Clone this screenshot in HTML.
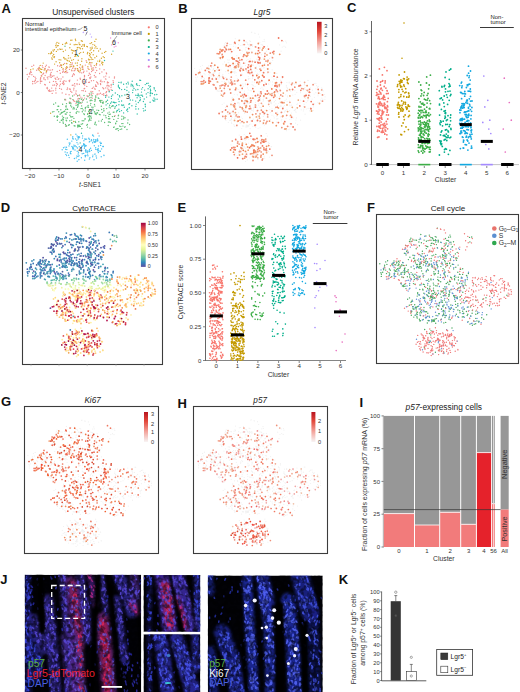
<!DOCTYPE html>
<html><head><meta charset="utf-8"><style>
html,body{margin:0;padding:0;background:#fff}
body{width:520px;height:692px;overflow:hidden;font-family:"Liberation Sans",sans-serif}
svg{display:block}
</style></head><body>
<svg width="520" height="692" viewBox="0 0 520 692" font-family="Liberation Sans, sans-serif">
<rect width="520" height="692" fill="#fff"/>
<text x="1.5" y="12.6" font-size="13" font-weight="bold" fill="#111">A</text>
<text x="178.3" y="13" font-size="13" font-weight="bold" fill="#111">B</text>
<text x="347" y="12.2" font-size="13" font-weight="bold" fill="#111">C</text>
<text x="0.8" y="212" font-size="13" font-weight="bold" fill="#111">D</text>
<text x="177.6" y="212" font-size="13" font-weight="bold" fill="#111">E</text>
<text x="366.9" y="211.6" font-size="13" font-weight="bold" fill="#111">F</text>
<text x="0.9" y="406.2" font-size="13" font-weight="bold" fill="#111">G</text>
<text x="177.6" y="407.6" font-size="13" font-weight="bold" fill="#111">H</text>
<text x="359.6" y="407.4" font-size="13" font-weight="bold" fill="#111">I</text>
<text x="0.2" y="583.6" font-size="13" font-weight="bold" fill="#111">J</text>
<text x="338.7" y="584.2" font-size="13" font-weight="bold" fill="#111">K</text>
<text x="93.3" y="14.6" font-size="8.35" text-anchor="middle" fill="#222">Unsupervised clusters</text>
<g stroke-width="1.4" stroke-linecap="round" opacity="1.0"><path d="M83.4 52.2h0M56.2 47.2h0M81.9 58.7h0M82.4 69.3h0M66.7 66.6h0M101.4 58.3h0M82.5 48.8h0M90.1 43.5h0M70.1 64.8h0M97.8 61.1h0M66.9 60.1h0M94.3 65.6h0M68.3 58.1h0M67.8 60.8h0M78 47.5h0M62.6 44.4h0M65.5 50.1h0M104.4 57.6h0M93.7 50.7h0M71.5 50h0M91.8 69h0M66.7 63.5h0M73.9 51h0M97.1 48.4h0M39.2 70.2h0M56.4 51.4h0M91.1 59.6h0M75.9 55.9h0M96.6 63.4h0M56.1 61.8h0M40.3 71.7h0M58.8 43.3h0M86.8 46.4h0M69.4 61.3h0M98.6 51h0M82.3 67.4h0M91.6 42.7h0M61.6 67.4h0M54.1 57.5h0M46.3 70.7h0M89.3 59.8h0M70.8 40.3h0M84.4 45.2h0M66.3 42.4h0M65.8 58.9h0M79.8 47.8h0M104.6 52.4h0M94.7 45.3h0M78.8 71.5h0M56.2 43.9h0M40.2 65.4h0M44.9 68.5h0M46.5 71.7h0M75.5 54.9h0M79.4 44.4h0M51.8 53.3h0M75.8 44.5h0M89 69.4h0M89.1 63.9h0M43.2 63.1h0M74.9 56.4h0M57.3 45.7h0M51.8 57.9h0M87.4 46.8h0M77.8 70.5h0M38.1 68.7h0M54.6 64.1h0M82.3 66.3h0M77.2 65.5h0M75.4 63.1h0M90.2 54.2h0M94.9 48.1h0M71.2 66.4h0M70.6 62.6h0M41.1 69.4h0M92.1 47.3h0M90.3 47.9h0M61.6 65.5h0M53.4 51.1h0M59.9 48.9h0M30.7 69.8h0M80.5 68.9h0M92.1 48.4h0M65.6 71.4h0M87.4 53.7h0M92.9 44.6h0M58.3 45.6h0M72.4 53h0M72.8 50.5h0M94.9 57.7h0M66.8 43.3h0M75.7 40.6h0M75.3 68.7h0M63.3 51.5h0M80.7 52.6h0M77.3 47.7h0M53.7 54.5h0M39.4 67.9h0M50.4 53.7h0M80.4 48.7h0M62 49.3h0M66.8 63.8h0M81.7 46.4h0M78.4 56.2h0M52.7 55.9h0M70.8 134.9h0M71.7 70.1h0M41.8 69.4h0M80.3 64.7h0M84.2 44.4h0M59.7 62.7h0M78.2 60.2h0M111.6 54.3h0M77 49.8h0M81.3 40.8h0M77.3 63h0M66.4 68.6h0M70.2 44.3h0M54 57h0M82.3 41.3h0M91.5 52.6h0M102.1 53.2h0M73.7 66.7h0M63.6 57.8h0M96.5 64.8h0M82.7 66.1h0M54.5 56.7h0M33.1 68.9h0M84.3 46.2h0M55.7 45.6h0M71.7 60.3h0M88.5 59.1h0M90.4 57h0M103.2 56.7h0M79 42.9h0M57.9 49.7h0M73.7 121.5h0M77.3 68.8h0M60.4 49.4h0M52.2 59.3h0M63.9 57.5h0M51.3 52.6h0M99.8 60.2h0M65.3 43.8h0M68.5 55.6h0M95.9 46.8h0M81.7 61.3h0M105.8 51.4h0M87.7 52.5h0M75.9 54.5h0M75.4 39.3h0M70.3 57.9h0M101.8 63.2h0M91.9 62.8h0M102 62h0M48.7 53.6h0M93.2 54.7h0M77.1 44.6h0M74.2 44.8h0M99.6 61.5h0M44.2 70h0M87.9 66.8h0M41.4 72.5h0M50.6 113.3h0M80.3 70.7h0M51.4 51.9h0M89.4 55.6h0M90.1 50.6h0M63.4 64.5h0M41.7 75.9h0M73.6 66h0M69.8 47.8h0M91.5 57.9h0M60.8 59.9h0M82.7 44.9h0M64.6 58.9h0M57 42.4h0M89.6 62.4h0M66.1 67.6h0M89.6 53.5h0M63.4 68.9h0M40.1 68.6h0M80 44.8h0M72 40.1h0M92.8 59.4h0M89 59.9h0M89.7 55.6h0M103 62.6h0M54.4 49.8h0M100.3 49h0M94.8 41.4h0M59.1 59.7h0M96.6 56.3h0M61 64.7h0M86.8 62.2h0M73.5 59.6h0M77.6 68.8h0M53 50.1h0M102.6 64.7h0M70 67h0M96 39.2h0M91.1 49.6h0M79.4 53.5h0" stroke="#d8a830"/>
<path d="M106.9 85.9h0M78.8 98.5h0M62.2 92.9h0M79.1 101.4h0M104.1 69.7h0M45 69.3h0M56.5 83.5h0M54.5 85h0M27.2 74.5h0M91.1 66.2h0M55.9 81.6h0M77.4 80.1h0M109.2 90.3h0M63.5 82.7h0M89.5 97.9h0M74.1 70.8h0M98.1 84h0M111 87.6h0M93.5 67.9h0M88.5 75.4h0M65.7 99.9h0M46.3 65.2h0M108.5 82.6h0M77.1 84.6h0M62.6 69.1h0M91.3 94.7h0M74.6 83.8h0M36.7 82.1h0M48.9 67h0M90.8 64.9h0M39.3 67.2h0M30 72.9h0M109.2 77.1h0M49 76.8h0M59.6 88.4h0M47.3 77.3h0M31.9 74.7h0M47.9 69.4h0M100.4 81.2h0M42.9 67.5h0M52.2 93.4h0M69.5 69.4h0M47.8 78.9h0M79.7 67.4h0M63.1 81.8h0M89.3 73.2h0M63.3 70.9h0M109 86.6h0M75.3 68.5h0M64.2 83.9h0M65.5 69.3h0M67.5 67.5h0M72.7 68.3h0M99.7 68.9h0M70.7 91.2h0M38.5 68.1h0M109.3 91.3h0M66.7 71h0M44.7 84.5h0M47.5 88.7h0M86.8 86.4h0M60.3 81.2h0M55.7 90.1h0M103.7 93.7h0M57.4 84.2h0M94.8 88.8h0M35.3 80.5h0M49.2 67.3h0M29.8 74.3h0M60.4 84.2h0M99.2 90.8h0M64.7 63.5h0M91 91.5h0M86.4 82.1h0M51.2 77.4h0M96.7 70.5h0M99.6 73.5h0M99.9 65h0M51.2 72.4h0M76.2 94.3h0M83.8 84.3h0M92.3 98.1h0M111.2 84.5h0M45.4 84.9h0M84 81.8h0M103.7 88.8h0M85.3 65.1h0M55.8 81.8h0M52.5 69.8h0M34.3 81.5h0M31.2 72.4h0M50.6 74h0M30.7 71.5h0M69.5 81.5h0M45.5 66.6h0M77.7 95.6h0M90.3 78.3h0M92.7 70.2h0M103.9 76.9h0M51.7 88.1h0M84.5 75.4h0M35.4 79.9h0M77.7 101.2h0M108.2 89.8h0M56 93h0M115 115.7h0M35.1 77.2h0M74.3 74.8h0M41.8 81.2h0M73.2 85.1h0M72 66.1h0M72.3 76.4h0M29.5 73.3h0M50.7 75.2h0M99 94h0M73.6 73.7h0M70.3 89.3h0M111.2 85.7h0M74.2 95h0M79.6 95h0M49.5 90h0M90 78.5h0M79.6 95.6h0M96.6 81.9h0M75 70.1h0M71.8 92.2h0M100.5 93.2h0M87.3 96.6h0M61.5 89.3h0M95.7 86.3h0M113.1 80.7h0M84.1 88.7h0M107.3 85.3h0M108.8 85.4h0M82.7 100.6h0M55.1 78.2h0M96.3 65h0M90.9 76.9h0M28.9 76.8h0M47.1 70.6h0M47.2 87.5h0M55.8 79.3h0M76.1 91h0M41.3 75.9h0M31.9 66.4h0M80.4 79.3h0M40.7 77.8h0M73.7 89.9h0M102.8 87.7h0M85.5 91.3h0M87.1 95.6h0M53.5 81.4h0M84.6 98.1h0M79.4 84.2h0M70.7 102.7h0M67.1 89.5h0M46.2 72.7h0M106.3 72.9h0M67.5 88h0M100.6 84.5h0M113.4 82.4h0M83.6 99.6h0M105.8 76.1h0M79.9 72.5h0M104.3 81.8h0M95.4 72.6h0M83.3 90.7h0M89.8 77.8h0M101.9 71.9h0M88.6 82.4h0M71.9 70.7h0M38.5 69.5h0M86.2 60.7h0M83.9 71.3h0M77 83.6h0M56.5 85.7h0M96.5 86.2h0M74.8 101.4h0M32.7 83.8h0M84.6 88.5h0M95.8 67.5h0M106.8 95.7h0M89.1 95.6h0M103.8 95.3h0M84.7 85.1h0M94.4 75.4h0M27.6 79h0M49.6 82.2h0M105.7 87.9h0M98 133.3h0M66 81.3h0M73.6 100.8h0M106.6 73.8h0M69.2 102.3h0M114.5 76.9h0M106.6 91.6h0M89.3 93.4h0M40.5 78.9h0M59.6 70.4h0M81.7 72.9h0M80.1 78.3h0M40.4 83.1h0M45.1 75.5h0M106.2 92.5h0M50.8 76.9h0M111.2 89.8h0M64.1 80.8h0M69.1 94.8h0M50.3 75h0M50.7 70.1h0M45.2 79.7h0M36.7 70.3h0M91.4 80.8h0M35.9 78.6h0M81.9 90.6h0M67.6 72.6h0M95.9 76.9h0M107.5 81.9h0M43.6 73.3h0M106 92.7h0M107.4 82.9h0M86.9 71.1h0M88.1 68.5h0M45.1 68.8h0M58.8 78.8h0M100.5 83.4h0M93.6 80.6h0M77.5 96h0M72.6 75.1h0M62.9 77h0M106.5 91.8h0M92 67.9h0M58.2 79.2h0M42.8 74.2h0M91.6 71.5h0M97.5 82.7h0M57.2 71.5h0M47 88.3h0M92.5 88.2h0M26 68.2h0M92.2 88.4h0M114.4 78.1h0M53.1 90.8h0M72.3 85.3h0M102 81.8h0M106.6 94.9h0M92.7 91.8h0M52.9 85.3h0M73.9 88.2h0M40.3 80.1h0M65.9 94.3h0M71.9 64.4h0M102.2 94.4h0M101 80.1h0M100.9 100.8h0M84.3 78.1h0M37.9 81.4h0M93.7 87.1h0M69.9 80.1h0M75.8 93.1h0M50.9 75.3h0M49.8 91.4h0M77.9 99h0M95.4 99h0M64.6 72.3h0M63.4 84.6h0M86.5 79.7h0M107.8 88.1h0M51.1 91h0M95.6 84.9h0M62.6 72.3h0M60.3 73.3h0M60.7 65.2h0M40.5 81.4h0M48.8 90.9h0M89.5 82.2h0M82.2 98.1h0M55.8 88.2h0M48.5 90.7h0M66.1 72.8h0M74.9 86h0M52.4 76.2h0M42.3 65.8h0M44 77.7h0M78.3 70.3h0M73.6 100.3h0M76 103.3h0M33.7 65.2h0M40.7 78h0M61.1 78.9h0M59.6 85.9h0M80.8 97.1h0M93.6 69.9h0M59.8 66.2h0M53.9 75.8h0M43.8 78.9h0M97.1 94.7h0M90.4 62.7h0M32.6 81.5h0M49.1 70.1h0M65 99.3h0M93 93.6h0M83.5 72.5h0M70.8 98.8h0M57.6 65.8h0M69.1 80.8h0M63 71.8h0M82.7 67.2h0M41.4 75.4h0M84.5 76.5h0M90.2 74.5h0M33.6 76.4h0M62.4 83.4h0M105.5 78.9h0M97.3 93.9h0M95.1 77h0M83.2 69.3h0M69.4 89h0M35.1 83.2h0M95.1 89.3h0M106 79.1h0M81.1 103.3h0M57.2 77.3h0M72.3 63h0M65.9 125.9h0" stroke="#f09090"/>
<path d="M82.6 135.9h0M89.7 151.5h0M89.5 149.5h0M99.7 151.1h0M72.8 136.8h0M89.3 141.9h0M85.9 150.2h0M77.4 148h0M93 135.6h0M70.4 153.4h0M71.1 151.4h0M93.3 141h0M74 146.6h0M84.4 148.3h0M72.7 147.5h0M79.6 137.1h0M87.6 152.3h0M79 155.7h0M73.1 139h0M95.6 142h0M83.6 144.8h0M85.9 155.5h0M96.5 158h0M78.7 136.8h0M84.8 139h0M98.1 149.1h0M97.3 149.7h0M88.8 138.2h0M97 140.1h0M73.5 148.3h0M78 144.1h0M82.6 146h0M81.2 147.5h0M73.3 138.9h0M78 156.6h0M81.4 157.8h0M94.9 154.2h0M89.3 139.3h0M91.3 140.8h0M79.3 146.7h0M95.8 149.4h0M97.5 138.9h0M97.7 141.1h0M98.3 150.3h0M67.2 152.8h0M75.1 145.8h0M69 145.9h0M71.9 146.5h0M72.7 138.2h0M100.4 151.2h0M79.1 136.6h0M70.4 152h0M85.1 145.3h0M76.3 157.9h0M65.7 149.3h0M103.4 146.5h0M89.7 141.4h0M86.2 152h0M100.6 143.6h0M69.2 157.6h0M65.9 154.4h0M95.7 139.8h0M71.8 141.1h0M83.9 140.7h0M103.9 155.1h0M73.2 149.6h0M84.6 146.8h0M85.6 146.1h0M102.8 146.5h0M77.2 161.2h0M85.6 139.3h0M78.7 136.7h0M65.1 152h0M90.6 148.2h0M83.7 153.4h0M69.2 142.9h0M66.5 147.2h0M65 147.1h0M101.6 148.9h0M72.7 148.6h0M95.7 140.9h0M85.1 155.4h0M75 150h0M94.5 142.3h0M87.6 154.1h0M89.3 159.1h0M89.2 150.7h0M75.5 138.9h0M91.5 139.8h0M67.3 139.3h0M81.8 146.2h0M85.3 156.7h0M82.5 138.1h0M76.2 146.8h0M68.6 155.3h0M87.9 155.8h0M70.1 143.1h0M98.1 148.5h0M87.3 150.9h0M94 159.8h0M76.8 140.3h0M66.9 149.6h0M78.1 139h0M95.7 147.7h0M79 159.6h0M73.9 145.1h0M89 151.3h0M84.5 144.4h0M78 137.2h0M95 153.9h0M86.6 139.1h0M92.7 156.8h0M94.8 141.5h0M92.9 155.1h0M89.9 157.7h0M77 142.6h0M91.4 150.4h0M74.4 158.5h0M70.9 153.8h0M85.6 151.9h0M94.3 145.7h0M97.9 151.1h0M96.1 156h0M86.2 145.8h0M98.4 152.5h0M84 145.2h0M76.9 156h0M93.8 139.4h0M83.8 144.9h0M92.8 135.4h0M92.7 142.7h0M97.9 140.2h0M84.7 160.2h0M66.6 155.6h0M98.5 146h0M62.2 149.7h0M77.2 151.2h0M78.9 137.8h0M92.7 135h0M82.2 153.7h0M77.1 135.9h0M99.1 135.9h0M83.7 143.7h0M69.6 144.3h0M63.5 147.8h0M93.6 136.1h0M101.2 156.8h0M100.1 142.2h0M100.6 145.4h0M85.8 149.6h0M104 155.5h0M101.4 143.2h0M85.5 150.5h0M96 141.6h0M78.9 159.7h0M75.9 134.3h0M78.2 154h0M78.5 152.2h0" stroke="#48c0f0"/>
<path d="M103.2 101.9h0M76.1 105.2h0M77.6 125.8h0M63.1 117.9h0M66.2 106h0M109.7 118.7h0M121 126.6h0M90.9 120.2h0M71.7 107h0M115.6 123.3h0M77.7 104.4h0M74.3 108.7h0M70.7 116.7h0M95.7 95.9h0M82.2 108.4h0M89.1 115.7h0M128 119.9h0M73.8 107.5h0M91.7 113.5h0M78.2 125.8h0M83.9 113.8h0M95.4 122.1h0M96.9 110.1h0M118.6 115.1h0M70 98.2h0M62.7 119.1h0M104.6 122.5h0M80.4 126.4h0M56.9 116.4h0M100.2 101.5h0M123 123.6h0M88.6 120.9h0M65.7 109.5h0M91.4 118h0M63 121.9h0M101.9 100.4h0M83.8 120.8h0M117 128.8h0M52.5 111.9h0M91 99.9h0M94.9 99.4h0M70.1 112.5h0M108.4 118.7h0M65.7 106.1h0M127 129.5h0M106.4 101.5h0M101.6 109.5h0M88.7 111.4h0M73 108.9h0M98.8 121.1h0M69.5 103.3h0M90.2 110h0M63.6 117.5h0M125 117.7h0M91.7 107.1h0M89.7 118.2h0M60.1 114.3h0M98.3 97.9h0M75.2 121.5h0M66.3 114.1h0M88.1 96.6h0M90 116.7h0M108.7 116.4h0M72.9 99.6h0M91 116.1h0M72.6 96h0M67.6 109.4h0M61.9 120.2h0M101.4 121h0M106.7 108.6h0M72.7 116.8h0M69.8 120.8h0M78.5 100.9h0M115.7 123.7h0M92.1 95.8h0M86.8 125.2h0M105.9 101.9h0M66.6 125.9h0M115.9 129.3h0M98.8 98.4h0M88.1 105.5h0M75.6 122.4h0M77.8 127h0M92.8 109.1h0M109.6 105.2h0M108.2 125.5h0M113.8 119.4h0M102.4 119.4h0M78.8 121.8h0M109.7 118.4h0M99.4 114.4h0M71.9 123.2h0M100.4 100.5h0M90.8 103.4h0M87.5 127.1h0M107.8 113.1h0M79.8 98.7h0M77.5 107.3h0M87.6 114.3h0M127.7 123h0M114.1 126.9h0M95.2 122.9h0M71.8 122.7h0M103.7 110.9h0M81.5 99.3h0M79.2 126.5h0M65 46.2h0M103.9 115.1h0M109.6 118.8h0M87.4 124.4h0M99.7 100.4h0M77.9 105.8h0M57.1 109.8h0M70.7 105.7h0M102.4 102.6h0M97.6 113.1h0M95.8 97.2h0M62.2 112.6h0M60.8 109.8h0M55.6 102.9h0M93 107.2h0M58 106.3h0M86.5 99h0M69.9 115.3h0M122.9 126.1h0M87.2 102.1h0M119.6 126.1h0M76.3 113.2h0M82.2 120.7h0M98.6 110.5h0M120.2 129.4h0M57.2 117.4h0M74.2 125.7h0M69.9 102.3h0M77.9 95.5h0M85.4 118.9h0M91.2 93h0M87.1 106.9h0M76.2 112.8h0M67 112.5h0M100.7 102.2h0M118.1 118.4h0M62.6 104.3h0M77.1 111.5h0M66.1 120.2h0M59.9 122.2h0M64.7 111.3h0M116.8 121.5h0M66.6 120.7h0M90.5 105.1h0M71.6 122.6h0M78.9 103h0M89.9 128.1h0M110.3 122.4h0M110.3 107.9h0M129.6 124.5h0M89.2 111.9h0M81 108.6h0M78.9 111.9h0M106.1 117.8h0M79.4 103h0M123.6 117h0M84.8 119h0M65.3 114h0M94.8 124.3h0M114.8 108.3h0M78.4 104.1h0M92 100.6h0M96.3 124.9h0M118.4 130.6h0M71.6 120.1h0M121.8 119.3h0M61.3 120.3h0M71.4 116.9h0M118.3 115.7h0M116.5 111.9h0M76.4 109.3h0M53.7 104.2h0M82.3 111.8h0M100.1 114.7h0M61.2 113.2h0M109.2 114.4h0M103.8 108.7h0M66.1 107.1h0M81.8 128.5h0M80.6 102.7h0M87.7 113.7h0M95.2 100h0M57.9 116.4h0M118 128.6h0M109.3 121.9h0M110.4 114.1h0M95.1 113.8h0M79.4 125.2h0M76.7 101.3h0M89.3 110.4h0M54.3 116.2h0M87.1 107.1h0M123.6 118.7h0M121.9 116.2h0M62.4 116.1h0M109.2 112.1h0M89.6 94.9h0M94.9 101.2h0M73.9 118.4h0M105.7 115.8h0M121.8 123.6h0M81.2 124.2h0M85.4 107.5h0M82.3 102.1h0M103 103.4h0M94.9 106.1h0M104 110.7h0M65.5 124.5h0M108.4 122h0M94.5 104.5h0M78.2 105.9h0M94.4 111.8h0M67.1 108.9h0M112.5 105.7h0M89.6 115.5h0M75 126h0M57.3 115.9h0M124.7 127.2h0M101.3 106.2h0M102.2 112.4h0M96.2 114.5h0M65.9 118.1h0M66.5 103.6h0M63.1 111.9h0M53.9 111.6h0M91 97.5h0M112.4 116.6h0M114.1 112.1h0M67.4 118h0M69.3 124.7h0M63.3 123.2h0M116.7 121.1h0M83.3 99.9h0M89.5 119.5h0M111.8 106.5h0M57.4 120.3h0M93.1 110h0M125.1 126.8h0M81.6 105.9h0M121.7 129h0M85.3 108.8h0M85.2 110.9h0M89.2 120.3h0M63.4 119.8h0M58.7 106.2h0M57.7 109.6h0M70.9 103.8h0M64.1 111.5h0M78 125h0M58.7 111.8h0M113.3 112.3h0M103.1 102.5h0M119.8 126.1h0M90.1 100.7h0M113.7 127.4h0M84.3 114.5h0M114.4 116.4h0M82.6 123.8h0M88.5 107.2h0M68.5 125.2h0M88.2 116.7h0M97.4 112.6h0M83.1 110h0M96.2 113.2h0M91.7 112.9h0M76.8 102.2h0M66 126.2h0M61.5 112.4h0M84 95.5h0M94.8 112.1h0M64.9 99.8h0" stroke="#60c078"/>
<path d="M155 99.2h0M132.6 92.6h0M121.6 89.6h0M118.4 99.1h0M145.2 104.2h0M142.6 96.2h0M127.6 109h0M154 98h0M131.2 84.2h0M135.8 95.3h0M143.7 110.9h0M142.6 87.6h0M117.6 110.4h0M115.3 93h0M126.8 110.3h0M139 95.4h0M145.3 104.8h0M117.6 94.6h0M152.8 100.1h0M145.3 110.2h0M121.6 101h0M121.5 110.6h0M77.6 55.5h0M150.3 92h0M123.3 105h0M113 51.1h0M134 88.5h0M119.4 95.8h0M114 102.2h0M129.6 103.7h0M137.2 114h0M157.1 99.2h0M112.7 94.9h0M152.4 93.5h0M124.9 95h0M135.8 106.5h0M122.1 105.6h0M113.3 102.3h0M141.5 92.1h0M137.1 97.7h0M115.2 106.7h0M127.8 111.6h0M150.3 93.8h0M112.2 90.4h0M124.7 89.4h0M109.2 107.1h0M121.9 95.8h0M118.9 109.2h0M144.6 90.1h0M143.2 108.6h0M146.3 93.9h0M118.4 85.3h0M136.5 84.3h0M148.1 88.7h0M119.6 88.6h0M128.9 104.2h0M138.1 94h0M148.8 85.6h0M131.9 105.7h0M154.7 94.8h0M114.7 102.7h0M135.9 109h0M106.1 104.9h0M119.3 87.8h0M131 85.9h0M128.4 83.9h0M148.1 83.3h0M81.5 133.2h0M123.6 112.9h0M139 96.1h0M145.4 106.8h0M104.5 60.5h0M137.9 89.5h0M142.1 95.1h0M153.5 101h0M135.7 89.9h0M140.2 97.7h0M109.2 91.8h0M118.9 82.4h0M110.6 103.2h0M150.6 90.5h0M156.8 94.5h0M111.6 101.9h0M136.7 83.6h0M105.6 97.2h0M139.2 85.6h0M146.6 97.1h0M124.3 107.2h0M108.9 97.1h0M145.2 84.6h0M119.7 96.9h0M128.9 92.1h0M137.3 95.6h0M150.9 93h0M136.2 104.1h0M129.3 107.7h0M127.2 109.5h0M139.7 100.8h0M121.2 82.1h0M116.8 111h0M126.9 87.1h0M116.5 105.5h0M150.1 102.2h0M126.9 90.5h0M146.6 83.5h0M143.4 101.5h0M113.3 105.9h0M123.7 105.1h0M121.7 104.9h0M119.1 101.5h0M138.4 95.1h0M139.8 80.3h0M114.5 102.5h0M78.1 102.4h0M118.4 86.8h0M141.7 89.1h0M132.7 100.1h0M132.4 85.3h0M127.1 94.2h0M150.5 86.2h0M128 82.3h0M150.3 93.5h0M107.5 100.2h0M135.7 101.1h0M133.1 86.8h0M138.5 108.9h0M132.7 85.2h0M155.4 90.8h0M80.2 142.9h0M144.2 99h0M111.4 98.5h0M107.8 103.6h0M130.3 100h0M137.2 85.3h0M150.4 89.3h0M154.3 88.9h0M105.5 95.6h0M132.2 81.3h0M113.2 84.3h0M140.4 99.8h0M138.3 102.5h0M118.9 104.8h0M141 95.3h0M123.6 84.3h0M154.7 100.9h0M119.6 111.5h0M154.1 87.8h0M116 102.6h0M111.5 96.2h0M148 92.6h0M140.6 80.4h0M121.1 82.8h0M126.4 83.8h0M150.2 95.7h0M132.9 90.2h0M149.6 87.1h0" stroke="#30c0a8"/>
<path d="M86.5 33h0M83.2 32.6h0M90.2 34.1h0M91.5 37h0M83.5 32.2h0" stroke="#c0a8ff"/>
<path d="M113.8 40.6h0M118.3 42.7h0M111.6 44.9h0M115.5 41.6h0M114.2 47h0M110.6 38h0M115.9 46.2h0" stroke="#f090d8"/></g>
<rect x="22.5" y="18.5" width="142" height="150" fill="none" stroke="#3c3c3c" stroke-width="1.1"/>
<line x1="30" y1="168.75" x2="30" y2="170.5" stroke="#333" stroke-width="0.6"/>
<text x="30" y="177.5" font-size="6.2" text-anchor="middle" fill="#333">−20</text>
<line x1="59" y1="168.75" x2="59" y2="170.5" stroke="#333" stroke-width="0.6"/>
<text x="59" y="177.5" font-size="6.2" text-anchor="middle" fill="#333">−10</text>
<line x1="88" y1="168.75" x2="88" y2="170.5" stroke="#333" stroke-width="0.6"/>
<text x="88" y="177.5" font-size="6.2" text-anchor="middle" fill="#333">0</text>
<line x1="116" y1="168.75" x2="116" y2="170.5" stroke="#333" stroke-width="0.6"/>
<text x="116" y="177.5" font-size="6.2" text-anchor="middle" fill="#333">10</text>
<line x1="145" y1="168.75" x2="145" y2="170.5" stroke="#333" stroke-width="0.6"/>
<text x="145" y="177.5" font-size="6.2" text-anchor="middle" fill="#333">20</text>
<line x1="20.8" y1="50" x2="22.5" y2="50" stroke="#333" stroke-width="0.6"/>
<text x="19.8" y="52.2" font-size="6.2" text-anchor="end" fill="#333">20</text>
<line x1="20.8" y1="92.5" x2="22.5" y2="92.5" stroke="#333" stroke-width="0.6"/>
<text x="19.8" y="94.7" font-size="6.2" text-anchor="end" fill="#333">0</text>
<line x1="20.8" y1="135" x2="22.5" y2="135" stroke="#333" stroke-width="0.6"/>
<text x="19.8" y="137.2" font-size="6.2" text-anchor="end" fill="#333">−20</text>
<text x="90" y="186.5" font-size="6.8" text-anchor="middle" fill="#333"><tspan font-style="italic">t</tspan>-SNE1</text>
<text transform="translate(5.8,93.5) rotate(-90)" font-size="6.8" text-anchor="middle" fill="#333"><tspan font-style="italic">t</tspan>-SNE2</text>
<text x="25" y="25.6" font-size="5.85" fill="#222">Normal</text>
<text x="25" y="30.6" font-size="5.85" fill="#222">intestinal epithelium</text>
<path d="M77.5 30 l3 -1 l2 -1.5" fill="none" stroke="#444" stroke-width="0.5"/>
<text x="83.5" y="30.5" font-size="7" fill="#222">5</text>
<path d="M87.5 31.5 L85.5 35.5" fill="none" stroke="#444" stroke-width="0.5"/>
<text x="111.5" y="34.5" font-size="5.6" fill="#222">Immune cell</text>
<path d="M117 36 L114 40" fill="none" stroke="#444" stroke-width="0.5"/>
<text x="112" y="45" font-size="7" fill="#222">6</text>
<text x="76" y="55" font-size="7" text-anchor="middle" fill="#222">1</text>
<text x="84" y="83.5" font-size="7" text-anchor="middle" fill="#222">0</text>
<text x="90.5" y="114" font-size="7" text-anchor="middle" fill="#222">2</text>
<text x="128" y="98.5" font-size="7" text-anchor="middle" fill="#222">3</text>
<text x="80.5" y="151.5" font-size="7" text-anchor="middle" fill="#222">4</text>
<circle cx="148.8" cy="27.3" r="1.1" fill="#F8766D"/>
<text x="155.5" y="29.3" font-size="5.6" fill="#333">0</text>
<circle cx="148.8" cy="33.9" r="1.1" fill="#C49A00"/>
<text x="155.5" y="35.9" font-size="5.6" fill="#333">1</text>
<circle cx="148.8" cy="40.4" r="1.1" fill="#3DAE48"/>
<text x="155.5" y="42.4" font-size="5.6" fill="#333">2</text>
<circle cx="148.8" cy="47" r="1.1" fill="#00AE8A"/>
<text x="155.5" y="49" font-size="5.6" fill="#333">3</text>
<circle cx="148.8" cy="53.5" r="1.1" fill="#12A8E0"/>
<text x="155.5" y="55.5" font-size="5.6" fill="#333">4</text>
<circle cx="148.8" cy="60" r="1.1" fill="#A58AFF"/>
<text x="155.5" y="62" font-size="5.6" fill="#333">5</text>
<circle cx="148.8" cy="66.6" r="1.1" fill="#E870C0"/>
<text x="155.5" y="68.6" font-size="5.6" fill="#333">6</text>
<text x="262" y="14.8" font-size="8.4" text-anchor="middle" font-style="italic" fill="#222">Lgr5</text>
<g stroke-width="1.2" stroke-linecap="round" opacity="1.0"><path d="M251.7 52.2h0M299.9 102.8h0M271.3 102h0M244.4 105.4h0M247.1 98.6h0M245.9 126h0M231.5 118.1h0M250.2 58.8h0M272.2 69.8h0M322.8 99.3h0M271.6 103.6h0M213.5 69.4h0M300.5 92.7h0M243.4 148.4h0M259.3 66.3h0M277.8 118.8h0M224.4 81.7h0M286.4 99.2h0M269.5 58.4h0M277.3 90.5h0M231 144.9h0M289 126.8h0M259.1 120.4h0M257.7 98h0M267.9 151.3h0M250.8 48.9h0M254.8 33.1h0M242.4 70.9h0M310.5 96.4h0M295.5 109.2h0M257.6 100.7h0M279.1 87.7h0M261.7 68h0M251.5 70.3h0M321.8 98.1h0M246.1 104.6h0M234.1 100h0M299.1 84.3h0M303.7 95.4h0M240.4 68.4h0M310.4 87.8h0M258.3 159.2h0M235.3 60.2h0M245.4 84.7h0M240.8 122.9h0M249.8 78.5h0M285.7 110.6h0M228.8 82.4h0M294.7 110.4h0M245.7 148.2h0M306.8 95.5h0M264.3 149.1h0M257.4 115.8h0M236.7 58.2h0M296 120.1h0M238.8 153.6h0M231.1 69.1h0M313.2 104.9h0M259.5 94.8h0M261.5 141.2h0M246.4 47.5h0M242.9 83.9h0M217.4 67h0M285.7 94.8h0M259.9 113.7h0M231 44.4h0M246.5 126h0M233.9 50.2h0M252.2 114h0M259 65h0M261.9 50.8h0M320.6 100.2h0M207.9 67.3h0M217.5 76.9h0M242.4 146.8h0M252.6 148.5h0M313.1 110.4h0M228 88.5h0M289.6 101.1h0M289.5 110.7h0M215.9 77.4h0M200.6 74.8h0M235.1 63.5h0M216.5 69.5h0M263.6 122.3h0M242.3 51h0M265.3 48.4h0M268.6 81.3h0M265.1 110.2h0M211.5 67.6h0M220.6 93.6h0M227.6 44.1h0M207.8 70.3h0M237.9 69.5h0M237.4 78.5h0M318.1 92.1h0M238.3 98.3h0M246.1 155.5h0M257.6 150.9h0M291.3 105.1h0M247.3 155.9h0M281.1 51.2h0M257.5 73.3h0M231.1 119.2h0M231.7 71h0M243.7 68.6h0M244.3 55.9h0M264.7 63.5h0M287.4 95.9h0M248.7 126.6h0M233.9 69.4h0M224.5 61.9h0M254.1 155.7h0M264.7 158.2h0M297.5 103.9h0M259.2 60.7h0M268.3 101.6h0M228.9 60.1h0M239.1 91.4h0M256.8 121h0M305.1 114.2h0M324.9 99.3h0M234.1 109.7h0M266.3 149.3h0M235.1 71.1h0M255.1 46.4h0M255 86.5h0M309.5 110.8h0M228.8 81.3h0M320.2 93.6h0M266.7 51h0M250.6 67.5h0M259.8 42.7h0M224.2 90.2h0M265.1 140.3h0M286.4 42.8h0M271.8 93.8h0M292.8 95.1h0M201.3 78.3h0M231.4 122.1h0M230 67.5h0M296.4 117.9h0M263 88.9h0M198.5 74.4h0M303.7 106.6h0M221 112.1h0M290.1 105.8h0M228.8 84.3h0M259.3 122.8h0M263.1 99.6h0M238.5 112.7h0M259.2 91.6h0M241.7 139.1h0M276.5 118.9h0M254.6 82.2h0M260.3 61.4h0M219.7 77.5h0M257.6 59.9h0M305 97.8h0M264.9 70.6h0M208.9 74.6h0M274.5 101.6h0M267.8 73.6h0M308.1 108.4h0M269.8 109.6h0M252.6 45.3h0M283.3 106.9h0M219.7 72.5h0M252 84.4h0M253.4 85.8h0M260.5 98.2h0M252.2 81.9h0M256.9 111.5h0M241.3 109.1h0M237.8 103.5h0M248.1 47.9h0M253.5 65.2h0M267.7 61.7h0M262.9 45.4h0M227.6 114h0M249.7 158h0M263.1 154.4h0M242 93.4h0M258.4 110.1h0M247.1 71.6h0M295.8 111.8h0M224.2 81.9h0M232 117.6h0M257.6 139.5h0M293 117.9h0M221 69.8h0M259.9 107.2h0M224.7 43.9h0M259.5 141h0M305.4 98.4h0M318.1 93.9h0M257.9 118.4h0M228.5 114.5h0M205 74.8h0M219.1 74.1h0M243.5 121.7h0M234.7 114.2h0M199.4 71.6h0M256.4 96.8h0M257 61.4h0M248 59.6h0M258.2 116.9h0M325.1 96.8h0M276.8 116.5h0M237.9 81.6h0M241.2 99.8h0M208.8 65.5h0M213.4 68.6h0M257.1 148.2h0M214 66.7h0M215 71.8h0M247.7 44.4h0M220.3 53.3h0M258.5 78.4h0M285.6 47.2h0M272 77h0M235.6 153h0M257.2 69.5h0M236 109.5h0M230.3 120.4h0M257.4 63.9h0M286.9 109.3h0M243.4 146.1h0M312.5 90.2h0M225.8 45.7h0M235.2 116.4h0M204 80h0M246 101.4h0M229.6 44.3h0M240.3 146.7h0M226.8 105.2h0M241.1 138.4h0M314.1 94h0M241.4 158.7h0M286.4 85.4h0M246.1 70.5h0M206.7 68.8h0M233.3 65.6h0M274.8 108.8h0M280.6 102.2h0M223 64.1h0M268.6 151.4h0M241.1 117h0M203.7 77.3h0M242.7 74.9h0M241.5 85.2h0M247.4 136.8h0M238.8 152.3h0M304.4 84.4h0M315.9 88.8h0M245.5 65.6h0M287.6 88.7h0M296.8 104.3h0M306 94.1h0M316.6 85.7h0M216.5 81.8h0M271.6 146.7h0M240.3 66.2h0M240.6 76.5h0M198.2 73.4h0M258.5 54.3h0M256.4 68h0M274 102.1h0M219.2 75.3h0M235 126.1h0M285 100.4h0M241.9 73.8h0M283.9 129.5h0M238.7 89.5h0M221.5 55.3h0M247.9 95.1h0M268.7 143.8h0M282.7 102.9h0M218 90.2h0M267 98.5h0M303.8 109.2h0M258.2 78.6h0M247.9 95.7h0M274.2 105.1h0M239.6 66.5h0M256.4 105.7h0M264.8 82.1h0M241.1 68.1h0M240.2 141.3h0M263.3 116.4h0M252.1 140.9h0M246.1 127.2h0M241.5 149.8h0M261.1 109.2h0M277.6 105.4h0M209.7 69.5h0M252.9 147h0M232.4 71.7h0M281.8 119.5h0M255.5 96.7h0M287.3 87.9h0M260.3 47.3h0M263.9 86.4h0M281.1 80.8h0M270.5 119.5h0M253.9 146.4h0M296.3 84h0M252.4 88.8h0M290.7 91.2h0M315.9 83.4h0M277.8 118.6h0M247.6 87.9h0M240.2 123.3h0M268.5 100.6h0M259 103.6h0M291.6 113h0M264.7 41.2h0M306.9 96.3h0M271 146.8h0M313.3 106.9h0M228.3 49h0M255.7 127.3h0M199.4 69.8h0M245.6 161.4h0M197.5 76.9h0M248.1 98.9h0M248.8 69h0M249.7 44.9h0M255.8 114.4h0M295.6 123.1h0M215.7 70.7h0M219 57.6h0M248.2 89.9h0M251.4 32.6h0M224.2 79.4h0M260.3 48.4h0M244.4 91.1h0M209.9 76h0M200.5 66.5h0M234 71.5h0M248.6 79.4h0M261.1 44.6h0M295.1 128.2h0M242.1 90h0M270.9 87.8h0M298.2 86.5h0M222 81.5h0M260.9 144.4h0M246.6 41.9h0M282.2 127h0M240.8 53h0M256.8 52.8h0M240.2 122.9h0M271.9 111.1h0M249.7 99.4h0M239 102.8h0M241.1 50.5h0M213.7 72.8h0M247.5 126.7h0M215.4 78.8h0M276.7 79.2h0M263.1 57.8h0M233.4 46.3h0M272 115.2h0M214.7 72.8h0M272.7 60.5h0M277.6 118.9h0M243.6 68.8h0M255.7 124.6h0M305.8 89.6h0M267.8 100.5h0M309.9 95.2h0M268.8 84.6h0M239.1 105.8h0M270.5 102.7h0M265.8 113.3h0M251.9 99.8h0M245.7 47.7h0M263.9 97.3h0M321.2 101.1h0M230.6 112.8h0M229.2 109.9h0M241.1 148.8h0M208 68h0M303.6 90h0M224.1 103h0M253.4 155.6h0M272.5 81.9h0M261.2 107.4h0M251.4 108.8h0M277.3 91.9h0M251.6 90.8h0M226.4 106.5h0M262.7 142.5h0M254.7 99.1h0M248.3 76.5h0M286.9 82.5h0M238.3 115.5h0M290.9 126.3h0M238.4 61.8h0M255.5 102.3h0M270 72h0M211.6 76h0M219.4 89.1h0M274.4 74.1h0M278.7 103.3h0M244.6 113.3h0M250.5 120.8h0M318.4 90.6h0M207 69.6h0M255.8 154.4h0M235.2 63.9h0M254.4 60.8h0M252.2 71.4h0M288.2 129.6h0M225.7 117.6h0M245.3 83.7h0M242.5 125.9h0M238.3 102.4h0M250 46.4h0M253.6 119.1h0M257.5 159.3h0M264.7 86.3h0M324.6 94.6h0M243.1 101.6h0M259.4 93.2h0M279.7 102h0M264 67.6h0M260 127.8h0M244.6 112.9h0M257.4 95.7h0M235.9 67.9h0M268.9 102.3h0M304.6 83.7h0M257.4 150.9h0M252.9 85.2h0M286.1 118.6h0M196.2 79.1h0M218.1 82.3h0M243.8 139.1h0M259.7 140h0M272.5 84.9h0M221.2 56h0M243.8 126h0M314.4 97.3h0M239.2 135.1h0M228.3 122.4h0M273.9 88h0M266.2 133.5h0M234.4 81.5h0M210.4 69.5h0M252.4 44.4h0M274.7 73.9h0M276.9 97.2h0M237.5 102.4h0M235 120.8h0M228.1 62.7h0M258.7 105.2h0M239.9 122.8h0M250.1 146.4h0M247.2 103.1h0M232.2 97.6h0M246.5 60.3h0M279.7 44.9h0M258.1 128.3h0M287.7 97h0M243.8 148.1h0M245.3 49.9h0M249.6 40.8h0M257.6 93.6h0M272 122.1h0M250.7 138.3h0M236.5 140.7h0M292.9 126.7h0M209.1 79h0M195.8 77.5h0M248.8 125.6h0M297.6 124.7h0M257.4 112h0M296.8 92.3h0M258.4 34.2h0M235.3 38.7h0M274.2 117.9h0M245.6 63.1h0M234.8 68.7h0M247.7 103.2h0M300.6 120.2h0M242.9 97.9h0M304.1 104.2h0M238.6 44.4h0M260.6 120.7h0M222.5 57.1h0M253 119.2h0M248.4 78.4h0M252.2 145.8h0M250.6 41.4h0M242 66.7h0M233.7 114.2h0M235.8 47.1h0M244.5 147h0M259.2 94.6h0M263 124.5h0M237 155.6h0M219.3 77h0M238.5 143.3h0M264.7 64.9h0M220.3 49.9h0M259.7 37h0M232.1 98.8h0M279.3 89.9h0M257 146.5h0M246.7 104.2h0M201.7 69h0M232.5 80.9h0M252.5 46.3h0M260.2 100.7h0M231.7 101.2h0M213 65.7h0M224.1 45.6h0M237.5 95h0M264.4 125.1h0M286.4 130.7h0M218.8 75.1h0M289.8 119.5h0M213.8 79.8h0M229.7 120.5h0M259.6 81h0M239.8 117h0M286.3 115.9h0M245.1 140.5h0M204.5 78.7h0M284.6 112.1h0M244.8 109.5h0M250.2 90.7h0M295.1 109.7h0M236 72.7h0M307.6 100.9h0M222.2 104.3h0M250.5 112h0M228.8 62.6h0M268.2 114.8h0M275.6 82h0M212.2 73.4h0M274.2 92.9h0M246.4 139.2h0M272 108.8h0M240 60.3h0M255.2 71.1h0M256.3 68.6h0M213.7 68.8h0M283.5 41.6h0M289.2 82.2h0M256.8 59.2h0M239.4 149.6h0M250.1 128.7h0M227.3 78.9h0M248.9 102.8h0M281.3 120.8h0M268.7 83.5h0M271.3 56.8h0M247.3 42.9h0M263.4 100.2h0M245.8 96.1h0M284.8 111.2h0M262.3 44.8h0M245.6 68.9h0M247.3 159.9h0M252.8 110.5h0M274.6 91.9h0M296 112.2h0M266.6 68.8h0M260.2 68h0M226.3 116.5h0M303.3 110.9h0M284.5 105.6h0M277.4 122.1h0M278.5 114.2h0M317.9 102.3h0M211.3 74.3h0M220.7 59.4h0M257.2 151.5h0M294.9 90.6h0M259.9 71.6h0M211.7 67.1h0M265.7 82.8h0M225.7 71.6h0M269.2 102.7h0M301.2 109.8h0M314.5 83.6h0M263.3 114h0M245.4 101.5h0M215.6 88.4h0M247.7 125.4h0M260.7 88.3h0M245 101.5h0M294.2 110.6h0M281.4 106h0M291.7 105.2h0M252.8 144.6h0M233.7 43.9h0M194.7 68.3h0M289.7 105.1h0M236.8 55.7h0M260.4 88.5h0M255.4 107.3h0M249.2 72.5h0M204.1 73.6h0M236.7 140.6h0M282.4 78.2h0M291.5 118.8h0M289.9 116.3h0M270.1 81.9h0M259.4 58.2h0M258.9 79.7h0M255.9 52.6h0M277.3 112.2h0M219 78.9h0M280.6 80.2h0M263.1 101.3h0M242.3 118.6h0M273.8 116h0M287.1 101.6h0M307.7 80.4h0M249.8 44h0M258.1 158h0M289.8 123.7h0M249.4 124.4h0M245.3 142.8h0M253.7 107.7h0M234.4 89.9h0M234.3 94.5h0M240.3 64.5h0M243.7 39.3h0M246.4 102.5h0M249.6 74.2h0M271.1 103.6h0M259.7 151.3h0M227.8 80.1h0M286.4 86.9h0M233.9 124.7h0M300.7 100.2h0M252.5 78.2h0M276.5 122.2h0M206.4 81.5h0M261.9 87.2h0M230.8 114.2h0M270.2 62.1h0M262.7 104.7h0M244.1 93.2h0M239.3 154.1h0M225.5 107.4h0M261.3 70.2h0M251.8 32.2h0M219.4 75.4h0M295.1 94.3h0M261.4 54.7h0M318.3 86.3h0M280.6 105.9h0M263.4 95.9h0M218.4 91.5h0M244.7 146.8h0M259.5 120.8h0M257.8 115.7h0M245.4 44.6h0M250.2 74.4h0M242.6 44.9h0M243.4 126.1h0M266.1 151.3h0M272.7 92.8h0M264.2 156.2h0M212.8 70.1h0M246.2 99.1h0M263.6 99.1h0M233 72.4h0M240.8 45.5h0M256.1 66.9h0M292.7 127.4h0M318.1 93.6h0M282.2 47.1h0M275.9 88.3h0M219.6 91.1h0M246.4 71.6h0M269.5 106.4h0M275.6 100.4h0M196.2 81.2h0M270.3 112.6h0M264.4 114.7h0M234.3 118.2h0M257.7 55.7h0M236.1 75.6h0M267.7 46.1h0M231.8 64.6h0M301 86.9h0M231.5 112.1h0M228.7 73.4h0M306.3 109h0M300.6 85.4h0M252.1 145.2h0M210.2 76h0M229.1 65.3h0M323.2 90.9h0M233.6 82.1h0M237.2 94.3h0M242 66.1h0M241 122.4h0M261 135.6h0M217.3 91h0M280.4 116.8h0M285.8 41.2h0M218.1 70.1h0M282.2 112.2h0M266 140.4h0M229.2 59.9h0M248.4 143.1h0M312.1 99.1h0M259.3 76.7h0M235.8 118.1h0M237.7 124.9h0M248.7 139.6h0M241.7 128.5h0M231.7 123.4h0M284.7 121.2h0M217.1 90.8h0M234.9 155.8h0M314.6 103.9h0M234.5 72.9h0M251.6 100.1h0M243.3 86.2h0M275.9 103.8h0M257.7 119.7h0M266.2 51.5h0M279.9 106.6h0M252.8 126.4h0M220.9 76.3h0M225.9 120.5h0M225.5 42.5h0M234.5 67.7h0M247.2 138h0M289.7 129.1h0M305.1 85.4h0M212.6 77.8h0M246.6 70.4h0M253.5 109h0M260.9 135.2h0M231.8 69h0M241.9 100.4h0M202.4 65.3h0M304.9 87.3h0M209.3 78.1h0M219.2 73.2h0M229.5 79h0M253.4 111.1h0M208.8 66.9h0M322.1 89h0M231.8 119.9h0M248.3 44.8h0M273.6 95.7h0M226.2 109.7h0M240.4 40.2h0M249.1 97.2h0M300.1 81.4h0M261.8 70h0M239.3 103.9h0M245.4 136.1h0M261 59.5h0M267.3 136.1h0M281.3 84.4h0M252 144h0M308.2 99.9h0M232.5 111.6h0M222.4 75.9h0M237.9 144.5h0M257.2 60h0M246.3 125.1h0M284 46.2h0M306.2 102.6h0M229.5 89.2h0M227.1 111.9h0M257.9 55.7h0M271.2 62.7h0M265.3 94.8h0M245.3 41.8h0M263 41.4h0M261.8 136.3h0M261.6 54.8h0M217.6 70.2h0M321.8 87.9h0M271.3 102.7h0M243.5 98.4h0M287.9 126.3h0M223.9 110.5h0M247.9 93h0M227.5 59.8h0M269.4 157.1h0M268.3 142.4h0M279.6 96.4h0M265.1 46.5h0M251 67.3h0M250.8 124h0M255.1 33.5h0M256.8 107.4h0M210 75.5h0M252.8 76.6h0M229.4 64.8h0M272.1 155.7h0M258.5 74.6h0M263.8 68.1h0M251.6 145h0M315.8 92.7h0M308.4 80.5h0M289.2 82.9h0M230.8 83.5h0M273.6 79h0M265.6 112.7h0M243.5 94.9h0M251.4 110.2h0M222.8 74.4h0M278.3 93.1h0M276.8 73.4h0M259.9 113h0M270.7 64.7h0M269.5 143.4h0M245.1 102.4h0M238.4 67.1h0M234.3 126.3h0M294.4 83.9h0M230.8 53.1h0M318 95.8h0M263.3 77.1h0M251.4 69.4h0M264.2 39.3h0M237.7 89.1h0M259.4 49.6h0M229.9 112.5h0M263.3 89.5h0M252.3 95.7h0M274.1 79.2h0M247.2 159.9h0M317.4 87.2h0M249.4 103.4h0M244.2 134.5h0M243.7 69.6h0M246.8 152.4h0M225.7 77.4h0M240.7 63.1h0M234.3 126.1h0" stroke="#f0f0f0"/></g>
<g stroke-width="1.8" stroke-linecap="round" opacity="1.0"><path d="M237.9 63.8h0M275.8 107.3h0M282.6 96.2h0M287 90.7h0M242.3 144.4h0M255.4 105h0M243 69.3h0M292.4 83.1h0M236.4 114.8h0M260 113.8h0M230.4 83.2h0M237.6 116.9h0M309.8 92.3h0M222.9 77.1h0M225.4 118.5h0M222.8 96.1h0M262.7 158.8h0M268 72.2h0M234.9 83.9h0M223.7 94.1h0M244.9 138.4h0M243.5 97h0M268.7 104.3h0M220 85.8h0M236.1 115.8h0M213.2 74.6h0M257.5 154.6h0M267.7 116.9h0M265.9 149.6h0M240.7 151.5h0M252.7 156.5h0M239.6 151.4h0M227.8 112h0M249.1 61.6h0M239.2 144.2h0M243.6 110.8h0M246.9 52.5h0M310.7 108.3h0M230.9 80h0M233.3 105h0M237.8 141.7h0M261.5 140.8h0M255.8 142.6h0M257.7 157.7h0M236.4 65.9h0M234.5 67.4h0M307.6 90.6h0M245.2 100.7h0M266.3 122.6h0M259.6 82h0M304.6 82.3h0M248.1 67.3h0M261.4 103.3h0M261.2 152h0M304.5 96.5h0M259.4 99.8h0M239.8 60.2h0M252.4 61.5h0M321.7 89.9h0M234.6 80.9h0M225.7 48.5h0M265 53.5h0M232.3 141h0M255.5 68h0M289.9 102.3h0M260.2 121.2h0M253.8 153.5h0M265.9 123.6h0M272 93.6h0M251.5 65.1h0M251.9 52.5h0M307.2 90.3h0M208.9 78.2h0M264 120.3h0M255.7 157.2h0M258 146.9h0M304.7 107h0M255.4 124.9h0M260.6 148h0M303.5 88.8h0" stroke="#f0a890"/>
<path d="M275 86h0M241.5 139.2h0M249.5 147.7h0M244.5 94.5h0M246 95.8h0M250.5 66.4h0M237.6 157.8h0M258.6 47.9h0M230 65.6h0M247.7 84.3h0M274 76.2h0M248.7 48.7h0M264 77h0M264.1 46.8h0M250 61.4h0M259.7 58h0M258.6 62.8h0M268.5 49.1h0" stroke="#f06048"/>
<path d="M250.9 136.1h0M250.7 69.4h0M235.1 66.7h0M222.9 85.1h0M195.9 74.6h0M313.1 104.3h0M266.2 84.1h0M281.9 40.6h0M239.1 116.8h0M254.1 150.4h0M276.5 82.7h0M261.2 135.8h0M236.2 60.8h0M205.3 82.2h0M241 147.8h0M224.9 51.5h0M216.3 79h0M248 67.4h0M259.3 59.7h0M277.1 86.7h0M232.6 84h0M263.8 142.2h0M208.9 71.8h0M225.4 116.5h0M282.1 102.3h0M291 123.8h0M253.1 139.2h0M216.1 88.8h0M237.7 61.4h0M225.8 84.3h0M252.1 121h0M267.3 91h0M309.3 92.2h0M234.7 42.5h0M234.2 59h0M272.7 52.4h0M199.8 72.5h0M264 149.7h0M243.8 54.9h0M292.6 89.5h0M277.3 107.2h0M252.8 75.4h0M311 108.8h0M276.3 89.9h0M224.5 93.1h0M210.4 81.3h0M253.3 145.5h0M234.1 149.5h0M238.2 121h0M255 125.4h0M299.8 105.9h0M239 62.6h0M299 86h0M275.4 85.5h0M251 100.7h0M249.8 133.3h0M223.6 78.3h0M253.8 139.5h0M209.3 77.9h0M255.4 95.7h0M235.5 89.7h0M244.1 40.6h0M231.7 51.6h0M225.6 110h0M281.4 82.5h0M269.8 149.1h0M248.2 72.6h0M263.6 72.7h0M256.8 82.5h0M240.3 70.8h0M246.8 56.3h0M224.9 85.8h0M246.2 95.6h0M252.8 88.6h0M255.4 107.1h0M271.9 95.4h0M273.7 97.3h0M235.7 139.5h0M240 70.2h0M284.8 121.7h0M282.6 77h0M274.7 91.8h0M278.4 122.6h0M249.3 108.7h0M305.2 95.7h0M291.6 117.2h0M232 57.8h0M282.8 108.5h0M219.2 70.2h0M205.3 70.4h0M258.6 57.1h0M261.8 80.7h0M226.4 49.7h0M242.1 121.6h0M240.9 75.2h0M311.2 101.6h0M273.9 51.4h0M230.9 116.2h0M246.3 137.4h0M257.8 95.1h0M306.2 95.3h0M260.9 91.9h0M242.2 88.3h0M208.9 80.2h0M282.6 102.7h0M309.5 89.3h0M300.4 85.4h0M242.8 158.7h0M260.1 62.9h0M262.5 145.9h0M254.8 79.8h0M219.1 113.5h0M263.8 85h0M248.6 70.8h0M252.3 145.4h0M219.9 52h0M258.4 50.7h0M303.6 101.2h0M245.2 156.3h0M262 139.6h0M234.9 103.7h0M209.1 81.5h0M260.9 142.9h0M257.8 62.4h0M210.9 65.8h0M293.1 127h0M244.4 103.4h0M318.2 89.4h0M257.5 120.5h0M278.6 38h0M228.2 66.3h0M308.8 95.4h0M231.9 148h0M222.9 49.9h0M251.8 72.5h0M254 149.8h0M264.8 56.3h0M255.1 62.2h0M202.2 76.5h0M241.9 59.7h0M265.4 94h0M264.4 113.4h0M253.7 150.7h0M264.2 141.8h0M263 112.2h0" stroke="#f07860"/>
<path d="M224.6 47.2h0M230.7 93h0M257.7 149.7h0M245.7 80.2h0M231.9 82.9h0M240.1 107.1h0M241.1 137h0M257.5 142.1h0M266 61.1h0M250.5 108.5h0M239.5 151.6h0M272.5 57.7h0M277.3 77.2h0M239.8 50.1h0M260 69.1h0M286.7 115.3h0M255.9 152.6h0M231.5 81.9h0M301.9 88.6h0M241 68.4h0M227.3 43.3h0M207.1 68.2h0M277.4 91.4h0M265.5 149.9h0M280.8 95h0M213.2 84.6h0M203.9 80.6h0M259.2 100h0M234 106.2h0M295 129.7h0M268 65h0M246.3 156.9h0M214 85h0M267 121.3h0M202.9 81.6h0M266.4 98.1h0M265.7 139.1h0M280.3 90.5h0M244.1 44.6h0M265.8 141.3h0M266.5 150.5h0M211.7 63.2h0M243.3 56.4h0M255.6 46.9h0M243.7 63.2h0M260.3 96h0M254.4 152.2h0M279.3 85.8h0M322.5 94.9h0M242.6 95.1h0M234.3 154.6h0M272 155.3h0M240.2 92.3h0M268.6 93.3h0M247.1 121.9h0M276.9 85.5h0M267.6 114.6h0M275.9 113.2h0M215.7 87.6h0M226.8 45.6h0M235.2 43.3h0M237.6 143.1h0M234.9 147.4h0M233.4 147.3h0M249 52.6h0M222.2 54.5h0M263.8 141.1h0M258.1 77.9h0M287.6 126.3h0M248.6 64.8h0M233.1 111.5h0M313.1 84.7h0M247.2 112.1h0M249.9 73h0M259.7 52.6h0M270.3 53.2h0M213.7 75.6h0M266.3 148.7h0M262.2 160h0M229.7 113.4h0M255.9 113.8h0M231.3 77.1h0M294.8 87.2h0M226.7 79.3h0M228.9 49.5h0M219.8 52.7h0M268 60.3h0M257.5 110.6h0M222.8 116.4h0M221.6 90.9h0M254.9 139.3h0M221.4 85.5h0M261.1 155.3h0M259.6 150.7h0M244.3 54.6h0M250.6 102.2h0M272.1 110.9h0M269.1 100.9h0M238.3 80.2h0M217.2 53.6h0M262.6 111.9h0M235.5 109.1h0M231.8 84.7h0M209.9 72.6h0M222.4 111.8h0M259.2 97.6h0M224.3 88.3h0M253 160.5h0M251 44.9h0M261.4 110.2h0M249.8 106.1h0M250.5 153.9h0M227.1 106.3h0M228.1 86h0M291.6 84.5h0M322.5 101.1h0M212.3 79h0M201.2 81.6h0M281.4 112.4h0M258.3 100.9h0M261.2 93.7h0M281.8 127.6h0M239.1 99h0M237.5 80.9h0M282.5 116.5h0M236.8 125.4h0M246 68.9h0M221.5 50.2h0M300.8 90.3h0M246.5 154.2h0M233.3 99.9h0" stroke="#f09078"/>
<path d="M257.9 151.7h0M234.6 106.1h0M225 83.6h0M283.7 123.5h0M242.6 108.8h0M258.3 43.5h0M238.5 64.9h0M214.8 65.2h0M263.9 96h0M242.1 107.6h0M247.9 137.3h0M272.8 122.7h0M235.9 67.6h0M251.9 145h0M267.8 69h0M247 137h0M270.1 100.5h0M241.9 148.5h0M285 129h0M246.3 144.3h0M281.3 102.4h0M214.8 70.8h0M239.2 40.4h0M241 96.2h0M269.5 121.1h0M220.3 58h0M244.6 158.1h0M246.8 101h0M283.8 123.9h0M257.9 141.6h0M267.2 94.2h0M263.1 48.2h0M263.9 140h0M243.4 70.2h0M276.3 125.7h0M229.9 89.4h0M264.4 65.1h0M259.1 77h0M245.8 107.4h0M255.6 53.7h0M263.4 123.1h0M252.9 98.2h0M233.5 152.2h0M252 153.6h0M274.5 73h0M235.9 88.1h0M246.2 106h0M308.1 97.8h0M266.7 110.6h0M201.3 83.9h0M274.9 95.9h0M307.1 85.7h0M245.4 111.6h0M279.7 54.3h0M253.6 156.9h0M318.7 93.1h0M274.3 92.6h0M256.2 156.1h0M255.6 151.2h0M277.3 114.6h0M275.5 83h0M263.9 147.9h0M232.3 57.6h0M274.7 95h0M263.2 154.1h0M260.9 157h0M263.1 106.2h0M238.7 58h0M269.9 63.3h0M295.9 82.4h0M254.4 146h0M257.7 82.3h0M250.5 98.2h0M279.5 98.6h0M266.6 146.3h0M245.5 151.4h0M233.4 99.5h0M252.6 114.6h0M231.4 71.9h0M268.7 145.6h0M203.7 83.3h0M247.7 53.5h0" stroke="#f09060"/>
<path d="M247.4 101.6h0M256.8 75.5h0M262.5 65.7h0M257 138.4h0M217.8 67.4h0M222.5 57.5h0M250.9 146.3h0M233.1 63.5h0M271.8 88.9h0M260.9 70.3h0M237.3 146.1h0M221.9 51.1h0M253.8 91.4h0M247 136.9h0M258.8 148.4h0M243.3 150.3h0M218.9 53.8h0M230.5 49.3h0M262.6 75.5h0M241.9 100.9h0M209 83.2h0M250.9 66.2h0M223 56.7h0M235.3 149.8h0M242.2 145.4h0M240.6 85.4h0M263 141.7h0M269.1 80.2h0M253.8 152.2h0M231.1 72.4h0M238.2 47.9h0M230.6 149.9h0M233 59h0M257.8 53.6h0" stroke="#f07848"/>
<path d="M289.6 89.7h0M311.5 111h0M247.7 55.3h0M283.3 93.1h0M198.6 73h0M245.9 55.6h0M220.2 49.4h0M202.7 83.9h0M259.6 118.1h0M237.6 121.3h0M248.2 150.2h0M279.3 84.6h0M247.6 147h0M290.6 115.4h0M259.2 116.2h0M220.2 88.2h0M289.9 95.9h0M283 115.9h0M319.5 103.5h0M243.9 122.6h0M238.4 66.8h0M226.2 64.7h0M219.1 75.6h0M235.4 112.7h0M231 104.4h0M234.5 120.4h0M292.3 107.3h0M267 54.9h0M278.4 108h0M242.4 143.2h0M228.1 70.5h0M249.9 117.5h0M221.5 95.2h0M240 120.2h0M297.3 107.8h0M239.5 155h0M234.5 107.3h0M217.5 81.9h0M286.1 128.8h0M273.7 53.8h0M225.6 83.3h0M270.3 94.5h0M246.5 106.1h0M267.7 61.6h0M225.7 116.1h0M266.6 152.7h0M262.3 50h0M264.4 59.2h0M298.3 100.1h0M208.7 68.7h0M287 104.9h0M287.6 111.6h0M284 102.7h0M226.1 65.8h0M258.7 84h0M256.4 116.9h0M242.5 154.2h0" stroke="#f0a878"/></g>
<rect x="191.5" y="18.5" width="141" height="151" fill="none" stroke="#3c3c3c" stroke-width="1.1"/>
<defs><linearGradient id="gR" x1="0" y1="1" x2="0" y2="0"><stop offset="0" stop-color="#f7f4f4"/><stop offset="0.35" stop-color="#f3a39b"/><stop offset="0.7" stop-color="#e2473a"/><stop offset="1" stop-color="#b8141f"/></linearGradient><linearGradient id="gS" x1="0" y1="1" x2="0" y2="0"><stop offset="0.0" stop-color="#5e4fa2"/><stop offset="0.1" stop-color="#3288bd"/><stop offset="0.2" stop-color="#66c2a5"/><stop offset="0.3" stop-color="#abdda4"/><stop offset="0.4" stop-color="#e6f598"/><stop offset="0.5" stop-color="#ffffbf"/><stop offset="0.6" stop-color="#fee08b"/><stop offset="0.7" stop-color="#fdae61"/><stop offset="0.8" stop-color="#f46d43"/><stop offset="0.9" stop-color="#d53e4f"/><stop offset="1.0" stop-color="#9e0142"/></linearGradient></defs>
<rect x="317" y="21.8" width="4.6" height="31.6" fill="url(#gR)"/>
<text x="324.3" y="27.7" font-size="5.6" fill="#333">3</text>
<text x="324.3" y="36.5" font-size="5.6" fill="#333">2</text>
<text x="324.3" y="45.6" font-size="5.6" fill="#333">1</text>
<text x="324.3" y="54.7" font-size="5.6" fill="#333">0</text>
<line x1="371.5" y1="21" x2="371.5" y2="165" stroke="#555" stroke-width="0.9"/>
<line x1="371.6" y1="164.6" x2="519" y2="164.6" stroke="#aaa" stroke-width="0.7"/>
<line x1="369.6" y1="164.4" x2="371.6" y2="164.4" stroke="#333" stroke-width="0.6"/>
<text x="367.8" y="166.5" font-size="6.2" text-anchor="end" fill="#333">0</text>
<line x1="369.6" y1="120.2" x2="371.6" y2="120.2" stroke="#333" stroke-width="0.6"/>
<text x="367.8" y="122.3" font-size="6.2" text-anchor="end" fill="#333">1</text>
<line x1="369.6" y1="76" x2="371.6" y2="76" stroke="#333" stroke-width="0.6"/>
<text x="367.8" y="78.1" font-size="6.2" text-anchor="end" fill="#333">2</text>
<line x1="369.6" y1="31.8" x2="371.6" y2="31.8" stroke="#333" stroke-width="0.6"/>
<text x="367.8" y="33.9" font-size="6.2" text-anchor="end" fill="#333">3</text>
<line x1="382.5" y1="166" x2="382.5" y2="168" stroke="#333" stroke-width="0.6"/>
<text x="382.5" y="175.2" font-size="6.2" text-anchor="middle" fill="#333">0</text>
<line x1="403.5" y1="166" x2="403.5" y2="168" stroke="#333" stroke-width="0.6"/>
<text x="403.5" y="175.2" font-size="6.2" text-anchor="middle" fill="#333">1</text>
<line x1="424.3" y1="166" x2="424.3" y2="168" stroke="#333" stroke-width="0.6"/>
<text x="424.3" y="175.2" font-size="6.2" text-anchor="middle" fill="#333">2</text>
<line x1="445.2" y1="166" x2="445.2" y2="168" stroke="#333" stroke-width="0.6"/>
<text x="445.2" y="175.2" font-size="6.2" text-anchor="middle" fill="#333">3</text>
<line x1="465.8" y1="166" x2="465.8" y2="168" stroke="#333" stroke-width="0.6"/>
<text x="465.8" y="175.2" font-size="6.2" text-anchor="middle" fill="#333">4</text>
<line x1="486.8" y1="166" x2="486.8" y2="168" stroke="#333" stroke-width="0.6"/>
<text x="486.8" y="175.2" font-size="6.2" text-anchor="middle" fill="#333">5</text>
<line x1="507.3" y1="166" x2="507.3" y2="168" stroke="#333" stroke-width="0.6"/>
<text x="507.3" y="175.2" font-size="6.2" text-anchor="middle" fill="#333">6</text>
<text x="445.5" y="182.3" font-size="6.8" text-anchor="middle" fill="#333">Cluster</text>
<text transform="translate(357.6,96.9) rotate(-90)" font-size="6.8" text-anchor="middle" fill="#333">Relative <tspan font-style="italic">Lgr5</tspan> mRNA abundance</text>
<text x="490.6" y="18.9" font-size="5.9" fill="#222">Non-</text>
<text x="490.6" y="23.8" font-size="5.9" fill="#222">tumor</text>
<line x1="480" y1="27.5" x2="513.8" y2="27.5" stroke="#222" stroke-width="0.9"/>
<g stroke-width="1.8" stroke-linecap="round"><path d="M385.1 108.6h0M384.4 103.1h0M381.7 103.9h0M379.4 68.9h0M378.8 126.2h0M388.2 93.4h0M377.6 137.4h0M378.4 104.3h0M378.9 136.9h0M381.8 115.1h0M383.7 132.2h0M377.6 113.7h0M381 94.1h0M387.4 105.6h0M386.5 93.7h0M388.2 98.3h0M383.8 111.8h0M387.2 90.9h0M381.2 88.1h0M377.7 118.9h0M378.6 103.7h0M379.3 131h0M378.1 107.2h0M380.2 92.6h0M385.2 81h0M379 109.5h0M379.2 127.3h0M377.1 118.6h0M379 114.2h0M383.3 97.9h0M386.3 121.5h0M384.3 123.7h0M384.8 134.2h0M378.8 96.9h0M376.9 89.3h0M379.7 104.2h0M383.8 95.4h0M383.6 96.5h0M376.5 111h0M386 107.3h0M382 113.1h0M377.9 112.2h0M382.9 106h0M382.8 112.5h0M382.1 113.2h0M386.6 108.3h0M380.2 125.9h0M380.6 102.8h0M382.4 81.2h0M376.9 94.9h0M382.4 128.5h0M386.8 139h0M379.1 102.8h0M386.5 114.9h0M387 70.7h0M377.4 113.7h0M385.3 125.4h0M383 97.4h0M377 81h0M387.3 110.4h0M380.1 105.3h0M379.6 109.7h0M381 124.8h0M383.5 125.7h0M378.1 98.6h0M383.5 99.4h0M384.2 86.5h0M379.3 123.2h0M382.2 132.4h0M385.9 127.5h0M382.3 110.4h0M385.1 82.9h0M380.7 92.9h0M384.3 103.8h0M386.9 124.1h0M382.4 114h0M378.9 118.8h0M381.1 122.1h0M382.3 131h0M385.7 131h0M382.7 80.6h0M385.1 129.9h0M384.4 67.3h0M377.9 105.9h0M387.7 119h0M384 127.8h0M378.8 97h0M381.5 117.4h0M384.8 107h0M377.6 86.5h0M382 119.2h0M376.5 103.8h0M382 105.4h0M382.9 113.7h0M380.7 88.9h0M380.7 92.8h0M378.9 94.3h0M380.4 128.2h0M381.8 98.6h0M381 115.7h0M387.8 106.8h0M378.5 106.9h0M379.7 99.3h0M377.7 130.1h0M376.9 126.4h0M377.7 111.3h0M387.4 101.7h0M382.9 124.4h0M379.7 118h0M381.3 88.5h0M381.2 132.1h0M384.9 104.4h0M382.4 74.9h0M384.2 105h0M385.1 99.6h0M378.6 111.7h0M387.6 109.8h0M386.9 134.8h0M384.8 134h0M378.4 96.9h0M380.4 85h0M384.6 97.2h0M388.4 115h0M387.2 109.6h0M376.4 95.3h0M380.7 81.8h0M387.1 112.2h0M382.2 111.2h0M384.7 107.8h0M379.9 110.3h0M385.7 108.2h0M385.9 88.1h0M380.5 82.3h0M382.4 90.3h0M384.5 126.1h0M379.4 91.2h0M380 101.8h0M384.5 123.4h0M387 90.6h0M379.6 98.6h0M382.7 130.4h0M381.4 118.5h0M379 120h0M376.7 92.7h0M383.5 112.1h0M378.9 118.4h0M377.4 131.3h0M377.6 94.3h0M379.7 120.6h0M387.6 128.8h0" stroke="#F8766D"/><path d="M409.5 115.4h0M408.6 92.9h0M401.6 107.6h0M409 111.2h0M400.7 80.8h0M406 92.2h0M407.6 79.7h0M404.3 78.9h0M407.1 79.4h0M397.4 105h0M408.8 93.7h0M403.8 85h0M400.9 80h0M403.3 109.7h0M398.1 103.9h0M400 105.4h0M407.5 82.6h0M397.4 86.4h0M401.7 86.7h0M399 97.6h0M408.2 105h0M409.2 96h0M404.3 119.7h0M399.1 74.9h0M406.4 107.9h0M400.9 134.5h0M397.7 84.7h0M405.7 88.7h0M402.1 105.5h0M408.4 129.6h0M408.7 78.8h0M402.7 108.8h0M408.2 106.2h0M406.8 97.2h0M400.4 109h0M401.1 110h0M401 94.7h0M399.6 83.6h0M407 108.6h0M403.8 96.5h0M405.9 106.8h0M401.7 125.8h0M401.7 100.9h0M403 91.4h0M406.8 97h0M398.4 102.3h0M407.1 77.1h0M404.5 72h0M408.5 116.7h0M408.2 83.6h0M398.9 89.6h0M406.8 109.3h0M403.7 116.7h0M400.7 96.6h0M409.5 106.3h0M407.5 82.7h0M404.3 86.3h0M398.8 112.6h0M404.5 131.6h0M406 126.9h0M403.7 102.1h0M399 117h0M399.2 81.3h0M405.1 115h0M407.3 107.9h0M398.1 108.3h0M399.2 108.2h0M400.4 85.5h0M398.6 114.2h0M402.1 80.6h0M408.8 97.2h0M399.6 106.3h0M400.2 81.9h0M404.9 92.8h0M402.7 111h0M399.1 105h0M397.6 107.5h0M400.3 82.8h0M403.6 78.7h0M403.3 103.8h0M400.9 111h0M401.9 82.2h0M400.7 87.1h0M403.1 123h0M407.4 80.5h0M398.8 92.1h0M402.1 89.3h0M405.4 104.2h0M405.4 102.5h0M401.7 134.8h0" stroke="#C49A00"/><path d="M419.8 114.7h0M418.2 113.2h0M420.1 147.7h0M420.7 131.4h0M424.5 109.2h0M420.3 146.8h0M425.1 112.5h0M423.8 105h0M427.8 123.6h0M426.3 140.7h0M428.5 123.9h0M424.1 135.1h0M420.3 101.9h0M426.9 138.3h0M421.3 132.7h0M425.3 140.7h0M418.9 152.3h0M421 96h0M426.3 124.6h0M422.1 131.1h0M429.5 126.9h0M428 93.5h0M427.1 95.3h0M422.9 103.2h0M418.9 82h0M421.2 139.6h0M423.6 95.5h0M422.7 122.7h0M420.3 134.9h0M419.4 135.2h0M426 142.5h0M425 127.6h0M426.5 122.7h0M420.9 107h0M424.7 132.4h0M418.4 128.9h0M430 140.3h0M419.8 126.5h0M418.2 128h0M428.8 126.9h0M430 149.3h0M427.1 103.1h0M420.7 145.4h0M428.4 133.8h0M429.3 152h0M428.7 131.4h0M425.9 123.7h0M419.7 111.1h0M424.5 151.7h0M418.7 110.3h0M424.8 115.9h0M421.7 90.6h0M428.4 125.5h0M428.9 147.3h0M420.1 118h0M421.1 137.7h0M424.5 104.7h0M425.8 145.9h0M424.9 143.6h0M429.7 108.5h0M430.3 149.6h0M423.3 134.5h0M420.6 135.9h0M420.6 125.4h0M428.2 136.3h0M429.4 149.1h0M418.9 98.6h0M425.1 129.6h0M419 124.1h0M423.3 150.3h0M429.1 134.7h0M427.1 142.8h0M419.4 129.7h0M422.4 147h0M424 130.9h0M420.9 122.4h0M427.8 126.6h0M420.5 133.4h0M426.6 148h0M418.3 144.8h0M422.8 153h0M419.7 128.8h0M419.5 139.7h0M429.3 108.7h0M422.5 110.6h0M421.1 90h0M423.2 128.6h0M427.4 129.5h0M418.7 121.5h0M421.2 116.9h0M423.5 124.2h0M421.6 128.6h0M429.1 143h0M430.5 103.6h0M426.3 116h0M426.2 115.1h0M420.7 85h0M426.8 107.2h0M428.7 112.9h0M422.6 148.8h0M424.9 124.7h0M429.2 120h0M422.1 143.4h0M422.4 141.3h0M423.2 133.9h0M419.1 107h0M429.4 139h0M421.9 116.7h0M427.1 141.9h0M427.9 134.9h0M423.6 115.5h0M427.6 127.6h0M428.5 126.9h0M421.5 132.6h0M430.1 147.1h0M418.8 141.1h0M418.3 118h0M422.8 148.5h0M422.8 146h0M426.3 125.8h0M418.5 137.8h0M429.4 127h0M428.4 130.7h0M421.4 151.2h0M418.4 130.9h0M427.1 146.7h0M427.4 120.9h0M429.9 121.3h0M430.4 114.7h0M424.7 138.7h0M427.6 115h0M423.9 134.8h0M430.4 75.2h0M421.6 127.7h0M426.6 83.1h0M427.7 143.6h0M418.6 139.4h0M421.5 103.7h0M426.2 133.2h0M427.7 114.6h0M426.3 112.4h0M428.5 129.8h0M418.3 117.5h0M418.2 150.8h0M426 111h0M425 126.4h0M419.1 115.4h0M429.9 108.9h0M423.6 148.1h0M421.3 133.2h0M424.2 92.4h0M428.9 129.3h0M426.2 117.7h0M420.4 127.7h0M424.4 99.2h0M425 149.2h0M420.9 124.2h0M430.2 151.8h0M428.6 88.8h0M424.8 126.9h0M419.5 115.7h0M424.4 126.8h0M420.6 124.5h0M425.2 125.5h0M419 115.3h0M418.4 147.4h0M425.6 123.2h0M429.2 85h0M421.7 93.8h0M421.7 110.5h0M420 127.1h0M420.7 140h0M422 136.9h0M427.8 139h0M422.8 143.4h0M420 147.3h0M429.9 128.7h0M425.1 149h0M427.2 100.1h0M424.8 131.7h0M428 98.4h0M425.6 99.9h0M422 145.7h0M429.4 121.5h0M422.2 104h0M421 112.8h0M426.7 76.9h0M423.2 112.4h0M419 106.4h0M422.6 117.6h0M427.9 147.2h0M420.9 129.7h0M429.6 100.7h0M426.5 129.7h0M426.4 82.9h0M423.2 137.3h0M424.4 122h0M429 115.9h0M420.6 110.5h0M420.2 120.9h0" stroke="#3DAE48"/><path d="M444.2 96h0M444.8 118.3h0M449.3 79.3h0M439.3 90.7h0M445.4 117.3h0M445.6 113.5h0M440.6 143.6h0M447.6 104.4h0M443.2 121.2h0M449.2 100.3h0M440.3 141.2h0M448 91.3h0M450.8 69h0M450.3 95.7h0M444.4 152.1h0M448.4 154.3h0M448 135.7h0M445.3 148.6h0M446.4 120.5h0M447.4 119.7h0M441.2 144.7h0M448 115.7h0M441.9 130.8h0M445.1 77.5h0M445.5 91.8h0M445.3 112.8h0M443.8 102.9h0M448.4 131.9h0M450.7 115h0M449.9 124.6h0M442.5 125.8h0M449.9 150.4h0M441.1 132.1h0M442.6 99.9h0M441.1 141.2h0M450.6 120.8h0M440.3 124.6h0M441.9 86.3h0M445.8 124.5h0M445.3 110.7h0M439.5 104.9h0M450 91.1h0M445.1 139.4h0M449.2 126.5h0M450.8 137.1h0M444.3 106.6h0M444.6 135.4h0M450.4 117.7h0M440.5 134.9h0M440.1 98.7h0M440.7 142.3h0M451 129.4h0M449 83.6h0M439.9 123.1h0M440.9 141.2h0M448.1 137.3h0M447.3 97.3h0M450.1 86.2h0M439.5 104.2h0M445.5 88.9h0M441.4 98h0M446.8 140.5h0M442 87h0M446.3 134.1h0M441.4 109.4h0M444.8 135.9h0M445.2 139.4h0M440.6 120.8h0M445.4 130h0M448 131h0M445.1 116.1h0M446.6 94.8h0M447.5 124.3h0M446.6 129.6h0M443.3 135.6h0M445.6 136.6h0M449.4 70.2h0M449.9 137.8h0M446.8 137.6h0M446.4 149.2h0M441.7 143.8h0M450.9 128.4h0M444.2 86.5h0M444.5 149.6h0M441.2 122h0M450.9 94.5h0M443.9 135.5h0M440.6 143.2h0M449.7 84.9h0M439.4 155h0M442.3 146.4h0M444.1 111.2h0M446 71.9h0M444.1 140.1h0M449 86.8h0M439.7 140.8h0M445 113.1h0M439.6 115.1h0M444.6 85.4h0M445.6 112.7h0" stroke="#00AE8A"/><path d="M469.3 75.8h0M467.2 75.5h0M461.2 83.1h0M459.9 133.6h0M463.7 148.1h0M464 93.7h0M460.2 119.4h0M462.2 128.2h0M470 134.4h0M463.2 148h0M461.6 98.7h0M466.5 136.2h0M462.7 103.9h0M469 77.6h0M466.1 116.5h0M460.1 120.6h0M467.4 121.2h0M468.1 115.4h0M469.7 84.2h0M464.3 112.4h0M470.5 96.4h0M465.9 114.5h0M468.3 126.9h0M468.8 120.7h0M466.3 124.6h0M466.9 111.6h0M464.4 125h0M469.3 98.8h0M463.3 103.7h0M471.6 130h0M466.7 117.6h0M462.4 136.9h0M464.6 103.8h0M468.3 123.4h0M465.9 102.4h0M468.6 73.2h0M468.5 84.4h0M465.2 131.5h0M469.2 124.6h0M465.1 122.5h0M463.5 130.7h0M461.4 118.7h0M466.6 126.5h0M462.2 126.9h0M460.6 92.5h0M464.6 130.8h0M470 106.1h0M469 143.1h0M464.7 96.2h0M468.8 110.9h0M468.1 117.2h0M467 125.4h0M462.2 108.1h0M466.6 132.8h0M471.5 146.1h0M462.5 118.4h0M466.5 144.8h0M468.8 114.1h0M464.9 125.5h0M459.8 110h0M466 114.8h0M470.4 109.6h0M461 110.1h0M467.4 100.8h0M466.1 137.2h0M464.8 91.5h0M459.7 85.6h0M468.5 66.2h0M470.5 71h0M470.6 122.8h0M466.6 100.9h0M468.1 111h0M469.6 104.4h0M467.1 99.9h0M465.5 126.5h0M468.9 115.4h0M472 101h0M468.5 108.3h0M465.5 126h0M465.4 125.9h0M471.9 107.5h0M462.1 85.9h0M460.8 119h0M467.3 129.7h0M467 117.7h0M470.6 91.5h0M463.9 107.4h0M463.1 105.8h0M470.9 118.9h0M464.2 104.2h0M466.6 114.7h0M466.9 129.6h0M460.9 131.8h0M466.6 117.3h0M461.2 106.7h0M464.3 124.6h0M467.1 140h0M467.2 84.9h0M470.9 127.7h0M462.5 119.8h0M462.3 118.6h0M461.4 92.6h0M465.5 133.3h0M471.6 111.3h0M461.3 120.2h0M465.4 112h0M463.4 142h0M464.5 119.2h0M469.2 136.6h0M470 125.8h0M463.5 140.1h0M462.3 93.6h0M461.7 106h0M461.4 132.1h0M465 133.5h0M462.7 108h0M467.7 85.7h0M461.8 87.7h0M469.2 91.2h0M467.3 133.4h0M470.5 101.1h0M464.2 107.6h0M471.2 127.1h0M464.1 105.6h0M462 120.6h0M470.9 137.1h0M471 130.4h0M463 123.8h0M467.6 120.3h0M471.9 134.2h0M468.3 137.5h0M466.7 121.3h0M460 112.7h0M467.1 125.2h0M465.2 144.6h0M467.6 103.2h0M466.4 87.5h0M467.2 103.3h0M468.4 107.3h0M470.2 124h0M460.6 133.5h0M465.1 114.6h0M468.4 129.8h0M463 137.3h0M470.2 80.1h0M463.7 140.5h0M467.9 150.1h0M461.7 82.1h0M471.8 148h0M459.8 123.9h0M467.8 141h0M460.4 148.6h0M462 103.7h0M462.9 119.3h0M461.7 132.7h0M468.1 91.1h0M464.7 111.8h0M471.3 148.2h0M461.1 130.8h0M465.4 93.9h0M471.1 115.4h0M460.7 128.2h0M460.7 108h0M463.5 127.1h0M461.7 123.3h0M459.7 123.4h0M470.5 136.1h0M471.3 138.9h0M471.3 132.1h0M470.3 89h0" stroke="#12A8E0"/><path d="" stroke="#A58AFF"/><path d="" stroke="#E870C0"/></g>
<circle cx="404" cy="23" r="0.8" fill="#C49A00"/>
<circle cx="483.8" cy="76" r="0.85" fill="#A58AFF"/>
<circle cx="487.8" cy="100.3" r="0.85" fill="#A58AFF"/>
<circle cx="484.8" cy="106.9" r="0.85" fill="#A58AFF"/>
<circle cx="489.8" cy="120.2" r="0.85" fill="#A58AFF"/>
<circle cx="482.8" cy="122.4" r="0.85" fill="#A58AFF"/>
<circle cx="488.8" cy="129" r="0.85" fill="#A58AFF"/>
<circle cx="490.8" cy="133.5" r="0.85" fill="#A58AFF"/>
<circle cx="485.8" cy="144.5" r="0.85" fill="#A58AFF"/>
<circle cx="488.8" cy="148.9" r="0.85" fill="#A58AFF"/>
<circle cx="504.3" cy="78.2" r="0.85" fill="#E870C0"/>
<circle cx="509.3" cy="102.5" r="0.85" fill="#E870C0"/>
<circle cx="511.3" cy="120.2" r="0.85" fill="#E870C0"/>
<circle cx="503.3" cy="129" r="0.85" fill="#E870C0"/>
<circle cx="505.3" cy="152" r="0.85" fill="#E870C0"/>
<circle cx="402" cy="58.3" r="0.8" fill="#C49A00"/>
<rect x="376.3" y="163" width="12.5" height="3" fill="#000"/>
<rect x="397.3" y="163" width="12.5" height="3" fill="#000"/>
<rect x="439" y="163" width="12.5" height="3" fill="#000"/>
<rect x="501.1" y="163" width="12.5" height="3" fill="#000"/>
<rect x="418.3" y="163.8" width="12" height="1.6" fill="#3DAE48"/>
<rect x="459.8" y="163.8" width="12" height="1.6" fill="#12A8E0"/>
<rect x="480.8" y="163.8" width="12" height="1.6" fill="#A58AFF"/>
<rect x="418.3" y="139.9" width="12" height="3" fill="#000"/>
<rect x="459.8" y="123.1" width="12" height="3" fill="#000"/>
<rect x="480.8" y="139.9" width="12" height="3" fill="#000"/>
<text x="94" y="210.9" font-size="8.0" text-anchor="middle" fill="#222">CytoTRACE</text>
<g stroke-width="1.8" stroke-linecap="round" opacity="1.0"><path d="M82.6 246.7h0M103 264.3h0M44.9 263.9h0M97 278.7h0M82.5 264.8h0M71.5 262.9h0M80.8 273.1h0M48.9 271.5h0M66.2 258.1h0M47.8 264h0M99.3 275.8h0M88.4 267.9h0M62.9 265.5h0M61.6 277.8h0M65 263.9h0M60.1 254.6h0M30 269h0M91.2 255.9h0M51 272h0M79.1 242.3h0M55.5 276.5h0M50.4 268.6h0M57 240.2h0M77.1 265.1h0M47.8 276.4h0M29.7 268h0M52.8 249.8h0M41.1 264h0M91.2 241.7h0M80.6 239.3h0M107.4 273.8h0M112.1 277.1h0M100.8 266.5h0M49.4 276.9h0M105.4 268.5h0M77.5 254.8h0M80.5 235.2h0M67 241.5h0M67.1 267.2h0M60 257.1h0M87.2 263.1h0M87.7 253.7h0M93.2 239.2h0M56.9 266.2h0M56.9 277.9h0M86.8 247h0M92.1 264.8h0M50.7 270h0M81.1 269h0M73.6 239.3h0M63 279.3h0M88.6 250.2h0M60.3 259.8h0M73 260.6h0M65.6 262.2h0M53.7 270.5h0M76.3 236.2h0M58.8 254.3h0M94.1 271.6h0M95.1 233.7h0M104.8 273.8h0" stroke="#3ca0b4"/>
<path d="M69 258.3h0M81.7 263.9h0M27.4 269.2h0M96.8 255.6h0M78.7 249.8h0M93.3 260.2h0M67.3 255.3h0M103.3 252.2h0M30.1 267.5h0M56.1 245.9h0M79 262h0M90.2 254.1h0M72.1 262.9h0M38.5 262.7h0M68.8 255.9h0M98.8 266.8h0M53.8 252h0M70.3 234.8h0M98.8 259.6h0M65.8 236.9h0M65.4 253.4h0M103.4 246.9h0M34.4 276.2h0M74.9 249.4h0M51.6 252.5h0M86.6 241.3h0M81.5 260.9h0M44.5 269.1h0M70.1 257.1h0M61.2 260.1h0M54.9 272.9h0M40.7 272.5h0M50.4 270.2h0M75.1 235h0M88.9 272.5h0M62.1 274.6h0M50.2 248.2h0M61.6 243.7h0M71.1 264.7h0M59.3 265h0M90.5 247.1h0M45 270.2h0M54.2 251.2h0M70.9 254.7h0M57.9 273.9h0M104.4 248.2h0M83.4 256h0M40.3 274.8h0M65.7 275.5h0M95.9 248h0M99.9 274.8h0M69.4 274.8h0M85.7 274.4h0M41.3 267.1h0M89.3 245.1h0M93.2 244.4h0M62.2 267h0M88.7 248.1h0M82.9 246.9h0M32.7 276.2h0M82.7 267.1h0M68.6 275.5h0" stroke="#5064b4"/>
<path d="M105.7 280.6h0M83 279h0M51.5 282.9h0M47.1 282.2h0M82.4 226.9h0M67 282.7h0" stroke="#78c8a0"/>
<path d="M130.4 297.5h0M150.8 294.9h0M127.3 299h0M107.6 291.9h0M133.7 305.7h0M77.4 297.2h0M111.9 279h0" stroke="#f0783c"/>
<path d="M81.9 330.9h0M100.5 344h0M76.2 351.2h0M91.8 337.8h0" stroke="#b4143c"/>
<path d="M102.1 296.7h0M78.4 296.3h0M102.3 298.3h0M74.4 343.3h0M120.1 284.3h0M62.2 339.7h0M143.4 299h0M141.8 305.8h0M89.2 354.1h0M113.9 287.7h0M95.1 344h0M83.1 308.7h0M73.4 341.7h0M88.5 345.9h0M132.4 283.2h0M140.1 287h0M112.7 297h0M97.1 344.2h0M102.5 288.5h0M62.6 316.9h0M90.1 317.6h0M93.9 294.2h0M79.2 345.1h0M58.8 308.7h0M89.3 304.8h0M78.6 341.9h0M123.2 284.1h0M107.9 301.9h0M66.3 311.2h0M78.9 289.8h0M94.1 311.2h0M83.1 335.8h0M86.4 291.4h0M84.8 341.3h0M81.9 295.4h0M76.6 356.4h0M126.1 317.9h0M91.7 339.3h0M71.3 317.6h0M83.8 292.9h0M78.5 321.5h0M141 303h0M94.8 291.9h0M61.8 307.5h0M85.6 293.8h0M56.9 312.3h0M90.3 287.8h0M90.9 322.6h0M74.8 320.8h0M122.8 302.1h0M102.8 316.9h0M81.7 333.2h0M67.6 335.6h0M135.6 290.3h0M73.9 292.5h0M148.9 287.7h0M73.5 338h0M76.3 295.4h0M63.3 293.4h0M87.9 341.4h0M62.9 295.9h0M95.3 319.9h0M125.3 281.8h0M99.9 297.4h0M151.9 284.5h0M93.9 296h0M136.6 289.9h0M90.6 346.2h0M139.9 283.9h0M75.8 341.7h0M88.7 310.4h0M95.1 351.2h0M111.1 311.6h0M66.9 312.9h0M115.3 316h0M110.2 293.3h0M88.6 314.4h0M128.7 294.8h0M75.4 298.1h0M98.1 330.9h0M139.2 290.1h0M122.1 279.1h0M55.2 305.2h0M102.8 350.6h0M82.6 339.8h0M75.3 329.4h0M77.8 347.4h0" stroke="#fff0a0"/>
<path d="M75.4 300.1h0M78.1 293.3h0M153 294h0M88.6 292.7h0M126 303.9h0M88.5 295.4h0M65.2 294.7h0M125.2 305.2h0M143.4 305.1h0M94.4 317.1h0M69.4 293h0M85.1 350.7h0M95.5 353.2h0M139.9 305.5h0M150.4 288.2h0M95.9 335.1h0M123.4 289.8h0M134.1 301.3h0M72.7 334h0M135.4 292.5h0M100.6 304.3h0M87.8 306.3h0M72.4 303.8h0M94 349.3h0M63.1 312.4h0M90.4 335.8h0M74.6 316.4h0M65.9 309h0M107.5 311.3h0M142.8 284.8h0M72.2 333.3h0M117 280h0M111.3 296.9h0M72.1 311.7h0M69.9 347.2h0M113.3 297.6h0M77.1 322h0M117.9 282.5h0M101.3 314.3h0M137.2 290.9h0M101.7 341.7h0M143.6 301.6h0M79.1 293.5h0M86.7 309.2h0M102.6 305.8h0M82.9 348.5h0M86.6 319.4h0M136.2 284.3h0M140.3 289.9h0M82.8 294.5h0M60.4 304.7h0M84.3 350.6h0M69.4 310.2h0M134.9 278.3h0M90.6 334.9h0M144.7 291.9h0M59.5 317.2h0M68.7 297.1h0M66.1 315.6h0M78.2 297.8h0M84.5 351.8h0M128 319.5h0M134.5 298.9h0M84 313.9h0M91 295.4h0M86.5 346.1h0M120.4 314.3h0M70.9 311.8h0M76.1 335.4h0M102.7 303.5h0M119.7 276.8h0M94.2 294.8h0M131.6 304.5h0M76.4 296.2h0M124.7 305.3h0M91.8 351.9h0M80.4 319.2h0M93.6 299.4h0M148.6 280.9h0M100.3 301.1h0M83.2 340.3h0M101.1 307.3h0M131.5 281.5h0M136.7 303.7h0M91.8 330.5h0M79.4 338h0M142.4 293.8h0M62.9 318.2h0M57.1 315.3h0M91.8 330h0M152.3 283.7h0M104.3 290.3h0M57.4 304.5h0M80.1 291.9h0M82.9 338.8h0M77.3 319.9h0M74.5 293h0M146.1 287.4h0M119.7 277.5h0M96.4 307.5h0M90.7 307.8h0M65.5 321.1h0M78.2 354.8h0M80.4 298.1h0" stroke="#ffc878"/>
<path d="M55.9 241.6h0M89.2 238h0M54.2 271.7h0M46.1 265.4h0M89.4 242.4h0M57.5 259.2h0M105.2 267.5h0M79.2 267.1h0M93.4 270h0M110.4 248.8h0M50.5 264.8h0M98.8 254.7h0M75.3 249.1h0M69.8 252.5h0M50.4 308.2h0M51.2 246.4h0M40.1 263.2h0M86 256.7h0M33.7 271.1h0M52.8 244.6h0" stroke="#6450a0"/>
<path d="M88.8 346.6h0M77 320.8h0M71.1 301.8h0M81.5 303.3h0M126.5 314.8h0M70.5 346.6h0M78.9 332.1h0M117.2 310h0M82.9 339.9h0M78 331.8h0M72.9 343.4h0M125.5 324.5h0M123.5 312.7h0M97.2 292.7h0M61.5 315.2h0M91.2 290.6h0M88.8 336.5h0M85.4 347.1h0M94.8 334.8h0M78.1 316.7h0M98.4 309.3h0M106.6 308h0M64.2 306.2h0M78.2 306.8h0M87.1 351h0M60.9 308.1h0M94.7 342.8h0M94.2 308.7h0M88.4 305.3h0M54 311.2h0M81.5 296.9h0M66.6 303.8h0M85.4 340.9h0M53.7 306.5h0M90.1 292.3h0M83.9 355.4h0M97.4 341.1h0M76.5 346.3h0M80.8 300.8h0M112 307.2h0M112.4 322.4h0M99.5 340.5h0M67.9 320.2h0M64.5 294.6h0" stroke="#c82850"/>
<path d="M62.7 312.9h0M90 315.2h0M77.1 299.3h0M129.6 278.9h0M85 345.3h0M76.7 343.1h0M69.9 348.5h0M92.4 336.1h0M116.3 289.4h0M120.1 295.8h0M95.9 304.9h0M121.9 299.8h0M78.3 350.8h0M99.1 296.3h0M155 294h0M113.9 301.6h0M88.4 334.4h0M90.7 301.9h0M148.4 288.6h0M155.3 291.4h0M74.5 341h0M105.5 303.5h0M134.8 279h0M84.3 340.4h0M146.9 280.3h0M104.7 296.8h0M97.8 293.2h0M87.3 300.4h0M72.6 344.8h0M112.5 314.3h0M71.3 318.1h0M70.1 297.5h0M108.3 313.7h0M108 286.5h0M57.6 301.2h0M148.6 285.2h0M86.7 349.3h0M84.6 313.9h0M75.6 307.7h0M99.7 297h0M116.7 313.3h0M66.8 334.4h0M97 328.3h0M89.6 299.9h0M89 323.1h0M118.3 291.6h0M78.7 297.9h0M69.6 338.2h0M60.9 315.3h0M125.6 304.4h0M137.9 295.6h0M99 309.6h0M81 323.5h0M79.8 297.5h0M57.6 311.3h0M122.3 299.9h0M122.1 313.6h0M120.5 311.1h0M104.5 310.8h0M89 352.9h0M76.3 337.7h0M84.6 302.4h0M65 319.5h0M111.2 300.6h0M96.9 346.2h0M94.5 293.8h0M65.4 313h0M83 340h0M78.2 332.9h0M120.2 324h0M135.5 280.1h0M84.5 303.7h0M73 295.1h0M84.4 305.8h0M58.4 306.7h0M118.4 321.1h0M81.8 318.8h0M124.9 278.5h0M61.1 307.3h0M95 336.6h0" stroke="#ffb464"/>
<path d="M61.8 287.7h0M85.7 227.4h0M55.4 284.9h0M75.5 289.1h0M55 288.7h0M77 290.4h0M55.7 287.8h0M98 288.8h0M49.3 284.8h0M99.4 288h0M73.1 284.6h0M86.3 290.4h0M82.5 285.5h0M90.6 231.4h0M52.8 289.9h0M81.1 285.3h0M105.3 286.6h0M105.4 289.7h0M101.1 289.2h0M50.9 285.8h0M86 227.8h0M96.2 288.7h0" stroke="#f0f0a0"/>
<path d="M81.2 253.3h0M112.5 235h0M66.5 254.7h0M77.4 241.9h0M36.7 276.8h0M65.1 244.6h0M92.8 245.2h0M32.1 269.4h0M39.3 264.9h0M68.5 273.1h0M62.7 276.5h0M74.7 263.1h0M55.8 256.4h0M40.3 266.4h0M98.6 263.5h0M66.2 265.6h0M86 240.9h0M81.6 262h0M61.2 262h0M35.4 275.2h0M49.1 261.9h0M64.3 258.1h0M88.5 254.4h0M95.7 265.1h0M51 267.1h0M98.5 256.2h0M93.7 239.8h0M78.1 266.1h0M40.2 260h0M45.4 261.2h0M46.4 266.3h0M78.7 238.9h0M51.6 247.8h0M88.1 264h0M88.2 258.4h0M83.7 270h0M60.8 238.8h0M38.1 263.3h0M41.8 275.9h0M76.5 260.1h0M89.4 248.8h0M87.3 262.6h0M74.4 264.7h0M59.5 243.4h0M30.9 264.4h0M90 271.5h0M29.1 271.5h0M79.7 263.6h0M47 265.2h0M50.3 252.1h0M55.5 274h0M41.3 270.6h0M92 239.1h0M71.8 247.5h0M87.7 247.2h0M66.3 237.8h0M76.7 242.1h0M39.4 262.5h0M79.3 271.1h0M43 270.6h0M87.7 277.1h0M71.4 265.3h0M81 240.9h0M94.8 262.1h0M27.8 273.6h0M70.3 329.9h0M113.2 271.5h0M65.6 261.9h0M27.4 272h0M76.6 257.6h0M81.5 235.8h0M73.1 261.3h0M51.6 244.3h0M33.2 263.5h0M83.5 240.7h0M55.4 240.1h0M50.1 269.6h0M90.4 276.6h0M79.1 261.8h0M58.5 273.4h0M89.5 251.5h0M92.7 275.3h0M78.3 237.3h0M73.1 316.4h0M72 269.7h0M76.6 263.4h0M48.8 276.4h0M97.4 263.3h0M91.1 262.5h0M43 261.6h0M94.9 241.3h0M113.1 272.8h0M50.3 273.5h0M71.4 259h0M100.9 256.6h0M98.5 256.1h0M44.1 264.7h0M87 261.4h0M63 259.1h0M95.2 253.7h0M40.5 276.1h0M60.4 254.4h0M97 246h0M40.7 272.7h0M50.5 267.7h0M60.7 273.6h0M40.3 261.5h0M109.3 232.4h0M79.3 239.2h0M71.5 234.6h0M92.6 264.5h0M88.1 254.5h0M93.8 235.8h0M92.5 249.2h0M48.9 264.7h0M40.3 272.8h0M95.9 240.9h0M62.6 266.4h0M41.4 270.1h0M83.8 271.1h0M69.5 261.7h0M56.9 271.9h0" stroke="#3c78b4"/>
<path d="M106.5 302h0M71.8 317.7h0M117.6 285.3h0M73.3 339.3h0M76.9 250.1h0M123 277.7h0M51.9 288.2h0M77.1 350.5h0M111.4 289.7h0M139.7 286.9h0M88 343.1h0M141.4 303.5h0M58 299.9h0M72.4 353.7h0M149.7 298.2h0M152.7 289.6h0M78.9 290.4h0M80.8 328.2h0M138.4 292.5h0M88.3 290.4h0M104.4 292h0M74.9 343h0M123.4 321.5h0M79.7 320.4h0M131 314.9h0M91.4 315.5h0M83.2 340.7h0M90.1 289.2h0M127.7 302.5h0M134.9 291.1h0M70.5 344.5h0M111.9 315.6h0M76.8 290.8h0M83.7 305.3h0M67.8 335.5h0M130.8 280h0M61.9 308.9h0M56.8 302.1h0M126.4 277h0M90.4 315.6h0M120.4 296.9h0M134 295.9h0M72.1 317.2h0M81.4 292.9h0M79.7 334.5h0M72.8 323.3h0M83.7 321.2h0M148.4 284h0M117.5 299.6h0M137.6 285h0M114.6 297.4h0M135.1 301.7h0M131.3 284.9h0M133.9 283.4h0" stroke="#fff0b4"/>
<path d="M65.7 300.8h0M73.7 303.6h0M94.7 290.7h0M73.2 302.3h0M94.6 337.1h0M100.8 295.2h0M77.4 339.2h0M75.7 353.1h0M64.7 347.1h0M70.2 300.5h0M108 309.3h0M77.3 332.2h0M93.9 300.9h0M84.7 345.6h0" stroke="#b42850"/>
<path d="M66.2 261.2h0M47.6 273.6h0M91 257.4h0M81.9 239.3h0M72.9 254.2h0M77 263.4h0" stroke="#5078b4"/>
<path d="M56.2 278.2h0M100.3 252.9h0M63.1 277.5h0M81.7 243.3h0M73.5 265.4h0M92.6 262.5h0M107.2 277.3h0M67.8 252.7h0M48.7 261.6h0M62.2 238.8h0M89.9 259.5h0M39.4 261.8h0M47.2 272h0M73.3 245.5h0M96.1 242.8h0M58.8 238.5h0M69 264h0M75.3 250.4h0M95.6 258h0M34.2 278.5h0M97.5 245.5h0M66.1 278.5h0M40.3 269.2h0M98.6 268.1h0M83.6 239.7h0M84.5 259.7h0M52.2 264.4h0M55.9 238.3h0M30.9 266.2h0M87.9 255.9h0M79 254.1h0M44.8 263.1h0M89.4 273h0M102.7 271.6h0M35.4 274.6h0M64.4 260.1h0M54.3 258.7h0M35.2 271.9h0M71.4 260.7h0M70.7 261.1h0M72.2 262.7h0M63.6 266.2h0M111.8 275.4h0M95.5 235.6h0M91.1 242.9h0M32 261h0M65.1 266h0M77.6 236.3h0M72.2 245h0M94 252.2h0M74.7 263.4h0M69.5 256.3h0M105.1 268.7h0M38.5 264.2h0M66.3 258.4h0M83.2 265.9h0M67 262.5h0M52.5 250.5h0M41.8 264.1h0M83.4 238.9h0M59.3 257.2h0M76.3 244.3h0M40.5 273.6h0M66.4 233.1h0M65.9 263.3h0M69.7 238.8h0M53.8 251.6h0M79.4 273h0M40.4 277.8h0M50.6 271.6h0M95.5 259.4h0M63.6 275.5h0M90.5 275.5h0M36 273.3h0M106.3 276.6h0M43.6 267.9h0M71.1 254.8h0M86.1 265.7h0M102.1 251.3h0M42.7 268.8h0M52 253.9h0M90.7 266.1h0M64.8 238.3h0M26.3 262.8h0M80.1 267.1h0M35.6 268.2h0M90.3 252.6h0M89.8 274.3h0M111.2 274.8h0M80.8 238.4h0M74.7 233.7h0M37.9 276.1h0M76.4 239h0M64.2 267h0M71.9 239.9h0M77.5 266.2h0M98.5 240.5h0M41.6 270.6h0M88.6 276.9h0M49.4 264.6h0M90.1 271.3h0M65.7 267.4h0M56.7 236.9h0M77.6 265h0M63 263.5h0M33.8 259.8h0M88.8 250.1h0M101.9 257.2h0M60.6 259.3h0M104.3 273.6h0M54 269h0M107.5 267.9h0M101.5 259.3h0M61.9 247.6h0M82.4 263.9h0M90.2 244.1h0M74.8 264.1h0M71.8 257.6h0" stroke="#3c8cb4"/>
<path d="M54.2 279.7h0M60 275.9h0M116.9 237.2h0M109.9 279.2h0M69 276.2h0M76.3 278.3h0M65.5 276h0M110.4 239.4h0M59.3 280.6h0M62 278.1h0" stroke="#64b4a0"/>
<path d="M131 287.4h0M134.1 290.1h0M116.3 305.3h0M137.2 290.2h0M111.7 245.6h0M118 290.6h0M126.3 306.5h0M117.5 304.1h0M122.2 307.8h0M117.5 277.1h0M154.8 289.3h0M110.3 296.7h0M74.9 333.9h0M104.9 312.7h0M81.5 306.7h0M115.1 300.3h0M148.2 297h0M125.4 285.3h0M144.8 278.2h0M117.7 296.3h0M131.1 294.9h0M144.9 298.6h0M106.6 298.5h0M130.6 276h0M138.6 294.6h0" stroke="#f08c50"/>
<path d="M90.2 260.8h0M55.6 276.3h0M62.2 263.7h0M42.8 262.1h0M63.8 278.7h0M90.1 255.2h0M44.6 279.2h0M32.8 272.9h0M57.1 278.9h0M85.6 276.8h0M45.3 279.6h0M83.2 276.5h0M36.5 269.4h0M73.7 269.4h0M71.7 271.1h0M73 268.3h0M107.6 280.1h0M79.6 274h0M45.1 267.4h0M46.7 273.4h0M46.1 267.4h0M85.4 255.3h0M32.8 278.5h0M44.3 260.3h0M45.1 274.4h0M106.2 277.6h0M45 263.4h0M100.9 276.5h0M80.6 268.8h0M59 274.7h0M83.5 272.7h0M92.3 249.2h0M94.6 279.6h0M27.7 275.8h0M67.2 270.2h0M64.8 276.7h0M52.2 270.9h0M44 272.4h0M91.8 254h0M82 261.8h0M89.6 278.6h0M94.7 262.6h0M35.2 277.9h0" stroke="#50a0b4"/>
<path d="M108.4 313.6h0M117 293.9h0M119.6 321.6h0M120.1 305.5h0M72.3 294.4h0M144.4 288.7h0M99.4 346.3h0M146.2 278h0M99.3 295.3h0M78 331.8h0M89.7 343.3h0M101.3 297.4h0M131 280h0M110.3 291h0M83.2 290.3h0" stroke="#ffa050"/>
<path d="M88.6 344.7h0M88.4 337h0M86.8 347.5h0M90.4 312.9h0M68.7 316h0M90.1 294.7h0M68.9 298.2h0M121.1 310.1h0M96.5 334h0M90.1 311h0M65.4 349.5h0M74.9 317.4h0M86.6 322.1h0M125.6 323h0M68.7 338h0M94.7 336h0M118.2 321.1h0M66.5 307.4h0M62.2 299.1h0M65.6 315.1h0M109.1 302.7h0M80.9 312.3h0M71.1 315h0M65.6 302h0M86.8 308.6h0M116.7 323.6h0M90.5 345.6h0M77.5 300.8h0M93.5 306.7h0M57 310.8h0M97.4 347.7h0M81.5 348.9h0M102 297.4h0M89.2 295.6h0M113.1 311.3h0M87.3 311.6h0M73.5 349.1h0" stroke="#dc3c50"/>
<path d="M76.7 274.8h0M87.7 270.1h0M46.1 259.8h0M74.1 263.8h0M51.5 243.9h0M67 262.1h0M75.2 239h0M86.6 248.2h0M80.1 256.1h0M77.9 246.9h0M80 247.1h0M104.7 270.8h0M77.8 250.8h0M79.6 259.3h0M97.8 249.4h0M80.9 267.6h0M36.7 264.9h0M94.9 271.6h0M57.6 244.2h0M62.5 271.7h0M60.1 243.9h0M81 255.9h0M100.7 257.8h0M48.5 248.1h0M90.6 252.5h0M42.3 260.4h0M54.1 244.3h0M89.5 257.3h0M95.6 250.8h0M78.7 248h0" stroke="#5064a0"/>
<path d="M108 285.1h0M108.1 286h0M93.8 283.6h0M98.1 285.6h0M83.3 283.4h0M78.6 282.6h0M104.6 282.7h0M105 287.2h0M110 284.6h0M91.6 282.9h0M52.9 285.6h0M65.6 284.6h0M60.7 283.9h0M68.9 283.8h0M94.1 284.1h0" stroke="#c8f0a0"/>
<path d="M98.6 346.2h0M113.3 290.8h0M152 292.8h0M88.3 310.6h0M143.5 299.6h0M77.5 320.8h0M83.6 343.4h0M62.2 314h0M90.9 308.6h0M79.7 321.4h0M128 298.6h0M87.7 315.8h0M96.3 344.8h0M138.4 303.2h0M77.3 351.8h0M91.4 292.9h0M80.7 353h0M88.8 313.1h0M59.7 309.2h0M89.1 311.7h0M96.7 336.1h0M66.7 347.9h0M67.1 304.3h0M113.7 310.6h0M78.4 331.7h0M146.2 283.4h0M102.3 341.6h0M115.6 295h0M114.6 324.3h0M134.2 303.9h0M71.2 336.2h0M102.8 350.2h0M91.9 304h0M121.2 285.8h0M108.5 313.4h0M128.7 281.1h0M80.7 294.1h0M64.5 240.7h0M66.1 342.3h0M96.6 308h0M93.5 337.4h0M121.5 321.1h0M86.4 297h0M109.3 298h0M75.6 308.1h0M81.4 315.6h0M88.4 354.3h0M74.2 296.3h0M73 295.6h0M81 341.3h0M63.4 292.2h0M143.4 279.3h0M137.9 285.3h0M93.8 319.3h0M68.1 350.5h0M115.2 306.8h0M75.8 304.2h0M53.5 299h0M115.4 305.9h0M109.2 309h0M76.1 296.2h0M83.7 339.5h0M120.3 299.8h0M73.3 313.4h0M138.1 275h0M92 350.3h0M120.4 318.5h0M101.9 298.3h0M82.7 226.6h0M94.2 290.5h0M74.4 321h0M77.2 293.8h0M123.2 322.2h0M95.2 309.4h0M68.8 319.7h0M82.6 294.8h0M110.6 301.3h0M118.2 306.3h0M64.6 294.2h0M152 282.5h0M100.1 352h0M100.3 338.3h0" stroke="#ffdc8c"/>
<path d="M72.2 331.8h0M107.2 313.7h0M65.2 300.9h0M97.8 316.1h0M97.3 345.4h0M64.5 342.2h0M71 317.6h0M97.1 343.6h0M93 355h0M85.8 334.1h0M102.8 305.6h0M92.2 304.9h0M58.3 301h0M77.5 349.1h0" stroke="#c83c50"/>
<path d="M140.8 291h0M68.7 352.8h0M112.8 321.8h0M102.8 310h0M103.4 255h0M151.5 295.8h0M72.1 343.7h0M127.3 286.9h0M117 325.6h0M112 300.7h0M107.2 317h0M70.4 349h0M125.6 289h0M62.7 306.8h0M112.8 307h0M96.9 335.3h0M63 314.7h0M70.3 298.6h0" stroke="#f0a050"/>
<path d="M109.8 282.4h0" stroke="#c8dca0"/>
<path d="M114.3 318.3h0M92 330.7h0M103.5 317.5h0M56.6 311.3h0M65.2 304.4h0M84 334h0M115.6 323.8h0M52.3 306.8h0M94.8 344.6h0M72.1 290.8h0M100.3 315.9h0M65.2 344.4h0M69.3 315.8h0M77.8 295.7h0M114.4 318.7h0M86 320.2h0M107 320.5h0M89.9 298.3h0M76.8 302.1h0M84.8 334.3h0M94.2 317.9h0M77.2 300.7h0M97.5 305.3h0M69.4 297.1h0M86.3 301.8h0M76.4 306.4h0M115.4 316.5h0M77.8 298.9h0M73.8 353.7h0M93.3 340.8h0M92.9 334.5h0M83.5 309.4h0M85 344.7h0" stroke="#b41450"/>
<path d="M69.6 259.4h0M108 271.8h0M70.9 244.5h0M90.9 263.7h0M58.5 237.7h0M31.3 267.1h0M91.8 264.8h0M43.1 257.7h0M74.3 250.9h0M74.7 257.7h0M93.9 242.6h0M69.5 261.3h0M53.2 245.6h0M95.3 259.6h0M58 240h0M62.9 246h0M53.5 249h0M94.4 267.2h0M79.7 243.2h0M67.5 260.5h0M101 247.7h0M63.2 252.3h0M81.9 260.7h0M63.5 252.1h0M51.1 247.1h0M104.6 245.9h0M57 243h0M86.4 262.5h0M79.6 265.3h0M69.3 242.3h0M64.1 253.5h0M88.7 257h0M59.4 260.8h0M82.5 259.7h0M43.7 273.6h0M99.2 243.5h0M57.3 260.4h0" stroke="#5050a0"/>
<path d="M70.2 311.6h0M72.5 334.1h0M87.9 333.3h0M83 315.8h0M80.5 342.6h0M68.5 341h0M56.8 304.7h0M92.1 302.1h0M109.1 317.4h0M122.1 312h0M113.5 303.2h0M66.4 344.8h0M73.3 340.2h0M88.7 289.7h0M93.8 336.5h0M66.1 298.4h0M123.6 321.8h0M88.4 315.3h0M95.2 308.1h0M93.9 307h0" stroke="#a0003c"/>
<path d="M140.8 282.4h0M136.4 288.8h0M108.3 300.1h0M83.8 341.9h0M55.3 297.7h0M73.6 320.7h0M88.3 345.8h0M78.3 354.8h0M126.5 307h0M94.1 349h0M106.3 295.1h0M66.1 350.8h0M69 339.4h0M76.1 297.1h0" stroke="#ffdc78"/>
<path d="M76.5 279.3h0M107.8 281.3h0M85.9 281.1h0M83.9 279.8h0M114.2 236h0M99.4 278.1h0M116.4 235.6h0M114.6 240.7h0" stroke="#8cc8a0"/>
<path d="M60 277h0M74 278.5h0M60 278.9h0M116.2 241.6h0M110 280.4h0M95.6 276.6h0M56.2 280.4h0M96.5 277.4h0M71.7 280h0M52.7 280.1h0" stroke="#64c8a0"/>
<path d="M90.3 289.5h0M54.1 290.7h0M112 297.1h0M110.9 285.1h0M120.5 290.6h0M130.3 300.6h0M129.4 280.6h0M102.6 290.1h0M135 276.9h0M104.9 287.5h0M141.6 296.3h0M68.3 288.9h0M152.7 295.7h0M96.1 289.5h0M109 287.8h0" stroke="#ffffb4"/>
<path d="M90.8 308.4h0M148.3 286.8h0M81.9 341.2h0M87.3 291.4h0M77.1 296.1h0M99.5 338.7h0M104.9 299.8h0M126.8 278.6h0M134 284.6h0M75.6 341.9h0M116.9 310.6h0M77.4 334.1h0M88.1 346.5h0M86.3 302h0M117 281.5h0M84.8 347.1h0M148.3 288.3h0M76.4 331h0M63.6 306.4h0M63.1 342.9h0M92.7 331.1h0M99.1 337.2h0M87.7 302.1h0M138.8 275.1h0M82.3 304.9h0M148.2 290.4h0M147.6 281.8h0M65.5 320.9h0" stroke="#ffa064"/>
<path d="M59.2 283.1h0M107 284.5h0M94.7 281h0M66.6 284.3h0M50.7 283.7h0M89.3 228.5h0" stroke="#b4dca0"/>
<path d="M86.4 299.7h0M67.5 309.6h0M68.7 311.7h0M56.6 313.3h0M93.5 353.7h0M126.9 312.7h0M75.9 333.3h0M74.5 291.6h0M99.5 299h0M67.3 310.5h0M88.4 349.5h0M98.5 311.6h0M96.7 344.5h0M71.7 346.4h0M83.6 351.4h0M70.7 346.3h0M59.1 306.7h0M70.3 339.1h0M74.6 305.6h0M82.3 303.5h0M64.5 299.7h0M68.9 336.5h0M92.3 335.7h0M86.7 337.5h0M88.6 352.6h0M97.1 317.4h0M70.5 349.9h0M92.3 297.9h0M92 347h0M90.2 294.5h0M63.4 335.9h0M91 316h0M84.7 348.4h0M96.8 318.4h0M94.8 315h0M86.6 352.2h0M88.9 341.8h0M86.3 319.6h0M91.5 342.9h0" stroke="#dc5050"/>
<path d="M72.1 342.7h0M121.6 318.6h0M74.4 345.2h0M77.2 290.3h0M80.3 303.5h0M64.8 308.9h0M62 311h0M107.9 307h0M61.8 344.9h0" stroke="#a0143c"/>
<path d="M70.2 286h0M69.8 284.1h0M71.3 287h0M79.2 284.6h0M75.5 285.8h0M84.7 286.1h0M105.4 286.4h0M91.2 283.1h0M91.8 286.6h0M48.7 285.6h0M48.4 285.4h0M102.7 288.2h0M92 288.4h0" stroke="#dcf0a0"/>
<path d="M135.5 308.9h0M120.6 300.5h0M135.8 293.1h0M118.2 283.3h0M135.3 281.9h0M136.5 297.3h0" stroke="#f07850"/>
<path d="M47.4 283.5h0M102.6 283.5h0M72.6 279.8h0M61.1 284h0M101.7 282.4h0M99.6 279.2h0M95.5 280.9h0M103.3 279.5h0M46.9 283h0M73.3 282.9h0M92.8 281.8h0M106.6 282.9h0M55.5 282.9h0M74.3 280.8h0" stroke="#a0dca0"/>
<path d="M90.7 237.1h0M50.5 269.9h0M89.1 273.2h0M68 250.2h0M89.3 269.1h0" stroke="#288cb4"/>
<path d="M69.6 307.4h0M105.3 296.3h0M66.1 320.9h0M98.6 295.2h0M118.8 324.4h0M137.4 280.4h0M108.1 316.8h0M78.7 320.2h0M99.8 295.6h0M70.2 293.6h0" stroke="#fff08c"/>
<path d="M90.1 286.3h0M105.6 290.5h0M88.5 288.2h0M65.4 289.1h0M75.2 287.8h0M103.4 287.4h0M78.9 287.7h0" stroke="#f0ffb4"/>
<path d="M84.3 280.4h0M83.8 283.2h0" stroke="#8cdca0"/>
<path d="M73 288.1h0M68.6 289.6h0M113.2 297.4h0M74.6 289.6h0" stroke="#ffffc8"/>
<path d="M71.3 341.6h0M88.3 306.8h0M153.4 285.6h0" stroke="#ffb478"/>
<path d="M51.3 280.4h0M106.1 280.1h0M53.3 276.1h0M78.7 278.9h0M103.2 276.5h0M112.8 241.5h0M59.9 267.9h0" stroke="#50b4b4"/>
<path d="M73.6 289.8h0M49.7 286.2h0" stroke="#f0f0b4"/></g>
<rect x="22.5" y="212.5" width="140" height="152" fill="none" stroke="#3c3c3c" stroke-width="1.1"/>
<line x1="31" y1="364" x2="31" y2="366.2" stroke="#999" stroke-width="0.5"/>
<line x1="59" y1="364" x2="59" y2="366.2" stroke="#999" stroke-width="0.5"/>
<line x1="87.2" y1="364" x2="87.2" y2="366.2" stroke="#999" stroke-width="0.5"/>
<line x1="116" y1="364" x2="116" y2="366.2" stroke="#999" stroke-width="0.5"/>
<line x1="144" y1="364" x2="144" y2="366.2" stroke="#999" stroke-width="0.5"/>
<rect x="140.9" y="222.8" width="4.8" height="44.1" fill="url(#gS)"/>
<text x="147.8" y="225.1" font-size="5.2" fill="#333">1.00</text>
<text x="147.8" y="235.7" font-size="5.2" fill="#333">0.75</text>
<text x="147.8" y="247.4" font-size="5.2" fill="#333">0.50</text>
<text x="147.8" y="258.1" font-size="5.2" fill="#333">0.25</text>
<text x="147.8" y="267.6" font-size="5.2" fill="#333">0</text>
<line x1="205.5" y1="216.4" x2="205.5" y2="361" stroke="#555" stroke-width="0.9"/>
<line x1="203" y1="360.5" x2="205" y2="360.5" stroke="#333" stroke-width="0.6"/>
<text x="201.3" y="362.6" font-size="6.0" text-anchor="end" fill="#333">0</text>
<line x1="203" y1="326.8" x2="205" y2="326.8" stroke="#333" stroke-width="0.6"/>
<text x="201.3" y="328.9" font-size="6.0" text-anchor="end" fill="#333">0.25</text>
<line x1="203" y1="293" x2="205" y2="293" stroke="#333" stroke-width="0.6"/>
<text x="201.3" y="295.1" font-size="6.0" text-anchor="end" fill="#333">0.50</text>
<line x1="203" y1="259.2" x2="205" y2="259.2" stroke="#333" stroke-width="0.6"/>
<text x="201.3" y="261.4" font-size="6.0" text-anchor="end" fill="#333">0.75</text>
<line x1="203" y1="225.5" x2="205" y2="225.5" stroke="#333" stroke-width="0.6"/>
<text x="201.3" y="227.6" font-size="6.0" text-anchor="end" fill="#333">1.00</text>
<line x1="216.3" y1="361" x2="216.3" y2="363" stroke="#333" stroke-width="0.6"/>
<text x="216.3" y="368" font-size="6.2" text-anchor="middle" fill="#333">0</text>
<line x1="237.5" y1="361" x2="237.5" y2="363" stroke="#333" stroke-width="0.6"/>
<text x="237.5" y="368" font-size="6.2" text-anchor="middle" fill="#333">1</text>
<line x1="257.9" y1="361" x2="257.9" y2="363" stroke="#333" stroke-width="0.6"/>
<text x="257.9" y="368" font-size="6.2" text-anchor="middle" fill="#333">2</text>
<line x1="278.6" y1="361" x2="278.6" y2="363" stroke="#333" stroke-width="0.6"/>
<text x="278.6" y="368" font-size="6.2" text-anchor="middle" fill="#333">3</text>
<line x1="299.2" y1="361" x2="299.2" y2="363" stroke="#333" stroke-width="0.6"/>
<text x="299.2" y="368" font-size="6.2" text-anchor="middle" fill="#333">4</text>
<line x1="320" y1="361" x2="320" y2="363" stroke="#333" stroke-width="0.6"/>
<text x="320" y="368" font-size="6.2" text-anchor="middle" fill="#333">5</text>
<line x1="340.5" y1="361" x2="340.5" y2="363" stroke="#333" stroke-width="0.6"/>
<text x="340.5" y="368" font-size="6.2" text-anchor="middle" fill="#333">6</text>
<line x1="205" y1="360.5" x2="346" y2="360.5" stroke="#666" stroke-width="0.8"/>
<text x="278.4" y="376.5" font-size="6.8" text-anchor="middle" fill="#333">Cluster</text>
<text transform="translate(183.2,292) rotate(-90)" font-size="6.7" text-anchor="middle" fill="#333">CytoTRACE score</text>
<text x="323.5" y="214.3" font-size="5.9" fill="#222">Non-</text>
<text x="323.5" y="219.3" font-size="5.9" fill="#222">tumor</text>
<line x1="312.8" y1="223.5" x2="347.4" y2="223.5" stroke="#222" stroke-width="0.9"/>
<g stroke-width="1.6" stroke-linecap="round"><path d="M213.7 298.7h0M213.3 336.5h0M220.9 325.8h0M222.8 343.8h0M210.8 323.7h0M220 330.1h0M218.8 291.1h0M217.5 281h0M223 312.9h0M218.8 306.4h0M222.7 331.9h0M213.2 298.3h0M212.5 342.9h0M216.5 283.3h0M215.9 320.7h0M218.5 313.3h0M210.9 333.5h0M211.7 285.1h0M221.8 332.3h0M211.7 330.5h0M215.5 297.6h0M218.9 310.8h0M212.8 320.9h0M216.1 310.2h0M222.1 357.1h0M222.1 282.3h0M213.2 324.9h0M211.7 310.9h0M217.6 335.3h0M222.4 316.6h0M218.5 348.8h0M210.7 356h0M214.2 348.7h0M218.5 321.9h0M213.7 346.1h0M215.4 288.7h0M217.1 347.6h0M211.7 360.1h0M214.9 314.5h0M214.6 321h0M222 340.2h0M222.2 333.9h0M213.4 333.1h0M217.6 287.5h0M218.6 331.5h0M221.5 285.6h0M214.4 340.8h0M217.6 360.4h0M212.6 354h0M213.6 356.8h0M211.9 328.4h0M218.7 334.5h0M222.5 338.7h0M216.5 327.2h0M214.2 293h0M215 305.6h0M211.3 347h0M209.7 303.1h0M215.2 304.4h0M219.6 324.9h0M221.9 292.9h0M219.2 295.1h0M211 279.2h0M219.8 325h0M209.6 353.8h0M213 269.1h0M221.4 309.1h0M210 321.6h0M210.2 322h0M215.3 329.6h0M209.8 296.3h0M215.2 336h0M210 335.6h0M216.7 299.2h0M216.8 345.8h0M216.2 348.4h0M215.7 331.6h0M221.8 283.6h0M217.2 266.3h0M210 333.2h0M220.5 299.9h0M219.4 317.6h0M213.6 307.2h0M219.7 345.1h0M210.6 298.3h0M220.3 279.7h0M217.9 277.2h0M218.9 294.1h0M212.4 312.5h0M218.9 279.6h0M210.1 318.5h0M213.4 345.3h0M220.1 343.2h0M215.8 337.5h0M210.8 307.4h0M212.5 301.2h0M217.8 299.6h0M217.6 325.3h0M217.1 320.7h0M220.7 333.7h0M216.3 289h0M214.8 346.3h0M217.3 305.2h0M222.9 319.8h0M216.7 297.9h0M215.6 297.7h0M217.5 347.5h0M215.1 313.2h0M213.4 297.6h0M214.6 277.7h0M222.4 328.8h0M212.4 327.4h0M221.3 336.3h0M222.8 278.1h0M212.5 331h0M220 337.2h0M218.8 304.9h0M216.3 307.2h0M215 341.7h0M222.1 336.5h0M214.9 287.4h0M219.9 291h0M210.8 303.3h0M215.2 325.5h0M212.5 358.1h0M210.6 318.4h0M209.8 326.3h0M218 346.6h0M209.8 280.8h0M214.8 294.4h0M221.9 344.3h0M212.8 300h0M212.2 300.8h0M209.9 355.1h0M218.8 322.1h0M211.9 340.3h0M220.4 306.8h0M221.9 287.5h0M210.4 300.1h0M215 303.4h0M214.7 321.1h0M221.5 280.4h0M217.8 300.6h0M215.5 268.9h0M220.5 355.5h0M210 299.8h0M218.1 282.9h0M210.9 294.6h0M217.4 297.1h0M214.5 300.1h0M212.8 348.6h0M214 338.4h0M219.1 322.1h0M214.2 297.1h0M215.6 332.8h0M210 337.5h0M209.9 316.8h0M219.2 313.3h0M217.2 300.6h0M218.7 300.8h0M211.2 293.1h0M213 288.6h0M217.4 289.3h0M214.5 359.5h0M216.5 287.7h0M222.7 285.2h0M216.3 311.4h0M222.1 328.9h0M216.1 287.6h0M218.6 328.7h0M212.3 341.7h0M219.4 309.6h0M216.3 344h0M209.7 307h0M220.2 292h0M214.4 298.4h0M222.4 308.1h0M222.6 337.8h0M210.6 315.5h0M216.6 323.1h0M212 293.8h0M212.6 265.4h0M222.8 345.6h0M219.6 337.3h0M221.8 283.7h0M212.3 335.2h0M216 296.7h0M210.2 286.7h0M216 354.4h0M210.9 320.7h0M213.6 310.4h0M221.8 324.5h0M218.2 323.5h0M219.8 307.4h0M215 280.1h0M214 307.7h0M218.3 336.7h0M214.1 316h0M218 318.4h0M212 297.2h0M216.4 285.7h0M219.8 345.5h0M221.2 352.6h0M220.7 303h0M212.7 351.4h0M219.9 334.9h0M222.1 303.2h0M213.9 304.3h0M211.8 327.3h0M213.9 305h0M217.6 320.8h0M212.6 299.7h0M220.8 282.3h0M219.4 334.9h0M213.7 334.1h0M209.6 296.7h0M215.1 284.9h0M215.7 348.8h0M212.3 292h0M220.8 339.1h0M214.7 324.7h0M220.3 298.6h0M213.2 323.7h0M219.3 347.1h0M222.4 271.8h0M214.8 267.3h0M212.9 269.1h0M210.3 272h0M216.8 331.8h0M215.9 336.7h0M222.8 354.3h0M221.4 291.5h0M217.1 312.4h0M216.9 333.1h0M220.6 313.9h0M220 348.7h0M219.6 302h0M220 277.5h0M213.9 342.5h0M212.2 330.2h0M217.7 280h0M218.2 282.8h0M220.4 293h0M223 355.5h0M223 313.1h0M213.9 265h0M214 336.8h0M210.8 354.2h0M211.7 351.1h0M217.3 289.2h0M212.1 306.1h0M220.6 303.3h0M223 286.1h0M212 332.8h0M220.1 322.5h0M221.6 281.1h0M218 335.9h0M213.9 359.8h0M217.4 288.9h0M218.4 315.9h0M222.1 291.7h0M217.3 300.7h0M213.7 348.1h0M222.3 315.9h0M214.2 349.8h0M222.1 287.6h0M211.7 343.6h0M222 280.6h0M221.4 358.2h0M222.4 283.3h0M221.1 287.9h0M215.5 356.4h0M217.5 296h0M216.4 279.4h0M211.7 317.3h0M219.6 281.8h0M215.1 277.2h0M216.4 352.9h0M222.4 317.9h0M215.2 328.7h0M214.4 283.8h0M222.4 355h0M219 341.3h0M221.4 292.7h0M219.4 279.8h0M221 356.7h0M216.6 359.7h0M210 321.2h0M219.6 342.9h0M220.7 308.8h0M216.6 345.9h0M218.6 292.8h0M220.2 283.1h0M215 343.4h0M218 290.1h0M209.9 358.3h0M211.5 299h0M219.9 315.3h0M210.9 346.3h0M215.2 341.9h0M215.8 279.4h0M215.5 285.3h0M209.5 292.8h0M213 285.2h0M222.5 315.3h0M216.2 352.4h0M211.2 312.7h0M211.4 293.1h0M219.3 298.3h0M212.9 309h0M213.6 299.4h0M217.5 321.8h0M213.1 277.8h0M214.6 333.1h0M221.1 298.9h0M218.1 293.6h0M209.7 278.5h0M212.7 290.6h0M216 359.5h0M221.3 344.8h0M223 276.4h0M215.5 338.5h0M216.5 305.6h0M212 277.1h0M220 287.5h0M221.1 352.4h0M220.1 338.5h0M216.9 358.4h0M220.8 278.9h0M211.2 300.8h0" stroke="#F8766D"/><path d="M238.2 348.3h0M243.9 272.6h0M242.7 338.4h0M240 356.7h0M240.8 329.8h0M238.4 339.4h0M238 359.2h0M244.3 341.8h0M240 356.2h0M233.8 308.4h0M238.1 281.4h0M233.4 291.6h0M236.2 334.3h0M236.4 346.4h0M240.5 351.8h0M240.3 358.5h0M240.7 329.4h0M241 334h0M232.9 347.5h0M244 272.2h0M236.4 356.2h0M235.5 328.1h0M232.6 334.9h0M238.7 340.9h0M232.6 329.5h0M239.4 351.7h0M241.2 346.3h0M236.7 328.7h0M239 318.7h0M241 336.7h0M243.6 307.8h0M234.2 337.9h0M233 322.4h0M237.3 308.2h0M231.9 346.4h0M242.5 305.1h0M237.4 337.6h0M231.5 322.2h0M242.2 339.7h0M239.4 306.9h0M234.1 342.5h0M240.4 360.2h0M233.7 344.7h0M244.3 353.3h0M239 320.4h0M242.5 316.5h0M232.2 334.8h0M232 315.4h0M233.9 334.4h0M238.9 313.2h0M231.2 312.9h0M237 321.9h0M236.1 305.2h0M236.6 312.1h0M233.2 298.9h0M234.7 325.5h0M236.9 359.7h0M240 293.9h0M234.5 334.4h0M240.2 325.7h0M232.9 311.3h0M239.5 308.2h0M241.3 311.8h0M231.9 347h0M241.7 346h0M234.9 295.4h0M236.2 303.3h0M241 315.5h0M237.3 337.4h0M235.6 348.7h0M230.9 355.9h0M237.6 352.1h0M238.3 326.6h0M231.7 343.8h0M243.1 341.3h0M232.7 308.6h0M232.5 350.9h0M240.7 337.7h0M239 278.5h0M233.8 295.1h0M232.8 328.2h0M233.8 305.6h0M242.6 329.1h0M232.7 338.6h0M242.4 334.5h0M238.3 348.6h0M233.2 299.8h0M238.5 349.7h0M234.3 292.9h0M241.6 324.4h0M243.3 350.7h0M231.7 345.9h0M242 325.8h0M238.6 310.4h0M244.1 335.7h0M232.1 318.9h0M235.4 328.8h0M241.9 304.6h0M242.1 353.2h0M238.7 348.7h0M231 333.6h0M242.9 342.9h0M231.6 341.4h0M234.5 334.7h0M231.1 336.3h0M241.1 322.2h0M239.7 349.8h0M234.8 341.7h0M237.6 338.9h0M244 339.8h0M243.9 308.2h0M238.7 340.1h0M231.6 333.9h0M233.3 356.1h0M244.2 279.3h0M243.3 335.2h0M232 325.5h0M240 341.6h0M237.2 323.8h0M234.9 330.3h0M234.1 348.9h0M233.4 353.5h0M231.8 343h0M234.2 358h0M238.3 304.4h0M230.7 333.1h0M235.1 306.1h0M238.4 338.9h0M233 358.6h0M238 320.1h0M240 303.1h0M233.1 350.4h0M241.2 337.7h0M236.8 338.5h0M242.8 305.9h0M243.4 332.3h0M240 302.7h0M232.1 330.8h0M239 356.3h0M239.7 348.2h0M243.5 310.8h0M234 334.1h0M237.4 334.6h0M231.5 334.9h0M242.2 289.6h0M238.7 311.8h0M239.6 333.3h0M240.3 286.7h0M239.4 340.1h0M241.1 356.8h0M236.2 343.6h0M237.4 347.3h0M236 347.4h0M234.6 339.3h0M242 334.4h0M242.8 358.1h0M233.1 317.7h0M231.1 359.2h0M235.5 293h0M240 338.3h0M242.2 346.8h0M231.3 342.1h0M233.2 348.2h0M240.4 351.9h0M239 345.1h0M242.9 350.2h0M243 352.7h0M235.2 306.5h0M233.8 350h0M232.8 292.4h0M234.2 316.1h0M240.4 282.6h0M243.5 295.6h0M236.3 306.6h0M235.8 338.3h0M241.3 330.1h0M240.1 360.2h0M232.5 339.8h0M232.3 333.9h0M231.6 339.1h0M240.8 356h0M240.2 281.4h0M242.3 352.8h0M236.1 340h0M231.9 299.4h0M237.7 329.7h0M232.2 347.6h0M231.8 350h0M236.6 334h0M236.7 340.6h0M237.5 314.7h0M240.6 279.5h0M232.8 360.1h0M233.1 297.7h0M231.5 336.2h0M237.6 334.9h0M235.3 343.6h0M236.7 335.4h0M234.6 316.7h0M235 345.7h0M237.7 358.7h0M240.5 341h0M243 359.5h0M230.7 336h0M238.4 350h0M231.2 279.7h0M241.9 360h0M236 345.1h0M243.1 323.7h0M234.1 347.3h0M237.2 284.2h0M242.7 290.6h0M240.6 352.8h0M234.2 292.9h0M236.6 340.5h0M236.3 359.4h0M244.1 276.6h0M233.5 343.6h0M237 336.6h0M237 334.8h0M232.5 342.5h0M240.4 353.9h0M240.6 305.5h0M237 324.4h0M235.8 278.7h0M237.1 349.9h0M243 348.3h0M236.3 276h0M242.8 351.4h0M236.6 305.8h0M233.5 305.7h0M244.1 330.6h0M239.4 311.3h0M232.7 310.3h0M240.7 353.9h0M239 320.4h0M239.2 319h0M231.6 357.9h0M242.5 335.7h0M243.4 358.1h0M243.7 340.4h0M239.2 358.7h0M236.8 336.1h0M234.8 355.8h0M242.7 331h0M243.1 357.3h0M239.3 345.3h0M242.2 327.1h0M243.6 357.4h0M231.2 303.1h0M237.2 289.9h0M244.1 317.2h0M238.5 348.6h0M237.4 360h0M235.3 325.1h0M233.1 350.5h0M243.2 314.3h0M243.8 335.3h0M234.7 343.4h0M235.5 310.7h0M239.2 289.1h0M235.7 304.1h0M244.1 346.6h0M235 305.7h0M240.2 343h0M235.3 333.6h0M239.6 333.6h0M231.1 325.4h0M230.8 274h0M233.4 326.4h0M240.2 350h0M235.7 350.4h0M236.5 333.7h0M235.4 331.9h0M234.5 355.3h0M239.8 348.4h0M242.4 306.6h0M232.4 305.7h0M233.1 328.3h0M233.9 345.1h0M240.5 358.5h0M243.1 325.1h0M243.8 344.8h0M235.2 284.4h0M231.5 316.4h0M243.3 335.7h0M231.9 341.1h0M233.6 342h0M239.2 323.7h0M240.3 338.4h0M237.1 341.4h0M242.4 317h0M231.8 346.8h0M242.6 297.3h0M232.4 330.1h0M242.2 330.1h0M236.1 328.8h0M236.3 326.6h0M234.1 329.1h0M230.8 354h0M234.5 282.5h0M237.4 358.8h0M241 304.4h0M242.9 342.3h0M239.9 334.1h0M243.1 339.7h0M243.7 316.6h0M235 312.6h0M235.7 338.6h0M238.1 347.3h0M233 328.8h0M242.7 322.9h0M243.6 339h0M237 337h0M235.9 340.6h0M241.4 275.8h0M232.7 337h0M241.8 348.8h0M243.6 301.2h0M237.1 360.1h0M237.5 355.2h0M242.3 338.1h0M239 355.4h0M242.3 348.8h0M235.5 342.5h0M240.3 334.8h0M237.8 331.6h0M237.4 354.7h0M235.3 284.3h0M239 343.8h0M235.3 319h0M232.4 341.9h0M230.9 320.9h0M243.5 353.9h0M243 306.7h0M237.2 307h0M241.5 351.3h0M243.8 307h0M243.1 317.7h0M241.8 316.5h0" stroke="#C49A00"/><path d="M263.2 249.1h0M256.3 231.9h0M258.3 262.1h0M264 230.9h0M256.4 275.9h0M260.8 237.9h0M257.5 237.5h0M255.9 279.3h0M261.8 249.2h0M255.4 301.8h0M262.1 314.1h0M259.3 229.6h0M263.1 276.2h0M254.5 252.3h0M262.7 241.7h0M255.1 268.5h0M256.8 244.7h0M264.6 237.6h0M253.2 258.9h0M263.8 262.5h0M259.3 268.8h0M255.5 247.8h0M255.5 276.7h0M262.4 271.8h0M257 278.1h0M259.4 269.9h0M255.5 244.7h0M258.1 277.4h0M257.9 241h0M252.5 316.7h0M252.3 241h0M252.2 260.2h0M256.5 275.7h0M261.8 257h0M252.3 249.9h0M261.5 270.9h0M251.9 312.9h0M259.8 278.2h0M251.7 253.7h0M264.1 228.2h0M256.4 262.2h0M258 258.1h0M260.8 278.2h0M253.8 275.8h0M257.8 267.1h0M263.1 275.1h0M256.5 234.7h0M259.6 279.1h0M256.2 265.2h0M261.4 234.4h0M263.3 268.9h0M257.2 244.4h0M260.2 227.2h0M252.6 268.5h0M263.8 273.7h0M261.1 238.5h0M254 242.3h0M257.4 263.1h0M263.2 267.1h0M251.4 313.3h0M262.8 234.7h0M256.4 228.4h0M259.3 226.4h0M258.7 252.9h0M262.8 226.2h0M263.1 246.2h0M262.8 295.9h0M255.2 282.5h0M253.3 248.8h0M253.7 267.9h0M252.1 232.2h0M261.6 278.3h0M254.7 309.7h0M262 284.4h0M261.2 229.9h0M263.8 277.9h0M252.3 278.7h0M259 232.5h0M260.7 264.9h0M253.2 240h0M251.5 242.9h0M256.7 234.7h0M251.7 297.8h0M254.9 237.9h0M262 253.6h0M263 264.8h0M251.1 255.3h0M262.5 232.3h0M257.7 228.1h0M251.7 233.7h0M257.3 247.2h0M260.1 270.6h0M253.1 249.7h0M253.5 260.8h0M255.8 254.3h0M261.3 235.5h0M256 250.2h0M263.1 247h0M257.4 260.1h0M253.3 233h0M262.8 252.2h0M258.4 247.2h0M262 315.8h0M253.9 235.4h0M256.8 275.1h0M251.7 252.4h0M263.8 279.3h0M254.2 270.6h0M252.7 261.4h0M258.6 236.5h0M256.4 244h0M260.5 239h0M259.9 312.9h0M261.3 242h0M264.3 231.3h0M263.6 252.8h0M261.4 262.9h0M259.8 268.2h0M251.3 314.4h0M262.4 268.3h0M257.3 275.9h0M260.1 228.5h0M255.8 247.2h0M259.5 263.1h0M259.2 295.3h0M257.9 226.7h0M257.5 265.7h0M261.6 238.8h0M263.1 247.8h0M264.6 293.1h0M261.4 227.5h0M252.4 265.9h0M259.7 234.6h0M255.7 259h0M255.5 254.2h0M257.2 241.5h0M260.4 274.4h0M251.5 243h0M253.6 275.8h0M262 249h0M254.5 240.4h0M253.5 251.6h0M251.6 233.4h0M260.4 256.5h0M257.7 319.4h0M261.2 258.6h0M256.2 270h0M262.9 267.4h0M260.8 252.9h0M252.7 281.7h0M264.4 272.4h0M257.8 278.2h0M260.7 256.3h0M258.5 306.8h0M257 277.7h0M252.3 275.9h0M257.6 294h0M263.7 266.4h0M252.3 278.2h0M260.1 268.9h0M257.6 249.4h0M259 294.3h0M253.9 277.4h0M256.4 239.2h0M251.3 251.9h0M258.3 265.1h0M255.4 235.7h0M254 253.6h0M254 253.7h0M259.6 249.6h0M260.2 319.6h0M261.4 316.4h0M252.1 226h0M256.7 245.6h0M262.4 228.9h0M251.7 238.9h0M253.7 258.2h0M257.2 259.3h0M263.4 313h0M258 228.2h0M259.7 232.4h0M257.9 251.4h0M256.8 247.1h0M261.7 241.5h0M254.9 277.3h0M264.5 244.4h0M259.3 234.3h0M257.5 285.7h0M262.5 238.6h0M260.4 249.2h0M253 237.1h0M264.4 242.2h0M252 246.2h0M263 229.1h0M263.7 267.2h0M253.7 266.6h0M255.7 314.4h0M259.2 264.5h0M259.4 269.3h0M260.5 236.2h0M260.8 242.5h0M257.4 268.5h0M260.9 273.2h0M259.2 266.2h0M263.2 261.3h0M256.4 306.5h0M257.3 229.1h0M252.1 265.7h0M258.6 259.2h0M262.1 275.9h0M263.8 252.8h0M258.1 235.2h0M264.4 265.2h0M252.6 253.1h0M253 262.6h0M264.6 238.5h0M252.6 275.7h0M252.4 272.6h0M251.6 256.6h0M252.6 276.3h0M255 291.6h0M259.3 267.6h0M255.9 229.4h0M259 278.3h0M264.2 270.2h0M251.3 250.2h0M259.5 248.7h0M252.8 287.7h0M254.4 257.6h0M263.6 231.3h0M260.2 279.3h0M262.7 233h0M262.6 267h0M253.1 255.5h0M261.3 286h0M253.9 238.2h0M263 255.9h0M258 278.4h0M253.9 255.6h0M262.5 275.3h0M256.6 270.4h0M254.8 260.4h0M256.3 231h0M260.4 281.2h0M252 244.6h0M258.9 278.3h0M257 278.4h0M257 256.6h0M263.5 265h0M254.1 271h0M258.3 251.6h0M256.3 277.5h0M260.7 267.2h0M258.6 246.3h0M254.6 251.1h0M257 271.9h0M256.7 314.7h0M263 275.9h0M261.8 248.6h0M261.2 285.3h0M256.9 254.1h0M264.2 278.6h0M261.6 275.3h0M258.4 237.2h0M256.1 249.6h0M253.6 250.7h0M253.4 261.9h0M257.9 235.6h0M253.4 305.7h0M254.4 233.8h0M261.8 259.7h0M260.8 254.9h0M259.3 270.7h0M252.9 226.4h0M257.8 250.9h0M261 249.8h0M259.9 302.5h0M259 237h0M254.5 305.2h0M262.8 315.5h0M252.1 277.5h0M252.7 286.3h0M255.2 306.2h0M261.3 253.2h0M261.3 237.6h0M261.4 247.6h0M256.5 236.6h0M263.4 230.9h0M260.8 257.9h0M252.9 268.4h0M253.1 312.1h0M256.2 274h0M263.2 230.4h0M255.1 319.3h0M251.7 298.9h0M252 286.1h0M258 262.7h0M261.2 274h0M258 276.3h0M257.2 259.5h0M255.8 246.4h0M262 259.6h0M261.4 231.8h0M260.2 251.7h0M258 239.1h0M262.3 316.1h0M261 240.9h0M261.5 271.7h0M254.9 246.2h0M251.3 277.1h0M253.7 256.9h0M256.9 231.8h0M254 226h0M251.6 315.6h0M254.1 237h0M260.2 315.5h0M262.1 243.4h0M256.2 240.2h0M258.9 227.8h0M261.2 230.8h0" stroke="#3DAE48"/><path d="M273.9 281.8h0M278.9 255.4h0M284 263.7h0M278.4 302.3h0M278.6 269.5h0M284.7 296h0M273.2 245.5h0M282.5 288.7h0M284.1 313.1h0M278.7 264h0M279.5 276.8h0M280.3 287.4h0M282.3 267.8h0M277.3 334h0M285.1 275.8h0M276 278.8h0M284.4 236.4h0M277.6 289.4h0M282.7 287.4h0M279.9 263.4h0M272.9 329.2h0M277.6 323.8h0M282.6 238.1h0M272.5 293.5h0M275.8 301.6h0M284.3 266h0M273 258.8h0M273.2 282.9h0M272.3 331.2h0M282.5 241.5h0M278.5 250.1h0M283.2 284.1h0M273.7 262.4h0M273.9 246.3h0M278.6 283.9h0M277.2 284.7h0M278.2 292.8h0M276 239.6h0M277.5 248.8h0M283.3 253.4h0M278.1 289.6h0M272.6 336.2h0M285.4 324.1h0M275.6 255h0M275.1 282.2h0M284.4 276.1h0M281.7 258.5h0M284 255.9h0M277.1 279.2h0M283.2 300.5h0M282.9 297.7h0M282.5 238.6h0M282.9 291.1h0M280.8 262.9h0M283.6 258.1h0M274 245.1h0M283.7 297.5h0M273.7 301h0M275.6 270.4h0M272.3 291.6h0M276.5 279.5h0M273.2 281h0M274.5 234.3h0M283.5 257.9h0M277.1 310.3h0M284.4 263.9h0M281.7 251.8h0M279.8 238.7h0M278 236.5h0M279.8 302.6h0M283.1 333.4h0M283.8 272.5h0M283.2 241.5h0M283.9 285.9h0M280.9 250.9h0M271.9 277.2h0M283 288.8h0M272.4 303.6h0M279.1 249.6h0M272 237.5h0M282.2 260.1h0M280.8 256.2h0M279.1 264.6h0M283.4 251.2h0M281.7 297.7h0M272 259.5h0M275.1 281.6h0M284.5 297.1h0M275.8 321.8h0M277.6 292.9h0M282.2 300.7h0M281.2 236.4h0M273.9 298.7h0M284.8 240.5h0M282.1 251.8h0M282.2 291.7h0M283.2 270h0M278.3 269.3h0M276.6 250.8h0M282.8 291.9h0M272 286.9h0M282.6 252.3h0M273.8 299.5h0M279.1 248.8h0M280.4 241.4h0M282.6 246.2h0M282.4 249.3h0M280.2 292.5h0M281.3 264.2h0M283.1 258.8h0M279.4 254.9h0M276.8 282.1h0M274.4 336.3h0M280.8 302.6h0M282 280.9h0M278.1 282.5h0M278.9 297.3h0M278.2 275.4h0M282.2 266.6h0M282.5 249.1h0M279.1 287.2h0M273.2 301.2h0M285.4 267.6h0M285.4 248.7h0M285.1 246.4h0M278.6 300.5h0M272.2 295.8h0M273.1 291.3h0M280 268.4h0M285.1 296.1h0M273.5 305.4h0M272.9 264.5h0M282.1 282.8h0M272.9 240.4h0M283.6 238h0M280.7 242.6h0M284.5 276.6h0M273.1 244.5h0M273.7 253.8h0M271.9 240h0M282.8 335.6h0M274 296.6h0M275.2 242.4h0M284.3 291.3h0M282.8 328.9h0M273.5 254.6h0M281.1 250.3h0M281.1 276.3h0M281.7 277.2h0M275 286.4h0M277.1 262.4h0M273.7 308.2h0M279.7 295.2h0M283.9 262.2h0M280 312.4h0M279.8 296.1h0M279.6 264.7h0M285 276.8h0M274.9 255.8h0M272.8 300.7h0M275.6 238.6h0M274.7 303.6h0M277.4 256.8h0M273.8 273.6h0M276.8 295.5h0M278.9 298.8h0M283.5 259h0M274.4 277.5h0M275.1 239.9h0M272.5 285.3h0M272.6 272.5h0M278 333.7h0M283.8 275.9h0M277.6 284.9h0M279 250.8h0M280.6 280.3h0M275.5 257.3h0M274 277.4h0M272 242.7h0M274.8 271h0M284.5 284.5h0M278.9 255.1h0M280.8 285.5h0M272.1 258.6h0M275.1 244.1h0M282.1 249.1h0M280.1 266.3h0M274.3 282.3h0M273.8 268.1h0M282.3 251.9h0" stroke="#00AE8A"/><path d="M298.9 257.5h0M302.2 238.5h0M296.1 240.3h0M303.8 254.6h0M293.7 246.7h0M295.7 264.6h0M298.8 257.8h0M295.5 257.9h0M293.4 295.3h0M298 267.4h0M299.7 251.4h0M305.9 269.1h0M295.4 239.2h0M292.9 256.1h0M294 245.5h0M298.5 245.5h0M295.6 257.5h0M303.2 235h0M302.7 243.5h0M299.8 240.6h0M292.5 240.3h0M295.3 234.4h0M293.6 258h0M296.2 229.2h0M297.3 257.1h0M292.8 240.3h0M292.7 243.6h0M294.5 265.7h0M295.1 238.5h0M298.7 267.7h0M294.2 263.1h0M295.2 229.8h0M296.5 231.3h0M293.3 266.6h0M292.5 284.2h0M301.7 248.2h0M302.8 293.1h0M293.9 266.6h0M296 234.6h0M301.6 247.1h0M304.6 273.1h0M304.5 271.8h0M299.6 225.6h0M298.2 227.8h0M296.2 235.5h0M302.4 263.7h0M297.9 273.1h0M305 248.1h0M301.8 292.9h0M301.9 290.1h0M298.9 293h0M302.4 281.6h0M299.7 248.9h0M304.7 268h0M304.4 244.6h0M297 247.3h0M296.9 261.5h0M298.2 265.4h0M303.3 290.7h0M299.4 243.2h0M302.2 270.6h0M296.8 238.2h0M303.9 260.7h0M303 236.9h0M304.1 240.5h0M294.6 270h0M293.5 243.1h0M303.4 250.7h0M301.2 230.6h0M305.6 243.4h0M297.2 266.8h0M304.8 268.5h0M295.9 237.5h0M300.6 234.6h0M299.1 250.9h0M294.8 293.8h0M303.1 249.7h0M299.3 251.3h0M293.1 272h0M297.5 231.1h0M302.2 269.8h0M297.5 266.8h0M303.2 254h0M297.4 226h0M294.7 259h0M299.9 238.6h0M297.9 251.3h0M300.8 244.8h0M306 256.8h0M305.4 236.3h0M294.1 282.9h0M305 235.1h0M299.6 289.6h0M302.4 273.5h0M305.5 238.5h0M298.8 247.5h0M295 289.6h0M301.2 265h0M301.6 262.3h0M301.6 254.7h0M301.2 248.7h0M296.4 259.2h0M302.7 231.4h0M303.9 239h0M305.5 269h0M293 251.6h0M301 228.2h0M297.5 228.1h0M294.9 231.6h0M297.4 239.1h0M295 265h0M301.5 278h0M303.2 259.1h0M305.5 283.2h0M292.7 229.6h0M295.7 268.8h0M303.7 248.9h0M294.2 238.8h0M301.6 240.2h0M301.1 260h0M295.2 288.6h0M303.6 227h0M300.4 248.5h0M302.3 292.7h0M293.6 234.9h0M298.7 252h0M293.1 292.7h0M293.6 289.8h0M294.2 250.2h0M292.9 225.5h0M293.4 272.4h0M302.8 237.6h0M305.9 227.4h0M304.1 227.4h0M299.5 239.1h0M295.2 229.8h0M300.4 234.7h0M299.9 253.9h0M292.6 248.6h0M301.1 257.9h0M303.6 238.7h0M304.7 227.4h0M301.6 274.3h0M297.1 244.5h0M300.6 293.8h0M301.1 231.8h0M296.4 268.8h0M297.1 248.3h0M306 267.3h0M294.5 234.5h0M294.4 244.8h0M297 260.7h0M292.9 261.7h0M294.2 238.6h0M293 228.4h0M303.2 273.1h0M298.2 228.6h0M299.5 277.6h0M298.2 237.8h0M305.2 228.5h0M304.4 294.4h0M300.7 254.8h0M297.7 237h0M305.2 270.6h0M302.8 227.8h0M293.1 257.6h0M298.3 247.4h0M299 243.7h0M294.3 242.8h0M296 248.6h0M295.7 272.1h0M299.6 295.6h0M296.5 264.7h0M299.9 241.7h0M293 292.4h0M302.2 255.9h0M298.5 241.7h0M293 244.7h0M302 246.7h0M294.9 260.2h0M305.9 225.7h0M302.7 266.1h0M300.9 243.8h0M297.5 246.3h0M299.9 259.7h0M302.3 244.9h0M298.6 226.4h0M299.7 288.5h0M305.3 255.4h0M293.8 258h0M296.6 249.8h0M295 226.7h0M294.9 264.8h0M296.4 234.3h0M297.9 227h0M297.9 228.5h0M298.8 226h0M302.8 268.4h0M298.4 295h0M305.2 259.1h0M295.4 248.8h0M297.3 244.8h0M294.3 227.9h0M303.8 277.3h0M304.6 275.6h0M294 274.1h0M300.7 240.3h0M303.9 247.4h0M297.3 245.4h0M296 253h0M297.5 255.5h0M303.7 270.6h0M298.2 250.7h0M294.4 240.8h0M300.2 248.4h0M295.8 277.5h0M299.8 261.1h0M296.6 235.4h0M293 243.7h0M298.9 227.5h0M304 273.8h0M304.4 255.1h0M303.7 271.4h0M293.4 249.6h0M297 234.5h0M293.1 274.9h0M300.7 248.4h0M300.6 259.9h0M298.6 287.9h0M299.5 232.2h0M301.1 272.6h0M297.4 271.7h0M304.6 261h0M297.7 245h0M304.4 228.3h0M298 237h0M292.7 267.4h0M299.1 237.9h0M297.6 251.1h0M301.9 266.3h0M296 236.7h0M299.7 248.6h0M295.2 264.6h0M305.4 228.6h0M294.7 239.4h0M293.9 227.4h0M292.5 270.3h0M294.6 230.4h0M292.4 244.8h0M295.6 237.6h0" stroke="#12A8E0"/><path d="M315 327.6h0M319.9 287.2h0M314.8 308h0M316.2 295.7h0M317.2 244.2h0M316.8 263.7h0M325 260.5h0M318.6 290.8h0M320.1 268.9h0M316.9 270.5h0M326.7 285.8h0M316.6 281.8h0M314.6 263.5h0M315.1 297.5h0" stroke="#A58AFF"/><path d="M340 309.5h0M336 301.7h0M336.2 350.6h0M335 295.9h0M340.4 310.5h0M336.2 297.5h0M342.2 342.1h0M339.4 316.2h0M345 334h0" stroke="#E870C0"/></g>
<circle cx="240" cy="225.5" r="0.85" fill="#C49A00"/>
<circle cx="234" cy="272.8" r="0.85" fill="#C49A00"/>
<circle cx="242" cy="279.5" r="0.85" fill="#C49A00"/>
<rect x="209.8" y="314.4" width="13" height="3" fill="#000"/>
<rect x="231" y="333.4" width="13" height="3" fill="#000"/>
<rect x="251.4" y="252.3" width="13" height="3" fill="#000"/>
<rect x="272.1" y="273.9" width="13" height="3" fill="#000"/>
<rect x="292.7" y="249.6" width="13" height="3" fill="#000"/>
<rect x="313.5" y="282.1" width="13" height="3" fill="#000"/>
<rect x="334" y="310.4" width="13" height="3" fill="#000"/>
<text x="448" y="210.8" font-size="8.1" text-anchor="middle" fill="#222">Cell cycle</text>
<g stroke-width="1.4" stroke-linecap="round" opacity="1.0"><path d="M437.3 247.8h0M486 297.8h0M457.2 297h0M430 300.2h0M432.7 293.6h0M417 312.8h0M435.8 254.4h0M458.1 265.1h0M457.4 298.5h0M398.8 264.8h0M445.1 261.7h0M463.7 313.5h0M409.8 276.9h0M455.4 253.9h0M463.2 285.5h0M444.8 315.1h0M443.5 293h0M436.4 244.6h0M428 266.3h0M443.3 295.7h0M465 282.9h0M447.4 263.4h0M437.2 265.6h0M431.7 299.5h0M419.5 295h0M425.9 263.8h0M420.8 255.7h0M431 279.9h0M426.3 317.5h0M435.4 273.7h0M414.2 277.6h0M443.1 310.6h0M422.2 253.7h0M424.3 347.8h0M416.5 264.5h0M445.2 289.8h0M432 243.2h0M428.5 279.1h0M402.7 262.5h0M416.5 240.2h0M432.1 320.6h0M419.4 245.8h0M437.8 308.8h0M444.7 260.4h0M447.7 246.4h0M506.9 295.2h0M393.2 262.7h0M402.9 272.2h0M413.5 283.6h0M401.2 272.7h0M385.7 270.1h0M420.6 259h0M401.8 264.8h0M449.4 316.9h0M427.8 246.7h0M451.1 244.1h0M454.4 276.5h0M450.9 305h0M396.7 263h0M406 288.6h0M413 239.9h0M423.4 264.9h0M422.9 273.7h0M423.9 293.3h0M443.2 268.6h0M416.5 313.9h0M417.2 266.3h0M429.2 264h0M429.9 251.5h0M450.5 259h0M434.3 321.2h0M419.4 264.7h0M409.9 257.3h0M439.8 349.9h0M445 256.2h0M454.1 296.5h0M414.4 255.6h0M424.6 286.5h0M442.5 315.7h0M420.6 266.4h0M440.8 242.2h0M440.7 281.7h0M414.2 276.6h0M452.5 246.7h0M445.5 238.5h0M409.6 285.3h0M457.6 288.9h0M386.5 273.6h0M416.9 316.7h0M415.5 262.9h0M448.8 284.1h0M383.7 269.7h0M476.1 300.6h0M414.3 279.5h0M445 317.5h0M448.8 294.5h0M424 307.5h0M444.9 286.7h0M440.3 277.4h0M446.1 256.9h0M405 272.7h0M443.3 255.4h0M450.6 266h0M394.2 269.9h0M460.4 296.6h0M453.6 268.9h0M455.6 304.4h0M438.3 241h0M405 267.9h0M437.7 279.6h0M439 280.9h0M446.2 293.2h0M437.9 277.1h0M442.6 306.3h0M426.9 303.9h0M433.7 243.6h0M439.2 260.7h0M453.6 257.2h0M448.7 241.1h0M413 308.8h0M435.4 352.2h0M427.6 288.5h0M444.1 304.9h0M409.6 277.1h0M417.5 312.3h0M406.3 265.2h0M445.6 302.1h0M410.1 239.7h0M491.6 293.4h0M443.6 313.1h0M413.9 309.3h0M390.3 270.2h0M404.5 269.4h0M429.1 316.3h0M420.2 309h0M384.5 267h0M442.1 291.8h0M442.7 256.9h0M433.7 255.1h0M443.9 311.6h0M462.7 311.3h0M423.4 276.9h0M426.8 294.7h0M394 260.9h0M398.7 264h0M399.3 262.1h0M400.3 267.1h0M433.4 240.2h0M444.2 273.7h0M457.8 272.3h0M421.5 304.4h0M443.1 259.4h0M411.2 241.5h0M420.7 311.2h0M389.2 275.3h0M431.6 296.3h0M415 240.1h0M412.2 300.1h0M431.7 265.9h0M391.9 264.2h0M418.8 261.1h0M460.7 303.6h0M408.4 259.6h0M426.6 311.7h0M389 272.6h0M428.2 270.2h0M427.1 280.4h0M431.1 261h0M473.6 283.8h0M482.9 299.2h0M401.8 277h0M425.9 261.6h0M426.2 271.8h0M383.4 268.7h0M444.2 249.9h0M442.1 263.4h0M459.9 297h0M404.6 270.6h0M420.5 320.7h0M427.5 269.1h0M469.9 324.1h0M424.2 284.6h0M406.9 250.9h0M433.5 290.2h0M403.4 285.3h0M443.9 273.9h0M433.6 290.7h0M425.1 262h0M442.1 300.6h0M450.6 277.3h0M426.7 263.6h0M449.1 311.2h0M431.7 321.8h0M463.5 300.3h0M394.9 264.8h0M417.9 267h0M467.8 314.2h0M441.2 291.7h0M446.1 243h0M449.7 281.5h0M467 276h0M456.3 314.2h0M438.1 283.9h0M463.7 313.3h0M433.3 283.1h0M454.4 295.6h0M450.5 236.9h0M384.6 265.2h0M382.7 272.2h0M433.7 293.8h0M435.3 240.6h0M441.5 309.2h0M481.7 317.8h0M401 266h0M404.4 253.2h0M433.8 285h0M409.6 274.7h0M446 244.1h0M430 286.2h0M395.1 271.3h0M385.7 261.9h0M419.5 266.8h0M434.3 274.7h0M446.8 240.4h0M427.6 285.1h0M456.8 282.9h0M407.4 276.7h0M432.2 237.7h0M468.1 321.6h0M426.3 248.6h0M442.5 248.4h0M425.7 317.5h0M457.7 305.9h0M435.4 294.4h0M424.6 297.8h0M426.7 246.2h0M399 268.2h0M433.2 321.3h0M400.7 274.1h0M462.6 274.4h0M448.9 253.3h0M418.9 242h0M457.9 310h0M400 268.1h0M463.5 313.6h0M429.2 264.2h0M441.4 319.2h0M453.6 295.5h0M454.6 279.8h0M451.6 308.1h0M437.5 294.7h0M431.3 243.4h0M449.7 292.3h0M416.1 307.5h0M414.7 304.8h0M393.2 263.4h0M409.5 297.9h0M458.3 277.2h0M437.2 285.9h0M411.8 301.3h0M440.4 294.1h0M433.9 271.8h0M423.8 310.2h0M476.9 320.9h0M423.9 257.3h0M441.2 297.2h0M455.8 267.3h0M396.9 271.3h0M404.8 284.2h0M460.3 269.4h0M430.2 308.1h0M436.1 315.5h0M392.3 265h0M420.7 259.4h0M440.1 256.3h0M437.9 266.7h0M474.2 324.2h0M411.1 312.3h0M430.9 278.9h0M428.1 320.5h0M435.7 242.1h0M439.3 313.8h0M450.5 281.5h0M428.7 296.5h0M449.7 263h0M445.7 322.4h0M430.1 307.7h0M443.1 290.7h0M421.4 263.3h0M454.7 297.3h0M438.6 280.4h0M472.1 313.3h0M381.4 274.3h0M403.5 277.5h0M429.4 333.5h0M458.4 280h0M406.6 251.6h0M424.7 329.5h0M413.8 317.1h0M459.7 283.2h0M452 328h0M419.9 276.7h0M395.7 264.9h0M438.1 240.2h0M460.6 269.2h0M462.8 292.2h0M423.1 297.3h0M420.5 315.5h0M413.5 258.2h0M444.4 300.1h0M432.8 298h0M417.7 292.6h0M432.1 255.8h0M443.8 322.9h0M429.4 342.4h0M430.9 245.5h0M435.2 236.6h0M443.3 288.6h0M457.9 316.8h0M478.9 321.2h0M394.3 274.2h0M380.9 272.7h0M434.4 320.2h0M483.7 319.3h0M443.1 306.8h0M420.8 234.5h0M460 312.7h0M431.2 258.5h0M420.3 264.1h0M433.4 298.1h0M486.7 314.8h0M428.5 292.8h0M424.1 240.1h0M446.3 315.4h0M407.9 252.6h0M438.7 313.8h0M434 273.6h0M436.2 237.1h0M421.4 242.8h0M430.1 341.3h0M445 289.6h0M448.8 319.1h0M404.6 272.3h0M450.5 260.4h0M405.7 245.6h0M417.6 293.7h0M465.2 285h0M386.9 264.4h0M417.9 276.1h0M438.2 242h0M445.9 295.7h0M417.2 296.1h0M398.3 261.2h0M409.5 241.4h0M423 290h0M450.2 319.7h0M472.4 325.3h0M404.1 270.4h0M475.8 314.2h0M399.1 275.1h0M415.1 315.2h0M445.4 276.2h0M425.3 311.8h0M472.3 310.6h0M430.7 334.9h0M389.7 274h0M470.5 306.9h0M435.8 285.8h0M421.5 268h0M407.6 299.3h0M436.2 306.8h0M414.3 258.1h0M454 309.6h0M461.4 277.2h0M397.5 268.7h0M460 287.9h0M457.8 303.7h0M425.6 255.9h0M440.9 266.5h0M442 264h0M399 264.2h0M469.5 237.4h0M442.5 254.7h0M435.7 323.2h0M412.7 274.1h0M434.5 297.7h0M467.2 315.5h0M454.5 278.7h0M457.2 252.4h0M432.9 238.7h0M449.2 295.1h0M431.4 291.1h0M448.1 240.5h0M431.2 264.3h0M438.5 305.4h0M460.4 287h0M452.4 264.2h0M446 263.4h0M411.8 311.3h0M489.5 305.8h0M463.3 316.7h0M464.4 309h0M396.6 269.6h0M406.1 254.9h0M445.6 266.9h0M396.9 262.5h0M451.5 278h0M411.1 267h0M455 297.7h0M431 296.4h0M400.9 283.5h0M433.4 320h0M446.5 283.4h0M430.6 296.4h0M419.2 239.6h0M379.8 263.7h0M422.4 251.3h0M446.1 283.6h0M441.1 302.1h0M434.8 267.9h0M389.4 269h0M468.4 273.5h0M477.6 313.5h0M475.9 311.1h0M455.9 277.1h0M445.1 253.7h0M444.6 274.9h0M441.6 248.2h0M404.4 274.2h0M466.5 275.4h0M448.8 296.3h0M427.8 313.3h0M459.7 310.7h0M435.5 239.8h0M443.8 352.1h0M475.8 318.4h0M435.1 319h0M439.4 302.5h0M419.9 285h0M419.8 289.5h0M425.8 259.9h0M429.3 235.1h0M432 297.5h0M435.3 269.5h0M413.3 275.4h0M419.4 319.3h0M438.2 273.4h0M462.3 316.9h0M391.7 276.8h0M447.7 282.3h0M416.2 309h0M456 257.6h0M448.5 299.6h0M429.7 288.3h0M411 302.3h0M447 265.6h0M437.4 228.1h0M404.7 270.7h0M447.2 250.3h0M466.5 300.8h0M449.2 290.9h0M403.7 286.6h0M445.2 315.5h0M443.5 310.4h0M431 240.3h0M435.8 269.7h0M428.1 240.6h0M428.9 320.7h0M458.5 287.9h0M398 265.5h0M431.8 294.1h0M449.4 294.1h0M418.5 267.8h0M426.4 241.2h0M478.7 322h0M461.8 283.4h0M405 286.2h0M432.1 267h0M455.3 301.3h0M381.3 276.4h0M456.1 307.4h0M450.2 309.4h0M419.8 312.9h0M443.4 251.3h0M421.6 270.9h0M453.5 241.8h0M417.3 260.1h0M417 306.9h0M414.2 268.7h0M395.5 271.3h0M414.6 260.7h0M419.1 277.3h0M422.7 289.3h0M427.5 261.6h0M402.7 286.1h0M466.4 311.5h0M471.7 237h0M403.5 265.4h0M468.1 307h0M445 272h0M421.3 312.8h0M423.2 319.5h0M427.3 323h0M417.2 318h0M470.7 315.9h0M402.4 285.9h0M420 268.2h0M437.2 295h0M428.9 281.3h0M443.4 314.4h0M452 247.1h0M406.3 271.6h0M411.3 315.2h0M410.9 238.2h0M420 263.1h0M475.7 323.7h0M397.9 273.1h0M432.2 265.8h0M417.3 264.4h0M427.5 295.4h0M387.6 260.7h0M394.6 273.4h0M404.5 268.5h0M415 274.3h0M439.1 305.9h0M417.3 314.6h0M433.9 240.5h0M411.6 304.6h0M425.9 236h0M434.7 292.2h0M447.5 265.3h0M424.8 298.8h0M431 330.6h0M446.7 255h0M467.2 279.6h0M418 306.4h0M407.8 271.2h0M442.9 255.5h0M431.9 319.7h0M469.9 241.9h0M415 284.3h0M412.6 306.7h0M443.6 251.2h0M457 258.2h0M451 289.8h0M430.9 237.6h0M448.7 237.2h0M447.4 250.3h0M403 265.6h0M429.1 293.4h0M473.8 320.9h0M409.3 305.3h0M433.5 288.1h0M413 255.3h0M450.9 242.2h0M436.7 262.7h0M436.5 318.6h0M442.5 302.2h0M395.2 270.8h0M438.5 271.8h0M414.9 260.3h0M444.2 269.9h0M449.6 263.5h0M416.3 278.7h0M459.5 274.3h0M429.1 290h0M408.2 269.7h0M464.2 288.2h0M462.7 268.7h0M445.6 307.8h0M456.5 260.2h0M430.7 297.3h0M423.9 262.5h0M419.8 320.9h0M416.2 248.7h0M449 272.3h0M437.1 264.8h0M450 235.1h0M423.3 284.2h0M445.1 245.3h0M415.4 307.3h0M449 284.6h0M438 290.7h0M460 274.4h0M435 298.3h0M429.3 265h0M411.1 272.6h0M426.3 258.6h0M419.8 320.7h0" stroke="#48a860"/>
<path d="M423.5 259.3h0M460.8 281.2h0M431.6 320.6h0M416.1 288.1h0M436.4 264.7h0M420.6 262.1h0M408.3 280.2h0M381 269.9h0M429 342.6h0M416.5 339.2h0M475 321.4h0M417.4 278.1h0M425.6 302h0M469.6 318.1h0M424.6 311.6h0M449.6 291h0M451.7 256.7h0M462.4 277.9h0M444 353.3h0M421.7 256.3h0M482 314.8h0M445.6 308.4h0M383.8 268.3h0M438.3 342.8h0M441.1 299.9h0M393.1 265.7h0M410.3 247.1h0M401.6 274.2h0M433.6 262.9h0M443.4 345.2h0M458.6 317.4h0M445.1 255.2h0M463 281.9h0M415.9 278.4h0M418.1 279.2h0M423.1 311.7h0M426.6 263.8h0M394.1 267.2h0M453.6 264.4h0M477 318.4h0M491.2 308.9h0M392.3 263.6h0M419.6 304.5h0M463.3 286.5h0M445.3 312.9h0M408.2 291.1h0M401.4 284h0M423.3 256.9h0M436.3 262.9h0M411.3 279.5h0M453.8 267.6h0M482.4 312.6h0M389.2 275.8h0M437.8 315.7h0M403.1 262.8h0M471 323.6h0M406.4 306.8h0M444.9 295h0M453.1 286.1h0M418.6 259h0M462.4 313.6h0M424.7 236.2h0M419.5 301.1h0M453.8 260.5h0M465.2 279.8h0M420.2 238.2h0M419.7 254.5h0M452.8 316h0M423.4 298.4h0M458.6 248.1h0M409.1 289.1h0M429.1 292h0M432.7 266.9h0M479 312.6h0M452.2 293h0M454.6 299.2h0M444.9 311h0M405.7 249h0M443 264.9h0M426.5 291.2h0M415.8 315.1h0M438.4 270.8h0M455.4 315.8h0M405.7 253.5h0M421.7 310.5h0M462.2 285h0M441.3 242.6h0M409.9 288.2h0M469 310.6h0M395.7 276.5h0M436.2 261.8h0M433 331.2h0M423.7 315.7h0M432.4 296h0M457.4 341.1h0M446 291h0M398.5 269.9h0M465.2 281h0M428.2 290.1h0M452.8 293.5h0M429 265.6h0M429.5 317.3h0M446.8 304.1h0M438.5 341.3h0M454.4 288.4h0M432.7 316.6h0M453.4 309.3h0M425.8 318h0M444.8 298.5h0M409 273.6h0M413.8 244.7h0M453.5 311.6h0M441.4 321.9h0M444.8 272.2h0M461.8 308h0M434.4 264.4h0M431.4 302.3h0M481.2 322.7h0M394.5 273.1h0M439.4 286.5h0M404.4 270.9h0M449.2 317.7h0M413.3 306.8h0M438.5 293.2h0M433.4 279.5h0M421 284.8h0M429.2 305.6h0M420.7 239.1h0M431.8 300.8h0M467.4 277.7h0M424.6 300.7h0M456.3 297.6h0M447 302.2h0M437 303.6h0M443.8 273.2h0M416.4 275.3h0M404.2 249.4h0M425.8 266.1h0M452.5 305.4h0M441.5 348.6h0M423.8 297.3h0M418.8 299.9h0M410.3 280.9h0M431.8 290.6h0M445.1 288.2h0M386.5 279.1h0M441.1 301.9h0M460.8 290.9h0M457.7 290.5h0M416.5 299.3h0M431 306.4h0M429.4 320.6h0M420 315h0M425.6 265.6h0M418.6 306.3h0M427.5 295.9h0M470.8 316.3h0M425.5 317.4h0M468.5 272.3h0M460.6 286.8h0M420 262.8h0M464.3 317.3h0M464.3 302.9h0M434.9 303.6h0M477.6 311.9h0M413.5 265.9h0M427.6 262.2h0M419.2 308.9h0M399 270.9h0M422.5 349.7h0M435.5 312.2h0M408.4 252.3h0M432.4 299.1h0M430.4 304.3h0M433.8 262.7h0M415.1 308.2h0M463.2 309.3h0M461.3 278.2h0M420 302.1h0M444.4 252.6h0M447.6 275.9h0M441.6 308.6h0M427.6 316.3h0M426.5 270.5h0M425.4 255.7h0M432.9 354h0M412.1 274.6h0M472 323.3h0M459.5 249.4h0M438.1 257h0M411 278.5h0M449.1 308.8h0M443.2 305.4h0M449.9 242.5h0M407 286h0M426.2 280.6h0M463.1 307h0M446.7 287h0M406.8 280.6h0M427.8 283.4h0M394.1 275.5h0M420.1 276.1h0M457 298.5h0M448.9 301.1h0M457.9 305.7h0M450.8 249.2h0M454.9 275.4h0M454.9 295.8h0M445.9 258.4h0M423.8 275.4h0M432.1 301h0M448.4 306.7h0M421 303.9h0M430.3 341.1h0M451.9 345.5h0M453.5 257.1h0M411.1 310.8h0M441.8 262.3h0M440.5 275h0M445.9 315.8h0M448.1 245.6h0M416.5 267.8h0M420.4 298.6h0M426.6 317.1h0M450.2 254.7h0M394.4 276.7h0M443.4 277.5h0M414.6 255.5h0M409.7 283.4h0M436.6 240.6h0M465.8 301.5h0M438.4 321h0M447.1 305h0M479.1 321.6h0M435.5 301h0M439.2 303.8h0M446.6 329.6h0M491 282.4h0M394.1 262.4h0M443.2 315.2h0M412.6 301.2h0M453.1 330.6h0M492.3 297.6h0M437.6 248.1h0M467.3 307.2h0M418.9 294.4h0M457.1 297.6h0M394.2 273.4h0M444.1 295.8h0M467.7 322.2h0M449.8 314.9h0M437.4 267.9h0M424.7 293.9h0M416.9 267.2h0M444.4 279.2h0M422.4 320h0M442.1 311.6h0M427.4 255.2h0M451.4 307.5h0M437 305h0M431.6 264.3h0M451.2 289.1h0M450.2 308.2h0M441.1 319.5h0M388.9 278.5h0M448.8 307h0M418.8 294.9h0" stroke="#6090d8"/>
<path d="M436.5 330.6h0M410 242.9h0M443.6 345.9h0M433.1 296.5h0M461.7 302.1h0M420.1 301h0M509.1 294.3h0M410.4 278.8h0M486.6 287.8h0M475.6 284.8h0M443.4 344h0M472.4 294.2h0M431.3 275.4h0M499.3 299.2h0M453.7 345.5h0M440.5 229h0M426.7 331.4h0M468.6 291.2h0M496.7 291.4h0M443.2 336.5h0M481.6 304h0M452 279.3h0M467.8 236.4h0M508.1 293.1h0M428.2 303.7h0M444 239.3h0M442.5 270.8h0M424 260.4h0M485.2 279.5h0M489.9 290.4h0M497.7 305.8h0M439.8 344.7h0M400.1 260.7h0M496.6 282.9h0M433.3 250.9h0M436.1 303.4h0M471.6 305.4h0M469.3 288.1h0M448.2 261.1h0M480.8 305.2h0M431.3 342.5h0M493 290.6h0M450 343.4h0M446.9 330.3h0M425 345.9h0M499.4 299.8h0M427.7 302.5h0M447.3 335.6h0M473 285.8h0M390.5 277.4h0M471.6 289.8h0M458.4 253.2h0M427.9 338.8h0M463.2 272.5h0M425.4 245.8h0M428 341.1h0M499.3 305.2h0M445.8 264.5h0M475.6 296.1h0M428.6 264.7h0M475.5 305.6h0M431.5 251.2h0M426.6 342.1h0M478.5 278.3h0M433.6 331.7h0M472.6 310h0M421.9 309.6h0M504.3 287.2h0M441.6 346.8h0M431.7 349.7h0M477.4 300h0M432.9 350.1h0M417 277.2h0M467 246.8h0M488 283.7h0M445.7 308.6h0M405.5 245.1h0M473.4 291h0M495.9 287.4h0M427 333.6h0M449.5 336.6h0M387.9 279h0M421.4 263h0M408.3 272.4h0M437.6 339.4h0M410.8 311.3h0M450.5 352.4h0M468 297.2h0M412.7 239.1h0M483.6 298.8h0M432.6 331.4h0M511.2 294.3h0M410.8 313.2h0M438.8 333.6h0M452.1 343.6h0M451.3 344.2h0M466.7 290.1h0M398.5 279.8h0M448.4 352.9h0M495.7 305.6h0M506.5 288.7h0M442.7 332.9h0M450.9 334.7h0M472.3 238.5h0M478.9 290.1h0M455.9 295.5h0M427.4 342.8h0M432 338.6h0M489.9 301.5h0M423.2 315.9h0M407.9 253.1h0M436.6 340.6h0M435.1 342h0M467.3 297.3h0M495.5 287.3h0M420.4 279.1h0M427.2 333.5h0M400.1 266.2h0M433.8 344.4h0M491.2 292.8h0M481 324.2h0M494.2 303.3h0M469.2 301.8h0M430.1 289.5h0M431.9 351h0M399.3 280.2h0M457.7 284h0M430.5 332.9h0M448.9 348.6h0M481.9 306.6h0M443.3 333.9h0M388.1 276.8h0M445.3 335.4h0M433.2 341.3h0M504.4 289h0M385 267.9h0M476.6 310.1h0M449.8 343.9h0M511.4 291.8h0M451.4 333.5h0M442.8 342.5h0M431.6 290.8h0M429.4 250.5h0M466.2 285.6h0M429.7 240.3h0M451.6 335.6h0M471.5 242.9h0M446.7 265.7h0M452.3 344.8h0M421.1 347.2h0M478.7 284.6h0M463.2 302.1h0M405.6 283.4h0M397 258.7h0M475.9 290.9h0M472.9 304.2h0M428.8 252h0M429 340.4h0M498.7 285.3h0M497.2 303.6h0M422.9 340.4h0M425.8 341h0M405.4 280.9h0M426.7 332.9h0M500.4 289.1h0M426.9 352.8h0M472.4 280.5h0M466.5 297.1h0M454.4 345.7h0M424.3 346.5h0M490.6 279.6h0M502.2 283.9h0M439 339.8h0M430.2 352.3h0M492.2 289.2h0M419.6 343.8h0M502.9 280.9h0M429.3 258.7h0M469.7 318.5h0M505.7 298.4h0M443.6 336h0M440.7 320h0M440.1 346.4h0M485.9 300.8h0M453 289.2h0M471 295.3h0M448.9 243.9h0M508.8 290h0M454.5 338.1h0M468.6 297.8h0M490 304h0M423.1 352h0M419.8 348.8h0M460.1 300h0M449.7 334.4h0M425.7 335.7h0M437.8 335.3h0M424.5 258.1h0M457.9 349.5h0M427.1 344.1h0M425.7 287.4h0M462.2 320.3h0M473.3 283h0M415.4 284.5h0M485.1 281.2h0M444.3 243.6h0M439.6 340.7h0M482.4 279.2h0M423.9 262.2h0M461.3 280.6h0M443.3 348.8h0M476.7 286.3h0M462.8 280.7h0M502.2 278.6h0M415.4 261h0M407.3 246.8h0M436.6 295.7h0M435.4 327.8h0M477.6 307.8h0M493 291.3h0M456.8 341.1h0M499.5 301.8h0M450.2 260.5h0M411.6 260.2h0M431.2 355.5h0M439.5 333.9h0M401.1 282.7h0M437.1 228.5h0M451.6 343.9h0M426.2 345.7h0M441.3 249.4h0M438.4 350.6h0M412.2 241.3h0M425.2 345.7h0M441.1 290.7h0M484.3 281.6h0M446.6 338.8h0M434.7 257.1h0M432.6 331.4h0M419 346.4h0M424.7 338.5h0M444.6 342.7h0M437.7 347.8h0M432.5 248.1h0M460.3 268.3h0M429.7 236.4h0M458.5 256.1h0M421.4 283.2h0M496.9 303.1h0M417.2 247.2h0M423.1 337.5h0M492 284.7h0M496.1 290.3h0M420.4 341.7h0M418.8 341.6h0M411 304.8h0M434.6 248.2h0M455.6 343.4h0M459.8 271.5h0M433.9 267.9h0M507.5 296.1h0M407.6 250.1h0M426.6 343.1h0M489.7 285.1h0M449.6 335.5h0M439.1 349.8h0M428.9 344.5h0M494.2 292.8h0M449.4 268h0M463.2 287h0M448.4 336.9h0M472.9 277.7h0M464.6 298.3h0M473.6 320.9h0M504.6 285.7h0M442.6 277.7h0M434.4 244.4h0M415.9 245h0M432.4 251.9h0M443.2 353.5h0M510.9 289.7h0M438.5 283.7h0M423.3 336h0M465.6 297h0M420.9 307.5h0M447.2 335.2h0M490.7 278.9h0M443.1 345.2h0M448.3 270.8h0M459.6 292.3h0M441.5 336.9h0M493.2 280.9h0M445.4 334.4h0M500.7 292.3h0M421.2 333.9h0M434.3 260.2h0M478.3 302.2h0M443.4 351.8h0M421.9 261.4h0M435.7 340.7h0M465.6 240.7h0M499.3 279.9h0M452.8 250.5h0M465.6 249.9h0M473.7 292h0M439.2 351.1h0M436.4 332.7h0M422 335.1h0M482.9 287.3h0M444.2 230h0M432.8 306.9h0M491.4 290.7h0M504.9 288.2h0M428 337.5h0M490.2 299.2h0M493.8 285.7h0M435.6 268.4h0M437.9 340.1h0M445.4 248.3h0M456.1 248.9h0M394.2 278.4h0M417.5 253.4h0M460.2 287.6h0M441.9 350.2h0M424 337.7h0M468.8 303.3h0M430.8 295.6h0M436.6 261.6h0M445.5 232.9h0M406.9 290.3h0M452.1 317.3h0M442.7 340.8h0M452.1 343h0M441.3 345.4h0M425.6 314.9h0M447.9 354.1h0M404.5 265.6h0M390.5 265.7h0M445.3 277.2h0M483.3 302.7h0M490.7 277.6h0M481.2 304.5h0M425 349.2h0M447.2 298.2h0M493.7 295.9h0M449.8 272.3h0M446.9 346.3h0M420.8 344.1h0M432 333.6h0M490.6 291.5h0M475.2 277.4h0M449.7 342.2h0M425 343.9h0M445.1 294.7h0M411.8 245.4h0M470.8 306h0M416.8 272.4h0M480.9 282.4h0M482.1 307h0M402.9 277.1h0M427.8 339.7h0M470.5 300.5h0M414.3 245.1h0M504.2 297.3h0M442.9 345.8h0M417.8 253.1h0M480.9 285.7h0M487.3 304.6h0M500.7 278.8h0M497.4 296.6h0M405.1 248.3h0M480.2 305.4h0M467.3 300.9h0M477.7 300.1h0M438.5 338.9h0M453.8 255.8h0M408.2 311.1h0M475.7 300h0M435.6 256.9h0M459.8 247.1h0M422.2 335h0M416.3 311h0M431.9 331.8h0M443.5 290.1h0M460.5 290.1h0M449 348.3h0M508 285h0M440.6 333.7h0M446.6 351.2h0M473.1 296.6h0M492.4 290.3h0M448.7 336h0M493.9 275.6h0M446.9 349.5h0M430.9 337.2h0M445.4 344.9h0M429.8 250.2h0M468.5 297.6h0M436.2 297.1h0M456.1 289.6h0M445.4 345.6h0M472.4 282.1h0M411.2 244.2h0M495.7 284.4h0M486.8 295.2h0M486.5 280.6h0M428.3 352.9h0M424.2 253.5h0M417.7 335.4h0M455.7 258.8h0M424.8 348.3h0M439.5 346.4h0M402.5 249.3h0M481.1 289.4h0M504.6 281.4h0M482 277.6h0M448.3 340.3h0M450 350.4h0M441.2 263.4h0M417.3 279.9h0M440.1 340.3h0M504.3 288.7h0M468.2 242.8h0M395.2 267.9h0M452.4 347h0M404.5 308.2h0M449.6 280.2h0M434.2 266.1h0M461.5 295.3h0M437.9 339.7h0M475.9 297.2h0M405.3 247.6h0M444.1 246.3h0M489.7 296.2h0M430.8 350.5h0M447.8 334h0M487.1 282.1h0M407.8 306.6h0M439.4 347.7h0M492.5 303.9h0M486.7 280.5h0M437.7 339.5h0M509.5 286h0M451.7 318.2h0M444.9 292.6h0M446.7 330.1h0M423.7 243.6h0M445.5 253.5h0M446.7 337.2h0M436.1 293.2h0M451.8 334.8h0M434.1 337.4h0M498.3 294.1h0M434.4 334h0M438.6 354.6h0M420.5 350h0M500.9 298.8h0M465.4 293.6h0M452.4 340.6h0M416.1 344.2h0M461.8 298.7h0M418.5 254.5h0M443.6 257.9h0M431.1 345.7h0M396.2 261.3h0M432.9 332.4h0M484.4 295.1h0M443.5 249.2h0M491.3 280.6h0M430 298.4h0M394 264.1h0M504.5 284.5h0M436.2 348.1h0M464.5 233.8h0M508.4 284.2h0M459.5 290.7h0M413.5 281.1h0M457.8 288.6h0M486.2 276.6h0M413.7 261.7h0M437.7 338.3h0M494.4 294.9h0M437.2 260.6h0M423.5 338.9h0M472.9 299.8h0M495 290.4h0M477.6 279.6h0M508.8 296h0M493.4 285.4h0M473.6 306.4h0M397.6 274.3h0M417.4 342.3h0M408.2 245.5h0M444.3 258.3h0M454.3 244.8h0M386.4 276.8h0M447.6 330.7h0M508.1 283h0M470 297.7h0M446.9 288.8h0M441.4 351.4h0M438.2 309.4h0M455.2 351.2h0M454.1 336.7h0M411.5 261.3h0M423 276.1h0M465.5 291.4h0M454.5 340h0M468.4 311.3h0M439.7 344.1h0M443.7 341.2h0M440.8 229.4h0M450.5 251.9h0M457.9 349.9h0M490.9 301.9h0M437.3 339.3h0M502 287.8h0M440.8 257.7h0M494.6 275.7h0M428 348.4h0M387.4 271.8h0M475.2 278.1h0M406.9 245.8h0M455.4 337.8h0M480.5 279.1h0M504.2 290.8h0M439.4 344.9h0M446.4 342.3h0M486.9 285.4h0M450 336.2h0M432.9 354h0M503.6 282.4h0M429.8 329h0M432.1 348.4h0M432.4 346.7h0M433.3 249.1h0M489.6 283.9h0" stroke="#f07878"/></g>
<rect x="376.5" y="214.5" width="142" height="149" fill="none" stroke="#3c3c3c" stroke-width="1.1"/>
<circle cx="494.3" cy="228.5" r="2.3" fill="#E8736B"/>
<text x="498.8" y="230.9" font-size="6.8" fill="#333">G<tspan font-size="4.6" dy="1.4">0</tspan><tspan dy="-1.4">–G</tspan><tspan font-size="4.6" dy="1.4">1</tspan></text>
<circle cx="494.3" cy="235.8" r="2.3" fill="#5B8FD0"/>
<text x="498.8" y="238.2" font-size="6.8" fill="#333">S</text>
<circle cx="494.3" cy="243" r="2.3" fill="#2FA84F"/>
<text x="498.8" y="245.4" font-size="6.8" fill="#333">G<tspan font-size="4.6" dy="1.4">2</tspan><tspan dy="-1.4">–M</tspan></text>
<text x="92.6" y="402.7" font-size="8.2" text-anchor="middle" font-style="italic" fill="#222">Ki67</text>
<g stroke-width="1.2" stroke-linecap="round" opacity="1.0"><path d="M81.9 439.6h0M127.6 489.1h0M81.2 521.7h0M100.5 488.4h0M75 491.6h0M87.8 537h0M77.6 485h0M62.8 504.1h0M80.5 446.1h0M101.4 456.8h0M149.3 485.7h0M100.8 489.9h0M45.7 456.4h0M128.2 479.2h0M74 533.7h0M89.2 453.4h0M106.6 504.8h0M56.1 468.4h0M87.6 535h0M114.9 485.6h0M98.8 445.7h0M62.3 530.3h0M117.3 512.6h0M140.1 490.6h0M89 506.3h0M87.7 484.4h0M97.2 536.6h0M81.1 436.3h0M84.9 420.9h0M73.1 457.9h0M71.9 522.6h0M111.2 482.6h0M137.6 482.8h0M87.4 527.6h0M123.5 495.3h0M87.5 487.1h0M107.9 474.4h0M91.4 455.1h0M81.7 457.3h0M148.4 484.5h0M76.6 490.8h0M65.2 486.4h0M126.9 471h0M131.2 481.9h0M138.6 497.2h0M84.2 535.7h0M71.2 455.4h0M137.6 474.4h0M88.2 544.3h0M66.4 447.4h0M76 471.4h0M71.6 508.8h0M80.1 465.3h0M114.1 496.7h0M60.2 469.1h0M122.7 496.6h0M76.3 533.5h0M134.2 482h0M93.8 534.4h0M87.3 501.9h0M67.7 445.5h0M69.7 538.8h0M62.4 456.2h0M140.2 491.2h0M89.3 481.3h0M91.2 526.7h0M76.9 435h0M73.6 470.6h0M49.4 454.1h0M114.1 481.3h0M89.7 499.7h0M62.3 432h0M77 511.8h0M65.1 437.6h0M82.4 500.1h0M88.8 452.1h0M91.6 438.2h0M147.2 486.6h0M40.5 454.4h0M73 529.8h0M49.6 463.8h0M73.1 532.2h0M82.8 533.8h0M140.1 496.5h0M59.5 475.1h0M117.8 487.4h0M117.8 496.9h0M48 464.3h0M33.5 461.7h0M66.2 450.7h0M48.5 456.5h0M93.2 508.2h0M73 438.4h0M71.8 533.1h0M94.8 435.9h0M97.9 468h0M78.4 522.9h0M94.6 496.4h0M43.8 454.6h0M52.5 480.1h0M59.1 431.7h0M68.8 456.5h0M68.4 465.3h0M144.8 478.7h0M69.3 484.7h0M76.6 540.7h0M87.6 536.2h0M119.5 491.4h0M77.8 541.1h0M109.8 438.6h0M129.5 475.2h0M87.4 460.2h0M62.4 505.2h0M89.8 499.9h0M63 458h0M74.3 455.6h0M74.9 443.2h0M94.3 450.6h0M115.8 482.4h0M136.9 478.8h0M79.1 512.4h0M65 456.4h0M56.2 449h0M82.1 530.4h0M84.2 540.9h0M94.2 543.4h0M110.7 488.6h0M125.4 490.1h0M89.1 447.9h0M97.7 487.9h0M77.5 522.5h0M60.3 447.3h0M70 477.9h0M86.8 507h0M132.5 500.2h0M151.3 485.7h0M95.7 534.6h0M95 535.2h0M66.2 458.1h0M85.1 433.9h0M92.3 543.9h0M136.7 496.9h0M60.2 468.1h0M146.9 480.1h0M96.2 438.4h0M87 524h0M89.6 430.3h0M55.8 476.8h0M94.7 525.8h0M114.8 430.3h0M101 480.3h0M120.9 481.6h0M34.1 465.1h0M62.7 508h0M61.4 454.5h0M92.6 475.5h0M31.5 461.3h0M131.2 492.8h0M118.3 492h0M81.2 531.6h0M60.3 471h0M89.1 508.7h0M92.7 485.9h0M69.4 498.8h0M89.1 478.2h0M72.4 524.7h0M84.7 469h0M78.6 535.5h0M90.1 448.6h0M51.6 464.3h0M87.5 447.1h0M132.4 484.2h0M94.4 457.6h0M41.4 461.5h0M103.6 487.9h0M97.2 460.5h0M135.3 494.6h0M99.1 495.8h0M82.8 432.8h0M111.9 493.1h0M76.8 542h0M82.2 471.1h0M83.5 472.4h0M90.3 484.7h0M82.4 468.6h0M86.9 497.7h0M72.1 495.3h0M78.5 435.3h0M83.7 452.3h0M97.1 448.9h0M92.5 432.9h0M59.1 500.1h0M80 543.2h0M92.8 539.6h0M72.7 479.9h0M88.3 496.3h0M123.7 497.9h0M55.9 468.7h0M63.2 503.6h0M87.5 525h0M52.8 456.8h0M89.7 493.4h0M56.3 431.5h0M89.4 526.5h0M78 532.3h0M132.8 484.8h0M144.9 480.4h0M87.8 504.3h0M60 500.6h0M37.7 461.7h0M51.1 461h0M93.6 535h0M74.2 507.6h0M65.9 500.3h0M32.3 458.6h0M86.4 483.2h0M86.9 448.6h0M78.5 446.8h0M88.1 502.9h0M151.5 483.2h0M105.7 502.5h0M68.8 468.4h0M72 486.1h0M41.2 452.6h0M45.6 455.6h0M87.1 533.5h0M46.2 453.7h0M47.2 458.7h0M78.2 432h0M95.3 526.7h0M88.4 465.3h0M114 434.7h0M95.9 535.8h0M101.1 463.9h0M66.6 538.3h0M106.2 493.4h0M67.1 495.7h0M87.3 451.1h0M115.3 495.5h0M74.1 531.4h0M139.5 476.8h0M57.4 433.3h0M66.3 502.5h0M36.7 466.8h0M76.6 487.7h0M61 431.9h0M71.1 532.1h0M58.3 491.5h0M71.9 524h0M141.1 480.5h0M72.1 543.8h0M114.8 472h0M76.6 457.5h0M39.2 455.8h0M64.5 452.7h0M103.8 495h0M109.3 488.5h0M54.8 451.3h0M97.9 536.7h0M71.9 503h0M36.5 464.1h0M73.4 461.8h0M72.3 471.9h0M77.9 522.4h0M69.7 537.5h0M131.9 471.1h0M142.8 475.4h0M76 452.7h0M83.5 530.9h0M75.2 543.3h0M116 475.3h0M124.7 490.6h0M133.4 480.6h0M65.2 534.8h0M143.5 472.4h0M48.6 468.5h0M100.7 532.1h0M71.1 453.2h0M71.4 463.4h0M31.2 460.3h0M88.3 441.6h0M86.4 455.1h0M87.8 527.1h0M103.1 488.4h0M51.2 462.2h0M66.1 511.9h0M113.5 486.7h0M72.6 460.7h0M112.5 515.2h0M69.6 476.1h0M53.3 442.7h0M78.3 481.6h0M98.1 529.2h0M111.3 489.2h0M50 476.7h0M96.4 484.9h0M131.3 495.4h0M68.5 543h0M88.1 465.4h0M78.4 482.2h0M103.3 491.3h0M70.5 453.6h0M86.4 491.9h0M93.5 525.5h0M94.3 468.8h0M71.9 455.2h0M71 526.8h0M92.9 502.5h0M82.3 526.4h0M101.2 540.5h0M76.7 513h0M72.3 535.2h0M90.8 495.4h0M106.5 491.6h0M42.1 456.5h0M83 532.4h0M63.6 458.6h0M110.5 505.5h0M85.5 483.1h0M115.7 474.5h0M90.1 434.8h0M93.5 473h0M109.8 467.6h0M99.7 505.5h0M84 531.7h0M124.2 470.7h0M82.6 475.4h0M118.9 477.8h0M142.8 470.1h0M106.6 504.6h0M78.1 474.6h0M71.1 509.2h0M97.9 487h0M119.8 499.1h0M94.2 428.8h0M134.2 482.7h0M100.2 532.1h0M140.3 493.1h0M32.4 456.9h0M76.1 546.5h0M30.6 463.8h0M78.5 485.3h0M80 432.4h0M85.8 500.5h0M123.6 509h0M47.8 457.7h0M50.9 444.9h0M83.9 525h0M78.6 476.5h0M81.7 420.4h0M55.9 466.2h0M90.1 435.9h0M95.3 534.9h0M75 477.7h0M42.3 462.9h0M33.4 453.6h0M71.5 536.7h0M65.1 458.5h0M82.9 541.6h0M79 466.2h0M90.8 432.2h0M70.5 536.7h0M72.8 476.6h0M100.2 474.4h0M126 473.1h0M53.8 468.2h0M90.6 529.8h0M77.1 429.5h0M110.8 512.8h0M71.6 440.4h0M86.7 440.1h0M71 508.7h0M101 497.2h0M80.1 485.8h0M77.5 522.5h0M69.9 489.1h0M71.9 437.9h0M45.9 459.8h0M78 512.5h0M47.5 465.7h0M88.7 533.7h0M105.6 466h0M92.8 445h0M64.6 433.8h0M82.2 538.8h0M101.2 501.3h0M46.9 459.8h0M101.8 447.8h0M106.5 504.9h0M74.3 455.9h0M137.9 494.5h0M85.7 510.5h0M133.2 476.2h0M97.2 486.9h0M137.1 481.7h0M66 532.8h0M98.1 471.3h0M64.5 532.7h0M99.7 489h0M95.3 499.4h0M82.1 486.1h0M76.2 435.2h0M93.5 483.7h0M99 534.4h0M147.8 487.5h0M61.9 498.9h0M60.6 496.1h0M71.8 534.1h0M40.5 455.1h0M131.1 476.6h0M93.4 526.6h0M55.7 489.3h0M83.5 540.8h0M101.6 468.7h0M74 535.6h0M106.2 478.4h0M81.8 477.4h0M58 492.7h0M92.3 528h0M84.8 485.5h0M115.3 469.2h0M69.2 501.5h0M119.1 512.1h0M69.3 449h0M85.5 488.6h0M99.3 458.9h0M44 462.9h0M103.5 461h0M107.5 489.6h0M75.2 499.4h0M80.8 506.7h0M145.1 477.1h0M39.6 456.6h0M85.8 539.6h0M66.3 451h0M84.5 448h0M82.4 458.4h0M116.5 515.3h0M57.3 503.5h0M75.8 470.4h0M73.2 511.7h0M80.3 433.9h0M83.8 505.1h0M87.4 544.5h0M94.2 473h0M151 481.1h0M89.2 479.7h0M68.8 527.1h0M108.4 488.3h0M93.5 454.7h0M89.8 513.6h0M75.2 499h0M87.3 482.2h0M67 455h0M98.2 488.7h0M132 470.4h0M87.3 536.2h0M83.1 471.9h0M114.6 504.5h0M29.4 465.9h0M74.5 524.6h0M134.4 472.4h0M89.5 525.5h0M101.7 471.6h0M53 443.3h0M74.4 511.9h0M141.4 483.7h0M66.8 525h0M70.1 520.7h0M59.8 508.3h0M102.9 474.7h0M95.7 519.2h0M65.5 468.2h0M42.8 456.5h0M82.6 432h0M103.7 460.8h0M105.9 483.7h0M68.5 488.7h0M87.6 542.8h0M66.1 506.8h0M59.6 449.9h0M88.6 491.5h0M80.4 531.8h0M77.6 489.4h0M63.5 484h0M77 447.5h0M108.5 432.5h0M88 514h0M140.1 471.4h0M116.1 483.4h0M74.5 533.4h0M75.9 437.3h0M83.7 542.1h0M79.9 428.4h0M87.5 480.1h0M101.2 508h0M81 523.9h0M67.6 526.2h0M121 512.5h0M41.5 465.8h0M29 464.3h0M79.1 511.5h0M125.4 510.6h0M87.3 498.1h0M124.7 478.8h0M88.3 421.9h0M66.4 426.4h0M103.2 503.9h0M76.1 450.2h0M65.9 455.8h0M78.2 489.5h0M128.3 506.1h0M73.6 484.3h0M73.1 528.6h0M131.6 490.5h0M69.5 431.9h0M134.9 477.2h0M90.3 506.7h0M54.3 444.4h0M83.2 505.1h0M78.8 465.2h0M82.4 531.2h0M80.8 429h0M66.9 434.6h0M75.1 532.4h0M89.1 481.1h0M92.6 510.3h0M68 540.7h0M51.2 463.9h0M69.4 528.8h0M94.2 452h0M52.2 437.3h0M89.5 424.7h0M63.4 485.2h0M108.1 476.5h0M87 531.9h0M34.6 456h0M63.7 467.7h0M82.7 433.8h0M95.8 534.1h0M90 487.1h0M63 487.5h0M85.6 536.4h0M45.2 452.8h0M55.8 433.2h0M68.5 481.4h0M94 510.9h0M114.8 516.5h0M118.1 505.4h0M46 466.6h0M61.1 506.4h0M89.5 467.7h0M70.6 503h0M114.7 501.9h0M75.7 526h0M37.2 465.5h0M113.1 498.2h0M75.4 495.6h0M80.5 477.2h0M123.1 495.8h0M67 459.6h0M134.9 487.3h0M54 490.6h0M90.9 537.3h0M80.8 498.1h0M66.4 535.1h0M60.2 449.8h0M97.6 500.9h0M44.5 460.3h0M103.2 479.4h0M76.9 524.8h0M101.1 495h0M70.9 447.6h0M85.2 458.1h0M86.3 455.6h0M45.9 455.9h0M112.1 429.2h0M117.5 468.9h0M86.7 446.4h0M93.5 533.3h0M70.3 534.9h0M80.4 514.4h0M79.2 489.1h0M109.9 506.7h0M98 470.2h0M100.5 444.1h0M77.7 430.5h0M93 486.5h0M76.3 482.5h0M113.3 497.3h0M92 432.3h0M76.1 455.9h0M77.7 545h0M83 496.7h0M103.6 478.5h0M123.9 498.3h0M96.1 455.8h0M90 455h0M57.9 502.5h0M72.9 530.8h0M130.9 497.1h0M113 491.9h0M106.3 508h0M107.3 500.3h0M144.7 488.6h0M43.7 461.2h0M52.6 446.6h0M87.2 536.8h0M122.8 477.2h0M89.7 458.5h0M95.2 469.6h0M57.3 458.6h0M98.5 489.1h0M128.8 496h0M141.4 470.4h0M75.9 487.8h0M78.2 511.3h0M90.5 474.9h0M75.6 487.8h0M122.2 496.7h0M110.1 492.2h0M119.9 491.5h0M83 530h0M64.9 431.4h0M27.9 455.3h0M117.9 491.3h0M67.8 443h0M90.1 475.1h0M85.4 493.5h0M79.5 459.5h0M36.9 460.5h0M67.7 526.1h0M119.7 504.8h0M118.2 502.4h0M99.4 468.7h0M89.2 445.4h0M88.8 466.5h0M85.9 439.9h0M50.9 465.7h0M109.3 467h0M76.8 522.9h0M92.9 539.3h0M148.3 476.4h0M92.7 487.7h0M73 504.6h0M85 524.8h0M102.9 502h0M90.6 542.1h0M115.5 488h0M135 467.2h0M90.9 540.5h0M80.2 431.6h0M88 543.1h0M118 509.6h0M79.8 510.3h0M75.8 528.2h0M89.5 536h0M83.8 493.9h0M71.1 451.6h0M74.3 427h0M76.9 488.8h0M80 461.1h0M100.3 489.9h0M89.5 536.6h0M59.3 466.9h0M114.8 473.6h0M136.7 475.8h0M65 510.5h0M128.3 486.6h0M73.5 543.8h0M82.7 465h0M105.4 508.1h0M91.6 473.8h0M62.1 500.3h0M63.5 526.5h0M99.4 449.2h0M92.4 491h0M74.8 479.7h0M70.2 539.3h0M57.1 493.6h0M91 457.2h0M83.9 537.4h0M82 420h0M51.3 462.3h0M123 480.8h0M91.2 442.1h0M145.1 472.9h0M109.3 492.1h0M93 482.3h0M50.3 478.1h0M75.3 532.2h0M89.3 506.7h0M87.7 501.7h0M76 432.1h0M80.5 461.3h0M73.3 432.4h0M74 512h0M95.6 536.6h0M101.8 479.3h0M93.8 541.4h0M45 457.1h0M93.2 485.5h0M64.3 459.4h0M71.6 433h0M120.7 513.2h0M84.5 531.4h0M144.8 480.1h0M110.8 434.6h0M51.5 477.7h0M76.9 458.6h0M98.8 492.6h0M104.6 486.7h0M82.5 530.8h0M29.3 468h0M99.5 498.7h0M94 500.7h0M65.4 504.2h0M87.6 443h0M67.1 462.5h0M75.8 541.4h0M91.7 525.2h0M97.1 433.6h0M63.1 451.7h0M128.7 473.6h0M62.8 498.2h0M60.2 460.3h0M133.7 495.2h0M128.2 472h0M82.3 530.6h0M42.6 462.9h0M60.5 452.4h0M149.7 477.5h0M64.8 468.9h0M68.2 480.8h0M72.7 453.2h0M71.8 508.3h0M90.7 521.2h0M49.4 477.5h0M109.2 502.8h0M114.2 428.8h0M50.1 457.1h0M110.8 498.3h0M95.5 525.9h0M78.8 528.5h0M139.1 485.5h0M89.1 463.5h0M66.8 504.1h0M68.7 510.7h0M79.1 525.2h0M72.5 514.2h0M63 509.3h0M113.2 507.1h0M49.1 477.3h0M83.1 545.5h0M66.1 541h0M141.6 490.2h0M65.7 459.8h0M81.8 486.4h0M62 535.2h0M73.9 472.8h0M104.8 490h0M87.6 505.6h0M95.7 438.9h0M108.7 492.9h0M82.9 512.2h0M52.7 463.2h0M57.4 506.4h0M57.1 430.1h0M65.6 454.8h0M77.7 523.6h0M117.9 514.9h0M132.6 472.1h0M44.9 464.6h0M77.1 457.4h0M83.7 495.1h0M90.6 520.8h0M63.1 456h0M72.6 486.8h0M35.2 452.4h0M132.3 473.9h0M51.1 460.1h0M60.9 465.8h0M83.6 497.2h0M80.8 539.2h0M148.6 475.6h0M63.1 505.9h0M78.7 432.3h0M102.7 482.1h0M57.7 495.9h0M71.2 427.8h0M79.5 483.7h0M127.8 468.1h0M70.1 490.2h0M76 521.7h0M90.7 446.7h0M96.7 521.7h0M109.9 471.1h0M82.2 529.4h0M135.5 486.3h0M63.7 497.7h0M54.2 462.8h0M68.9 530h0M87.1 447.2h0M76.8 511h0M112.5 433.7h0M133.5 488.9h0M60.9 475.8h0M58.7 498.1h0M115.9 497.7h0M87.8 443h0M100.4 449.9h0M63.2 533.3h0M94.8 481.3h0M75.9 429.4h0M92.6 429h0M91.5 521.9h0M91.4 442.1h0M49.6 457.2h0M148.4 474.5h0M74.1 484.8h0M116.2 512.1h0M55.6 496.7h0M85.7 542.4h0M78.3 479.5h0M59 447h0M98.7 542.2h0M97.6 527.8h0M108.4 482.8h0M94.6 434h0M81.3 454.4h0M98.1 531h0M81.1 509.9h0M85.1 421.3h0M86.7 493.6h0M42.4 462.4h0M83 463.4h0M60.8 451.9h0M101.3 540.9h0M88.3 461.5h0M93.4 455.1h0M81.8 530.4h0M142.7 479.2h0M135.7 467.3h0M73.2 539.4h0M117.4 469.7h0M62.1 470.3h0M102.7 465.8h0M95.1 498.8h0M74.2 481.4h0M81.6 496.3h0M54.5 461.3h0M107.1 479.6h0M105.7 460.3h0M89.7 499.1h0M99.9 451.9h0M98.8 528.8h0M75.7 488.7h0M69.3 454.2h0M65.5 512.1h0M122.4 470.6h0M62.1 440.5h0M144.7 482.2h0M92.9 463.9h0M81.7 456.4h0M93.8 426.9h0M68.7 475.7h0M83.9 536h0M89.2 437.1h0M61.3 498.6h0M92.9 476h0M82.5 482.1h0M103.2 466h0M93.8 527.3h0M77.7 545h0M144.2 473.9h0M79.7 489.7h0M74.9 520.2h0M77 539.4h0M74.4 456.6h0M77.3 537.7h0M57.3 464.2h0M71.5 450.2h0M65.5 511.9h0" stroke="#f0f0f0"/></g>
<g stroke-width="1.7" stroke-linecap="round" opacity="1.0"><path d="M68.9 451h0M104.8 493.5h0M117.8 476.3h0M111.9 479.6h0M115.4 477.3h0M85.5 491.2h0M73.7 456.3h0M76.4 442.9h0M120.5 469.8h0M67.4 500.9h0M85.9 537.8h0M52.1 436.9h0M61.8 469.9h0M68.6 502.9h0M54.6 464h0M57 504.5h0M54.6 482.5h0M109.5 481.5h0M97.4 459.2h0M124.3 503.9h0M66 470.6h0M55.4 480.6h0M75.5 524h0M74.1 483.4h0M98.1 490.6h0M95.2 524.6h0M109 477h0M118.1 482.4h0M51.9 472.4h0M67.2 501.8h0M146.1 489.8h0M45.4 461.5h0M149 481.4h0M65.4 539.8h0M69.3 453.9h0M87.5 539.8h0M57.8 451.8h0M97.1 502.9h0M51 462.5h0M59.3 498.1h0M79.5 448.8h0M70.1 529.6h0M74.3 497h0M77.3 439.8h0M68.6 528.6h0M81.6 495h0M78.7 463.4h0M51.3 475.7h0M62.3 466.8h0M64.5 491.2h0M91.2 526.3h0M85.8 528h0M120.4 493.6h0M67.4 453h0M96.5 442.3h0M65.6 454.5h0M75.8 487h0M53.3 481.7h0M95.8 508.5h0M91.8 545.1h0M89.4 468.7h0M125.1 494h0M132 469.1h0M78.5 454.4h0M70.3 540.2h0M91.2 489.6h0M131.9 482.9h0M89.2 486.2h0M70.7 447.4h0M49.5 468.6h0M102.8 441.1h0M82.6 448.7h0M44 454.1h0M57.2 470.1h0M65.6 476.5h0M65.7 467.7h0M57.3 436h0M94.6 440.9h0M85.5 455.1h0M96 538h0M118.1 488.6h0M90 507.1h0M92 437.4h0M83.9 538.7h0M95.4 509.4h0M126.1 486.5h0M41.3 454h0M101.2 480.1h0M81.8 452.3h0M115.3 491.2h0M149 487.4h0M82.1 439.8h0M134.6 476.9h0M41.4 465h0M112.6 489h0M93.6 506.2h0M87.9 532.3h0M88.6 470.7h0M132.2 493.2h0M85.5 510.7h0M90.4 533.4h0M128.5 476.9h0M131 475.4h0" stroke="#f09078"/>
<path d="M104 472.7h0M77.9 487.9h0M29 461.5h0M86.7 462.4h0M70 502.8h0M92.1 452.7h0M48.4 465.8h0M63.9 470.8h0M41.3 458.8h0M57 502.5h0M119.2 509.6h0M82.3 506.9h0M49.8 454.5h0M54.3 444.8h0M96.7 477.5h0M64.3 450.7h0M75.1 481h0M101 475.5h0M76.5 482.2h0M52.2 440.7h0M90.7 457.3h0M82.9 462.3h0M56.2 479.6h0M80.8 453.5h0M69.1 506.9h0M85.1 511.2h0M88.4 435.4h0M104.4 472.1h0M61.4 452.7h0M53.7 438.5h0M79.1 456.1h0M83.9 478h0M78.2 471h0M57.2 496.1h0M103 463.1h0M78.6 459.5h0M91 493.6h0M93.2 459.6h0M50.8 441.1h0M79.1 436.2h0M61.8 436.7h0M69.2 488.7h0M76.7 482.1h0M85.4 493.3h0M92.2 462.3h0M50.1 469h0M72.7 487.3h0M113.3 507.6h0M111.2 463.8h0M107.2 508.5h0M79.6 494.9h0M119.7 503.2h0M41.4 469.9h0M64.8 500.2h0M111.4 494.7h0M81.2 453.3h0M54.7 444h0M93.6 463.8h0M104.5 468.7h0M58.8 465.7h0M91.5 467.5h0M93.7 434.3h0M80.3 448.6h0M103 438.8h0M111.1 465.1h0M71.4 472.1h0M62.2 502.3h0M106.1 498.3h0M87.7 481.5h0M65.4 480.9h0M98.4 467h0M39 468.3h0M93.4 471.7h0M79 457.7h0M62.4 459.4h0M66 490h0M69.1 435.4h0M89.5 445.2h0M64.2 446.2h0M87.7 449.6h0M121.1 512.8h0M87.7 440.9h0M87.4 506.4h0M59.7 453.4h0M88.5 450h0M97.8 436.5h0M82 459.5h0M94.3 443.6h0M93.9 499.5h0M92.7 498.3h0" stroke="#d84830"/>
<path d="M56.3 434.7h0M62 479.5h0M76.2 467h0M63.2 469.6h0M110.5 428.2h0M95.4 448.3h0M90.9 521.4h0M101.7 445h0M106.2 464h0M70.7 437.5h0M62.8 468.7h0M72.2 524.8h0M93.3 527.7h0M39.6 455.2h0M83.3 524.7h0M106.3 477.9h0M89.1 486.4h0M79.8 533.1h0M110 488.7h0M136.5 478.8h0M105.4 504.9h0M65.2 492.4h0M96.4 507.2h0M68.8 489.8h0M77.5 458.5h0M35.7 468.3h0M89 502.3h0M120.7 476.1h0M44 450.4h0M138.2 494.9h0M68.3 531.5h0M74.4 450.4h0M127.5 492.1h0M73.3 481.6h0M74.5 508.5h0M71 478.8h0M126.7 472.7h0M105.8 472.2h0M80.1 519h0M85.8 513.1h0M66.3 430.9h0M135.3 484.2h0M116 512.1h0M66.5 498.8h0M102.8 483.8h0M79 451.9h0M70.8 508.7h0M145.4 479.6h0M89.5 440h0M72.8 453.8h0M50.7 462h0M85.9 499.9h0M62.6 464h0M58.2 466.1h0M114.5 514.5h0M60.3 436.9h0M51.7 440h0M97.4 447.5h0M133.6 481.7h0M92.6 527.1h0M53.2 472.1h0M74.9 441.9h0M101.3 497h0M128.1 472.1h0M98.4 487.2h0M69.2 467h0M92.3 498h0M123.8 469.2h0M92.2 531.3h0M63.1 471.4h0M131.1 487.6h0M90.7 528.3h0M60.6 447.2h0M55.9 474.9h0M81.2 432.5h0M108.3 485h0M91.1 496.3h0M144.9 476h0M107.5 425.7h0M58.6 492.6h0M59.5 472.7h0M136.1 481.9h0M119.7 471.2h0M34.1 468.4h0M100.5 489h0M88.2 487.2h0M70 485.4h0M68.4 467.7h0M111.1 502.6h0M84.1 535.1h0M86.4 502.9h0M76.5 455.9h0M53.3 437.6h0" stroke="#f07860"/>
<path d="M76.5 511.8h0M65.7 492.3h0M66.2 453.8h0M56.6 470.3h0M54.7 471.8h0M106.2 477h0M70.9 493.3h0M73.3 495h0M88.2 431.1h0M69.4 452h0M47 452.3h0M37.9 468.9h0M67 454.7h0M97.2 456h0M45.5 471.3h0M85.1 473.2h0M68.7 448.6h0M57.4 471h0M47 457.8h0M70.1 428h0M122.9 515.4h0M65.8 430.1h0M121.1 503.9h0M87.2 456.5h0M52.2 445.2h0M96.6 480.6h0M92.7 435.6h0M74 457.2h0M61.3 476h0M77.6 507.8h0M94 452.2h0M89 463.8h0M104.9 499.3h0M47.8 474.2h0M85.7 441.1h0M83 484.6h0M103.5 459.9h0M66.9 474.7h0M63 439h0M110.1 469.2h0M87.9 464.7h0M77.2 443.6h0M73.8 487.9h0M34.2 470.6h0M103.9 482.3h0M70.9 457.2h0M64.3 497.6h0M77.7 498.2h0M80.3 460h0M103.4 479.1h0M61.1 499.5h0M104.4 469.8h0M88.5 444.3h0M92.9 500.1h0M87.4 496.7h0M54.5 502.4h0M53.4 477.5h0M103.7 481.5h0M80.9 488.5h0M92.7 492.5h0M69.6 445.2h0M99.2 450.4h0M89.9 450h0M66.6 495.3h0M86.1 454h0M104.9 474.9h0M51 499.6h0M54.2 497.9h0M89 484h0M87.6 469.1h0M80.7 484.6h0M41.8 464.9h0M91.5 457h0M54.6 437.3h0M110.1 498.5h0M64.6 485.9h0M110.4 513.4h0M62.7 458.8h0M67.8 511.2h0M72.6 446.9h0M36.5 470h0M78.2 440.9h0M64.5 486.3h0" stroke="#f06048"/>
<path d="M81 456.4h0M95.7 470.8h0M112.2 509.3h0M93.4 482.5h0M105.5 469.4h0M67.2 448h0M72.9 493.8h0M40.4 457.3h0M56.5 438.9h0M78.4 454.5h0M89.2 446.9h0M65.3 495.9h0M48.2 475.4h0M80.9 454.6h0M99.3 486.9h0M113.5 514.8h0M52.8 498.2h0M51.6 459.5h0M101.8 439.8h0M32.7 459.5h0M74.5 442.3h0M71.8 482.6h0M98.8 507.1h0M105.2 476.5h0M42.8 468.1h0M77.3 487.4h0M69.9 449.8h0M105.3 511.5h0M88.9 489.9h0M76.3 493.6h0M85.4 482.2h0M93 508.9h0M66.6 476.3h0M74.7 428.2h0M76.7 492.2h0M70 492.1h0M71.1 457.8h0M96.2 496.7h0M56.6 472.4h0M83 475.2h0M101.1 481.9h0M76 497.8h0M103.7 478.3h0M63.3 445.1h0M77.2 490.5h0M51.1 457.2h0M37.9 457.4h0M106.2 500.6h0M58 437.2h0M72.8 507.5h0M47.7 475h0M90.7 478.5h0M73 474.9h0M84.9 466.6h0M51.8 439.4h0M88.2 438.1h0M41.6 468.2h0M43.3 452.9h0M75 489.7h0M82.7 500.7h0M35 463.3h0M94.9 480.5h0" stroke="#f06030"/>
<path d="M78.2 442.7h0M70.3 536.9h0M31.6 459.9h0M35.5 470.6h0M71.8 455.4h0M58.8 430.9h0M89.4 504.1h0M72.6 533.8h0M76.9 529.7h0M68.6 507.2h0M108 471.3h0M46.2 471.7h0M118.8 501.4h0M74.8 432.1h0M52.1 474.9h0M73.9 443.7h0M111.6 501.9h0M84.5 537.4h0M59.8 436.4h0M123 513.9h0M58.3 433.1h0M64.7 537.5h0M62.4 490.7h0M65.6 506.3h0M107.2 494.2h0M59.5 457.5h0M86.2 541.2h0M80.2 503.5h0M70.8 506.2h0M65.6 493.5h0M122.8 473.9h0M99.5 481h0M77 492.3h0M49.2 441h0M97.1 448.8h0M57.3 502.1h0M94 446.4h0M96.1 531.6h0M76 536.7h0M41.2 455.7h0M57.7 452.9h0" stroke="#f09060"/>
<path d="M80.8 494.7h0M123.9 506h0M89.8 456.1h0M115.1 501.3h0M36.7 467.4h0M97.4 452.2h0M95.9 484.5h0M61.7 506.3h0M85.7 434.4h0M90.1 482.4h0M108.1 472.5h0M98 479.8h0M97 500.6h0M79.3 440h0M54 441.8h0M108.5 441.7h0M132.7 482.1h0M99.5 440.6h0M45.9 462.5h0M63.6 444.8h0M138.3 488h0M111.2 489h0M76.7 485.5h0M42.4 459.5h0M80.2 492.3h0M44.6 465.8h0M90.9 480.2h0" stroke="#f07848"/>
<path d="M101.9 508.6h0M106 473.4h0M65.4 446.2h0M112.3 509.8h0M81.2 487.1h0M55.3 465.1h0M41.7 464.7h0M86.8 469.2h0M71.7 462.1h0M41.3 467h0M85.1 449.4h0" stroke="#f04830"/></g>
<rect x="24.5" y="406.5" width="134" height="147" fill="none" stroke="#3c3c3c" stroke-width="1.1"/>
<rect x="144" y="412" width="4" height="30" fill="url(#gR)"/>
<text x="151" y="415.7" font-size="5.6" fill="#333">3</text>
<text x="151" y="425.8" font-size="5.6" fill="#333">2</text>
<text x="151" y="434.2" font-size="5.6" fill="#333">1</text>
<text x="151" y="444" font-size="5.6" fill="#333">0</text>
<text x="260.2" y="403.3" font-size="8.2" text-anchor="middle" font-style="italic" fill="#222">p57</text>
<g stroke-width="1.2" stroke-linecap="round" opacity="1.0"><path d="M251.1 439.4h0M296.8 489h0M269.7 488.2h0M244.2 491.5h0M246.8 484.9h0M245.7 511.7h0M232 504h0M231.2 479.4h0M249.7 445.8h0M270.6 456.6h0M250.2 456.2h0M318.5 485.5h0M235.4 453.6h0M270 489.7h0M214.9 456.2h0M223.9 471.6h0M297.4 479.1h0M243.2 533.7h0M258.4 453.2h0M275.8 504.7h0M225.3 468.3h0M284.1 485.5h0M268 445.4h0M275.4 476.9h0M231.5 530.2h0M286.5 512.5h0M258.2 506.3h0M256.9 484.3h0M266.4 536.5h0M250.3 436.1h0M254.1 420.6h0M242.3 457.7h0M280.4 482.5h0M306.8 482.7h0M292.7 495.2h0M256.7 486.9h0M277.1 474.2h0M260.6 454.9h0M250.9 457.1h0M317.6 484.4h0M245.8 490.7h0M234.4 486.2h0M296.1 470.8h0M300.4 481.7h0M240.4 455.2h0M264.6 448.1h0M306.8 474.2h0M257.4 544.3h0M235.6 447.2h0M245.2 471.2h0M240.8 508.7h0M249.3 465.1h0M283.3 496.6h0M229.4 469h0M291.9 496.5h0M303.4 481.8h0M263 534.4h0M256.5 501.7h0M236.9 445.2h0M236.4 447.8h0M293.1 505.9h0M238.9 538.8h0M231.6 456h0M309.4 491.1h0M258.5 481.1h0M260.4 526.6h0M246.1 434.7h0M242.8 470.4h0M218.6 453.9h0M283.3 481.1h0M258.9 499.6h0M231.5 431.7h0M246.2 511.7h0M234.3 437.3h0M251.6 499.9h0M258 451.9h0M260.8 437.9h0M316.4 486.4h0M209.7 454.2h0M218.8 463.6h0M242.3 532.1h0M252 533.8h0M309.3 496.4h0M228.7 475h0M287 487.3h0M287 496.8h0M217.2 464.1h0M202.7 461.5h0M235.4 450.5h0M217.7 456.3h0M262.4 508.1h0M242.2 438.2h0M264 435.6h0M267.1 467.8h0M263.8 496.2h0M213 454.4h0M221.7 479.9h0M228.3 431.4h0M209.6 457.1h0M225.7 438.6h0M238 456.3h0M217.6 465.6h0M237.6 465.1h0M314 478.5h0M238.5 484.6h0M245.8 540.7h0M256.8 536.2h0M288.7 491.2h0M247 541h0M279 438.4h0M256.6 460h0M231.6 505.1h0M259 499.8h0M232.2 457.8h0M258.4 446.7h0M275.2 473.2h0M243.5 455.4h0M244.1 443h0M263.5 450.4h0M285 482.3h0M306.1 478.7h0M248.3 512.3h0M234.2 456.2h0M225.4 448.8h0M241 455.2h0M253.4 540.9h0M210.5 458.6h0M263.4 543.3h0M279.9 488.5h0M294.6 490h0M258.3 447.7h0M266.9 487.8h0M266.4 455.8h0M229.5 447.1h0M239.2 477.8h0M256 506.9h0M301.7 500.1h0M320.5 485.6h0M275.5 477.8h0M235.4 457.9h0M223.8 482.4h0M254.3 433.7h0M217.4 475.3h0M254.3 473h0M237.9 448.4h0M305.9 496.8h0M229.4 467.9h0M316.1 480h0M265.4 438.2h0M250.1 454.4h0M258.8 430h0M225 476.6h0M263.9 525.7h0M284 430.1h0M270.2 480.2h0M290.1 481.4h0M203.3 464.9h0M231.9 507.9h0M230.6 454.3h0M261.8 475.4h0M205.9 467.2h0M219 454.3h0M200.7 461.1h0M300.4 492.7h0M222 498h0M287.5 491.9h0M229.5 470.8h0M258.3 508.6h0M261.9 485.8h0M233.5 450.5h0M238.6 498.7h0M258.3 478h0M241.6 524.6h0M253.9 468.8h0M259.3 448.4h0M220.8 464.1h0M256.7 446.9h0M301.6 484.1h0M239.3 427.8h0M263.6 457.4h0M210.6 461.3h0M272.8 487.8h0M266.4 460.3h0M304.5 494.5h0M268.3 495.7h0M252 432.6h0M281.1 493h0M220.8 459.3h0M251.4 470.9h0M252.7 472.3h0M259.5 484.5h0M277.2 471.1h0M251.6 468.5h0M235 429.8h0M256.1 497.6h0M241.3 495.1h0M238 489.6h0M247.7 435.1h0M252.9 452.1h0M266.3 448.7h0M261.7 432.6h0M228.3 500h0M249.2 543.1h0M241.9 479.8h0M257.5 496.1h0M246.7 458.3h0M292.9 497.8h0M225.1 468.5h0M232.4 503.5h0M256.7 525h0M290.3 503.8h0M222 456.6h0M258.9 493.3h0M225.5 431.2h0M302 484.7h0M314.1 480.3h0M257 504.2h0M229.2 500.4h0M206.9 461.6h0M220.3 460.8h0M243.4 507.5h0M235.1 500.2h0M201.5 458.4h0M255.6 483.1h0M256.1 448.4h0M247.7 446.6h0M257.3 502.8h0M320.7 483.1h0M274.9 502.4h0M238 468.2h0M241.2 486h0M210.4 452.4h0M214.8 455.4h0M256.3 533.5h0M215.4 453.5h0M216.4 458.6h0M247.4 431.7h0M221.4 440.5h0M257.6 465.1h0M283.2 434.4h0M270.3 463.7h0M235.8 538.2h0M256.4 456.3h0M236.3 495.6h0M230.9 506.2h0M256.5 450.9h0M252.1 462.2h0M284.5 495.4h0M243.3 531.4h0M308.7 476.6h0M226.6 433h0M235.5 502.3h0M205.9 466.6h0M245.8 487.6h0M221.4 445h0M230.2 431.6h0M240.3 532.1h0M227.5 491.4h0M274.4 476.3h0M241.1 523.9h0M310.3 480.4h0M241.3 543.8h0M284 471.9h0M245.8 457.3h0M208.4 455.6h0M233.7 452.5h0M273 494.8h0M278.5 488.4h0M224 451.1h0M267.1 536.7h0M241.1 502.9h0M205.7 464h0M242.6 461.6h0M212 467.9h0M250 453.3h0M241.5 471.7h0M247.1 522.3h0M238.9 537.5h0M301.1 470.9h0M312 475.2h0M245.2 452.5h0M285.2 475.1h0M293.9 490.5h0M302.6 480.5h0M312.7 472.2h0M217.8 468.4h0M269.9 532.1h0M240.3 453h0M240.6 463.2h0M200.4 460.1h0M257.5 441.4h0M255.6 454.9h0M272.3 488.3h0M220.4 462h0M235.3 511.8h0M282.7 486.6h0M241.8 460.5h0M281.7 515.2h0M238.8 475.9h0M222.5 442.4h0M247.5 481.4h0M267.3 529.2h0M280.5 489.1h0M219.2 476.6h0M265.6 484.7h0M300.5 495.2h0M257.3 465.2h0M247.6 482h0M272.5 491.2h0M239.7 453.4h0M255.6 491.8h0M263.5 468.6h0M241.1 455h0M240.2 526.8h0M243.2 457h0M262.1 502.3h0M251.5 526.4h0M245.9 512.9h0M241.5 535.1h0M260 495.3h0M275.7 491.5h0M211.3 456.3h0M252.2 532.3h0M267.2 479.7h0M232.8 458.5h0M279.7 505.4h0M254.7 483h0M284.9 474.4h0M259.3 434.6h0M262.7 472.9h0M279 467.4h0M268.9 505.4h0M253.2 531.7h0M293.4 470.5h0M251.8 475.2h0M288.1 477.6h0M312 469.9h0M275.8 504.5h0M247.3 474.4h0M240.3 509.1h0M267.1 486.8h0M258.1 489.7h0M289 499h0M263.4 428.5h0M303.4 482.6h0M269.4 532.1h0M309.5 493h0M229 436.2h0M201.6 456.7h0M245.3 546.5h0M258.2 463.6h0M199.8 463.6h0M247.7 485.1h0M248.3 455.9h0M249.2 432.2h0M255 500.4h0M292.8 508.9h0M217 457.5h0M220.1 444.7h0M247.8 476.3h0M250.9 420.1h0M225.1 466h0M259.3 435.7h0M244.2 477.5h0M211.5 462.7h0M202.6 453.4h0M234.3 458.3h0M248.2 466.1h0M260 431.9h0M292.2 513.9h0M242 476.4h0M269.4 474.2h0M253.1 477.8h0M295.2 473h0M223 468.1h0M259.8 529.8h0M246.3 429.3h0M280 512.7h0M240.8 440.2h0M255.9 439.9h0M240.2 508.6h0M270.2 497.1h0M249.3 485.7h0M252.2 484.5h0M239.1 489h0M241.1 437.7h0M215.1 459.6h0M247.2 512.4h0M216.7 465.5h0M274.8 465.8h0M262 444.8h0M233.8 433.6h0M270.4 501.2h0M235.5 430.7h0M216.1 459.6h0M271 447.5h0M275.7 504.8h0M243.5 455.7h0M307.1 494.4h0M254.9 510.4h0M302.4 476.1h0M266.4 486.8h0M306.3 481.6h0M267.3 471.1h0M279.3 469.1h0M268.9 488.9h0M264.5 499.3h0M251.3 486h0M245.4 434.9h0M262.7 483.6h0M317 487.3h0M231.1 498.7h0M229.8 496h0M241 534.1h0M209.7 454.9h0M300.3 476.4h0M224.9 489.2h0M270.8 468.5h0M260.2 493.5h0M250.8 494.9h0M275.4 478.3h0M251 477.2h0M227.2 492.6h0M261.5 527.9h0M254 485.4h0M247.9 463.2h0M284.5 469.1h0M238.4 501.4h0M288.3 512h0M238.5 448.7h0M254.7 488.5h0M268.5 458.7h0M213.2 462.7h0M220.5 475.5h0M272.7 460.8h0M276.7 489.5h0M244.4 499.3h0M250 506.7h0M314.3 477h0M240.3 457.6h0M208.8 456.4h0M255 539.5h0M235.5 450.8h0M253.7 447.8h0M251.6 458.2h0M285.7 515.3h0M226.5 503.4h0M245 470.3h0M242.4 511.7h0M249.5 433.7h0M253 505h0M256.6 544.4h0M263.4 472.8h0M320.2 481h0M243 487.8h0M258.4 479.5h0M277.6 488.2h0M262.7 454.5h0M259 513.5h0M244.4 498.9h0M256.5 482h0M270.3 481.8h0M236.2 454.8h0M267.4 488.5h0M301.2 470.2h0M252.3 471.7h0M283.8 504.4h0M198.6 465.7h0M219.3 468.9h0M243.7 524.6h0M303.6 472.2h0M258.7 525.5h0M270.9 471.4h0M222.2 443.1h0M243.6 511.8h0M310.6 483.5h0M239.3 520.6h0M229 508.2h0M272.1 474.5h0M264.9 519.1h0M234.7 468h0M212 456.3h0M251.8 431.7h0M241.9 487.1h0M272.9 460.6h0M275.1 483.5h0M237.7 488.6h0M235.3 506.7h0M228.8 449.7h0M257.8 491.4h0M249.6 531.8h0M246.8 489.3h0M232.7 483.8h0M246.2 447.3h0M280.4 463.6h0M277.7 432.2h0M257.2 514h0M309.3 471.2h0M234.8 454.3h0M285.3 483.3h0M243.7 533.4h0M245.1 437.1h0M249.1 428.2h0M256.7 479.9h0M270.4 507.9h0M250.2 523.8h0M290.2 512.4h0M210.7 465.6h0M198.2 464.1h0M248.3 511.4h0M294.6 510.5h0M256.5 498h0M293.9 478.6h0M257.5 421.7h0M235.6 426.1h0M272.4 503.8h0M245.3 450h0M235.1 455.6h0M247.4 489.3h0M297.5 506h0M242.8 484.1h0M300.8 490.4h0M238.7 431.7h0M304.1 477h0M259.5 506.6h0M223.5 444.1h0M252.4 505h0M248 465h0M251.6 531.1h0M250 428.7h0M242 453.6h0M234 500.1h0M236.1 434.3h0M244.3 532.3h0M258.3 480.9h0M261.8 510.2h0M237.2 540.7h0M220.4 463.7h0M238.6 528.7h0M263.4 451.8h0M221.4 437.1h0M258.7 424.5h0M232.6 485h0M277.3 476.4h0M256.2 531.9h0M203.8 455.8h0M232.9 467.5h0M251.9 433.6h0M259.2 486.9h0M232.2 487.4h0M214.4 452.6h0M225 432.9h0M237.7 481.3h0M263.2 510.9h0M284 516.4h0M219.9 461.8h0M287.3 505.3h0M215.2 466.5h0M230.3 506.3h0M258.7 467.5h0M239.8 502.9h0M283.9 501.8h0M244.9 526h0M206.4 465.4h0M282.3 498.1h0M244.6 495.5h0M249.7 477.1h0M292.3 495.7h0M236.2 459.4h0M247.7 454.2h0M304.1 487.2h0M223.2 490.5h0M250 498h0M229.4 449.6h0M266.8 500.8h0M273.7 468.5h0M213.7 460.1h0M272.4 479.2h0M246.1 524.7h0M273.6 469.6h0M270.3 494.9h0M240.1 447.3h0M254.4 457.9h0M255.5 455.4h0M215.1 455.7h0M281.3 429h0M286.7 468.7h0M255.9 446.2h0M239.5 534.9h0M249.6 514.3h0M228 465.5h0M248.4 489h0M257.7 444.1h0M279.1 506.7h0M267.2 470h0M269.7 443.9h0M260.7 467.3h0M246.9 430.2h0M262.2 486.4h0M245.5 482.4h0M242 507.5h0M240.9 461.9h0M282.5 497.2h0M239.9 447.2h0M261.2 432.1h0M245.3 455.7h0M246.9 545h0M252.2 496.6h0M272.8 478.3h0M293.1 498.2h0M265.3 455.6h0M259.2 454.8h0M227.1 502.4h0M300.1 497h0M282.2 491.8h0M275.5 507.9h0M276.5 500.2h0M313.9 488.5h0M212.9 461h0M221.8 446.4h0M272 440.9h0M251.8 448.5h0M292 477h0M258.9 458.4h0M213.2 453.9h0M264.4 469.4h0M226.5 458.4h0M267.7 488.9h0M298 495.8h0M310.6 470.2h0M262.1 499.9h0M245.1 487.7h0M216.9 474.9h0M247.4 511.2h0M259.7 474.7h0M244.8 487.7h0M291.4 496.6h0M279.3 492.1h0M289.1 491.3h0M252.2 530h0M234.1 431.2h0M197.1 455.1h0M287.1 491.2h0M237 442.8h0M259.3 475h0M262.9 434.1h0M254.6 493.4h0M248.7 459.3h0M206.1 460.4h0M236.9 526.1h0M280.3 464.9h0M288.9 504.7h0M287.4 502.3h0M268.6 468.5h0M258.4 445.2h0M258 466.3h0M255.1 439.7h0M220.1 465.5h0M278.5 466.8h0M261.9 487.5h0M242.2 504.5h0M272.1 501.9h0M284.7 487.8h0M304.2 467h0M249.4 431.3h0M257.2 543.1h0M242.2 474.7h0M287.2 509.5h0M249 510.2h0M245 528.2h0M253 493.8h0M234.8 476.4h0M234.6 480.8h0M240.3 451.4h0M243.5 426.7h0M246.1 488.7h0M249.2 460.9h0M269.5 489.7h0M258.7 536.6h0M228.5 466.7h0M284 473.4h0M263.8 440.7h0M234.2 510.4h0M297.5 486.5h0M251.9 464.8h0M274.6 508h0M208.2 468.1h0M260.8 473.7h0M231.3 500.2h0M259.1 449.8h0M268.6 449h0M261.6 490.8h0M244 479.6h0M226.3 493.5h0M260.2 457h0M251.2 419.8h0M220.5 462.1h0M292.2 480.7h0M260.4 441.8h0M314.3 472.8h0M278.5 492h0M262.2 482.2h0M219.5 477.9h0M244.5 532.1h0M258.5 506.6h0M256.9 501.6h0M245.2 431.9h0M249.7 461.1h0M242.5 432.2h0M243.2 511.9h0M264.8 536.5h0M271 479.2h0M263 541.4h0M266.3 448.6h0M214.2 456.9h0M245.9 485.4h0M262.4 485.4h0M233.5 459.2h0M240.8 432.8h0M255.3 453.8h0M289.9 513.1h0M314 480h0M280 434.3h0M274.1 474.7h0M220.7 477.5h0M246.1 458.4h0M268 492.5h0M273.8 486.6h0M198.5 467.8h0M268.7 498.6h0M263.2 500.6h0M234.6 504.1h0M256.8 442.8h0M236.3 462.3h0M261.2 437.1h0M266.3 433.3h0M232.3 451.5h0M297.9 473.4h0M232 498.1h0M229.4 460.1h0M302.9 495.1h0M297.4 471.9h0M251.5 530.5h0M211.8 462.7h0M229.7 452.2h0M318.9 477.3h0M234 468.7h0M237.4 480.6h0M241.9 453h0M241 508.2h0M259.9 521.2h0M263.2 446.2h0M218.6 477.4h0M278.4 502.7h0M283.4 428.6h0M219.3 456.9h0M280 498.2h0M229.8 446.9h0M248 528.5h0M308.3 485.3h0M258.3 463.4h0M236 504h0M237.9 510.7h0M248.3 525.1h0M241.7 514.1h0M232.2 509.2h0M282.4 507h0M218.3 477.2h0M235.3 541h0M310.8 490.1h0M234.9 459.6h0M251 486.3h0M250.4 432.2h0M243.1 472.7h0M274 489.9h0M256.8 505.5h0M264.9 438.7h0M277.9 492.7h0M252.1 512.1h0M221.9 463h0M226.6 506.3h0M226.3 429.8h0M234.8 454.6h0M246.9 523.5h0M287.1 514.8h0M301.8 472h0M214.1 464.5h0M246.3 457.2h0M252.9 495h0M259.8 520.7h0M232.3 455.8h0M241.8 486.6h0M204.4 452.2h0M301.5 473.8h0M211 464.8h0M220.3 459.9h0M230.1 465.7h0M252.8 497.1h0M210.5 453.8h0M317.8 475.5h0M232.3 505.8h0M247.9 432.1h0M271.9 482h0M226.9 495.8h0M240.4 427.5h0M248.7 483.5h0M297 468h0M260.7 456.8h0M239.3 490.1h0M245.2 521.6h0M259.9 446.5h0M265.9 521.6h0M279.1 470.9h0M251.4 529.3h0M304.7 486.2h0M232.9 497.6h0M223.4 462.6h0M238.1 529.9h0M256.3 447h0M246 510.9h0M281.7 433.5h0M302.7 488.8h0M230.1 475.7h0M227.9 497.9h0M285.1 497.6h0M257 442.8h0M269.6 449.7h0M264 481.1h0M245.1 429.2h0M261.8 428.8h0M260.7 521.8h0M260.6 441.9h0M218.8 457h0M233.8 485.7h0M317.6 474.3h0M269.7 488.8h0M243.3 484.6h0M210.6 464.8h0M285.4 512h0M224.8 496.5h0M247.5 479.4h0M228.2 446.8h0M267.9 542.2h0M266.8 527.8h0M239.2 485.2h0M277.6 482.7h0M263.8 433.7h0M231.9 458.6h0M250.5 454.2h0M250.3 509.8h0M254.3 421h0M255.9 493.5h0M211.6 462.2h0M252.2 463.2h0M230 451.7h0M270.5 540.8h0M257.5 461.3h0M262.6 454.9h0M251 530.3h0M311.9 479.1h0M304.9 467.1h0M286.6 469.5h0M231.3 470.1h0M271.9 465.6h0M241.8 446.7h0M264.3 498.7h0M243.4 481.3h0M250.8 496.2h0M245.7 455.7h0M223.7 461.1h0M276.3 479.5h0M274.9 460.1h0M258.9 499h0M269.1 451.7h0M268 528.8h0M244.9 488.6h0M238.5 454h0M234.7 512.1h0M291.6 470.4h0M231.3 440.2h0M313.9 482.1h0M262.1 463.7h0M250.9 456.2h0M263 426.7h0M237.9 475.6h0M258.4 436.8h0M230.5 498.5h0M205.7 469.9h0M262.1 475.9h0M251.7 482h0M272.4 465.8h0M313.4 473.7h0M248.9 489.6h0M244.1 520.1h0M243.6 456.4h0M246.5 537.7h0M226.5 464h0M240.7 450h0M234.7 511.8h0" stroke="#f0f0f0"/></g>
<g stroke-width="1.7" stroke-linecap="round" opacity="1.0"><path d="M238.1 450.8h0M274 493.4h0M284.6 477.1h0M254.7 491.1h0M289.7 469.6h0M231 469.7h0M237.8 502.8h0M223.8 463.8h0M226.2 504.4h0M261.5 543.8h0M266.6 459h0M293.5 503.8h0M243.3 483.2h0M267.3 490.5h0M221.1 472.3h0M236.4 501.7h0M214.6 461.3h0M252.1 541.6h0M239.7 536.7h0M248.7 448.6h0M243.5 496.8h0M246.5 439.6h0M231.5 466.6h0M233.7 491.1h0M245 486.9h0M301.2 468.9h0M301.1 482.8h0M317.5 476.3h0M226.5 435.7h0M232.7 526.5h0M254.7 454.9h0M287.3 488.4h0M253.1 538.7h0M270.4 479.9h0M251 452h0M251.3 439.6h0M262.8 506.1h0M254.9 542.3h0M301.4 493.1h0M254.7 510.6h0" stroke="#f0c0a8"/>
<path d="M273.2 472.5h0M257 536.9h0M247.1 487.8h0M255.9 462.2h0M261.3 452.5h0M239.5 536.9h0M271.1 508.5h0M233.1 470.6h0M251.3 530.4h0M226.2 502.4h0M288.4 509.5h0M241.8 533.8h0M223.5 444.6h0M265.9 477.4h0M244.3 480.8h0M270.2 475.3h0M245.7 482.1h0M264.5 526.7h0M259.9 457.1h0M241 482.5h0M268 507h0M225.4 479.5h0M238.3 506.8h0M281.5 509.7h0M257 527h0M254.3 511.2h0M262.7 525.4h0M274.5 511.5h0M257.6 435.2h0M230.6 452.5h0M222.9 438.3h0M247.4 470.9h0M226.4 496h0M272.2 462.9h0M247.8 459.3h0M252.7 540.8h0M262.4 459.4h0M220 440.9h0M248.3 435.9h0M231 436.5h0M265.4 496.6h0M238.4 488.6h0M245.9 481.9h0M254.6 493.2h0M256.5 536.2h0M261.4 462.2h0M282.5 507.5h0M276.4 508.4h0M248.8 494.8h0M210.6 469.8h0M255.4 541.2h0M280.6 494.5h0M250.4 453h0M223.9 443.8h0M246.4 490.4h0M262.8 463.7h0M262.7 533.2h0M249.5 448.4h0M240.6 471.9h0M231.4 502.2h0M275.3 498.2h0M262.1 539.3h0M260.1 540.5h0M267.6 466.8h0M253.7 531.3h0M262.6 471.5h0M231.6 459.2h0M238.3 435.1h0M258.7 445h0M252.3 545.5h0M265.3 531.6h0M233.4 446h0M245.2 536.7h0M290.3 512.7h0M256.9 440.7h0M228.9 453.2h0M257.7 449.8h0M267 436.3h0M251.9 500.6h0M251.2 459.3h0M267.3 531h0M263.5 443.4h0" stroke="#f07860"/>
<path d="M250.4 521.6h0M260.1 521.4h0M252.5 524.6h0M268.2 534.4h0M236 525h0M245 541.4h0M259.9 528.3h0M263 527.2h0" stroke="#f04830"/>
<path d="M225.5 434.5h0M245.4 466.8h0M232.4 469.4h0M279.7 428h0M270.9 444.7h0M275.4 463.8h0M239.9 437.3h0M232 468.5h0M298.7 475h0M228 430.6h0M208.8 455h0M264.9 534.6h0M278.7 481.4h0M258.3 486.3h0M274.6 504.8h0M247.8 535.4h0M234.4 492.3h0M266.6 451.9h0M215.4 471.5h0M265.6 507.1h0M204.9 468.2h0M247.2 532.3h0M258.2 502.2h0M278.2 476.9h0M213.2 450.1h0M254.9 434.1h0M243.6 450.2h0M277.3 472.3h0M318.2 481.3h0M242.5 481.4h0M243.7 508.4h0M240.2 478.7h0M275 472h0M255 513h0M227.5 432.9h0M285.2 512h0M235.7 498.7h0M231.6 490.5h0M248.2 451.7h0M240 508.6h0M236.8 526.1h0M242.3 528.6h0M258.7 439.8h0M240 506.1h0M239.5 540.2h0M234.8 493.4h0M255.1 499.8h0M231.8 463.8h0M292 473.7h0M227.4 466h0M283.7 514.4h0M229.5 436.7h0M220.9 439.8h0M266.6 447.2h0M222.4 472h0M244.1 441.7h0M270.5 496.9h0M267.6 487.1h0M238.4 466.8h0M246.2 492.2h0M218.4 440.8h0M261.5 497.9h0M226.5 502h0M232.3 471.2h0M211.6 459.4h0M265.2 538h0M225.1 474.8h0M260.3 496.2h0M227.8 492.4h0M228.7 472.5h0M318.2 487.3h0M213.8 465.6h0M203.3 468.2h0M257.4 487.1h0M237.6 467.5h0M280.3 502.5h0M255.6 502.8h0M242.4 539.4h0M222.5 437.4h0M297.7 476.7h0" stroke="#f0a890"/>
<path d="M234.9 492.2h0M225.8 470.2h0M256.8 535h0M309.3 490.5h0M240.1 493.2h0M241.1 522.5h0M264.9 470.6h0M242.5 494.9h0M262.6 482.3h0M274.7 469.3h0M242.1 493.7h0M207.1 468.8h0M255.1 537.8h0M247.6 454.3h0M236.2 454.5h0M264.2 535.2h0M226.6 470.8h0M268.5 486.7h0M279.2 488.6h0M305.7 478.6h0M292.1 515.3h0M246 542h0M271 439.6h0M201.9 459.3h0M264.4 524.6h0M243.7 442h0M265.1 535.8h0M289.9 475.9h0M275.4 493.3h0M307.4 494.8h0M296.7 492h0M234.6 539.8h0M239.1 449.6h0M270.4 540.5h0M230.5 475.8h0M295.9 472.5h0M246.8 507.7h0M249.3 518.9h0M274.1 499.2h0M254.9 440.9h0M254.6 482h0M235.8 476.1h0M272.7 459.7h0M243.9 428h0M236.1 474.6h0M232.2 438.7h0M237.8 528.5h0M233.7 532.6h0M239.2 491.9h0M304.5 484.1h0M246.4 443.4h0M225.8 472.3h0M203.4 470.5h0M252.2 475h0M273.1 482.2h0M272 483.6h0M240.1 457h0M233.5 497.5h0M272.9 478.1h0M246.9 498.1h0M232.5 444.9h0M272.6 478.9h0M265 534h0M261 545.1h0M220.3 457h0M207.1 457.2h0M230.3 499.4h0M275.4 500.5h0M227.2 436.9h0M256.6 496.6h0M223.7 502.3h0M272.9 481.3h0M254.2 524.7h0M302.8 481.6h0M259.9 478.3h0M258.7 535.9h0M250.1 488.4h0M261.9 492.3h0M297.3 471.9h0M235.8 495.1h0M254.1 466.4h0M220.2 499.4h0M221 439.1h0M257.4 437.9h0M223.4 497.8h0M258.2 483.9h0M210.8 468.1h0M256.8 468.9h0M277.5 484.9h0M212.5 452.7h0M244.2 489.6h0M314.1 475.8h0M250 539.1h0M276.7 425.4h0M305.3 481.7h0M223.8 437.1h0M279.3 498.4h0M279.6 513.3h0M237 511.2h0M204.2 463.2h0M264.1 480.4h0M246.2 539.4h0M247.4 440.7h0M233.7 486.2h0" stroke="#f09078"/>
<path d="M198.2 461.3h0M281.4 509.3h0M234.5 495.7h0M282.7 514.7h0M234.6 446h0M246.5 487.2h0M253.7 537.4h0M273.6 472h0M250.4 486.9h0M224.5 464.9h0M245.5 493.5h0M210.9 464.5h0M262.2 508.9h0M235.2 532.7h0M245.9 492.1h0M256 469h0M245.2 497.7h0M301.9 482h0M307.5 487.8h0M272.2 438.6h0M210.5 466.9h0M280.4 488.8h0M305.9 475.7h0M248.2 457.6h0M300.3 487.4h0M256.9 449.4h0M254.3 449.2h0" stroke="#f07878"/>
<path d="M287 476.1h0M307.8 497.1h0M247.4 442.4h0M281.1 479.4h0M200.8 459.7h0M242.2 529.8h0M242.9 456.1h0M245.6 442.7h0M236.6 500.7h0M221.3 436.6h0M204.7 470.4h0M258.6 504h0M237.8 507.1h0M235.2 470.4h0M224.6 480.4h0M244.7 523.9h0M288 501.3h0M244 431.9h0M221.3 474.7h0M287.3 482.2h0M243.1 443.5h0M280.8 501.8h0M315.3 489.6h0M238.5 453.7h0M256.7 539.8h0M227 451.6h0M266.3 502.8h0M264.5 534.9h0M240.7 536.7h0M220.2 462.3h0M228.5 498h0M239.3 529.6h0M238 527.1h0M260.4 526.3h0M255 528h0M234.8 506.2h0M289.6 493.4h0M256.8 542.8h0M236.6 452.8h0M265.7 442h0M276.4 494.1h0M228.7 457.3h0M249.4 503.4h0M222.5 481.6h0M265 508.4h0M258.6 468.6h0M294.3 493.9h0M260.4 489.4h0M260.1 537.3h0M258.4 486h0M218.7 468.4h0M226.4 469.9h0M268.7 480.9h0M234.9 467.5h0M259.2 507h0M264.6 509.3h0M295.3 486.3h0M210.4 455.5h0M284.5 491.1h0M303.8 476.8h0M281.8 488.9h0M226.9 452.7h0M257.1 532.3h0M257.8 470.5h0M259.6 533.3h0M300.2 475.2h0" stroke="#f0a8a8"/>
<path d="M256.6 527.5h0M257.4 430.9h0M238.6 451.8h0M216.2 452.1h0M250 494.6h0M259 455.9h0M284.3 501.2h0M214.7 471.1h0M216.2 457.6h0M265.1 484.3h0M259.3 482.3h0M265.8 480.5h0M261.9 435.4h0M266.2 500.5h0M263.2 452h0M217 474.1h0M248.5 439.8h0M223.2 441.6h0M262.6 526.6h0M257.1 464.6h0M277.7 441.4h0M314.6 479.5h0M249.5 459.8h0M268.7 440.4h0M215.1 462.3h0M232.8 444.6h0M222.6 477.3h0M238.8 445h0M268.4 450.2h0M293 469h0M249.9 484.5h0M249.4 492.2h0M288.9 471h0M260.1 480.1h0" stroke="#f09090"/>
<path d="M239.2 502.7h0M247.6 522.8h0M246.7 522.5h0M251.5 506.8h0M246.1 529.7h0M233.9 537.4h0M251.4 538.8h0M252.9 542h0M288.9 503.1h0M256.9 481.4h0M259.8 542.1h0M235.2 489.9h0M256.6 506.3h0M246.9 545h0" stroke="#f06060"/>
<path d="M253.4 535.7h0M245.5 533.5h0M253.1 524.9h0M242.7 543.8h0" stroke="#f04848"/>
<path d="M241 533.1h0M241.4 524.7h0M256.2 523.9h0M250.4 531.6h0M249 533h0M237.5 531.4h0M237.7 543h0M246.7 522.5h0M257.9 533.7h0M243.2 535.5h0M235.6 535.1h0M242.1 530.7h0M256.4 536.8h0M261.8 527.1h0M239.4 539.3h0M253.1 537.4h0M264.7 525.8h0M231.2 535.2h0M232.4 533.3h0" stroke="#d84830"/>
<path d="M262.5 527.7h0M262 539.6h0M258.6 526.4h0M262.8 534.9h0M252.7 530.9h0M244.4 543.2h0M234.4 534.8h0M254.8 536.4h0M246 522.9h0M261.4 531.3h0M251.7 530.7h0M260.9 525.1h0M253.3 535.1h0M263.1 499.3h0M253.1 535.9h0M261.9 498.2h0" stroke="#f06048"/></g>
<rect x="193.5" y="406.5" width="134" height="147" fill="none" stroke="#3c3c3c" stroke-width="1.1"/>
<rect x="311.4" y="412" width="4" height="30" fill="url(#gR)"/>
<text x="318" y="423" font-size="5.6" fill="#333">2</text>
<text x="318" y="433.2" font-size="5.6" fill="#333">1</text>
<text x="318" y="443.6" font-size="5.6" fill="#333">0</text>
<text x="443.8" y="410" font-size="8.4" text-anchor="middle" fill="#222"><tspan font-style="italic">p57</tspan>-expressing cells</text>
<rect x="383.8" y="415.9" width="30.2" height="97.7" fill="#979797"/>
<rect x="383.8" y="513.6" width="30.2" height="33.4" fill="#f27b7b"/>
<line x1="383.8" y1="513.6" x2="414" y2="513.6" stroke="#fff" stroke-width="0.8"/>
<rect x="415" y="415.9" width="24.2" height="109.1" fill="#979797"/>
<rect x="415" y="525" width="24.2" height="22" fill="#f27b7b"/>
<line x1="415" y1="525" x2="439.2" y2="525" stroke="#fff" stroke-width="0.8"/>
<rect x="440.2" y="415.9" width="20" height="96.4" fill="#979797"/>
<rect x="440.2" y="512.3" width="20" height="34.7" fill="#f27b7b"/>
<line x1="440.2" y1="512.3" x2="460.2" y2="512.3" stroke="#fff" stroke-width="0.8"/>
<rect x="461.2" y="415.9" width="14.7" height="108.4" fill="#979797"/>
<rect x="461.2" y="524.3" width="14.7" height="22.7" fill="#f27b7b"/>
<line x1="461.2" y1="524.3" x2="475.9" y2="524.3" stroke="#fff" stroke-width="0.8"/>
<rect x="476.9" y="415.9" width="14.2" height="36.7" fill="#979797"/>
<rect x="476.9" y="452.6" width="14.2" height="94.4" fill="#e5222b"/>
<line x1="476.9" y1="452.6" x2="491.1" y2="452.6" stroke="#fff" stroke-width="0.8"/>
<rect x="492" y="415.9" width="1.2" height="87.8" fill="#979797"/>
<rect x="492" y="503.7" width="1.2" height="43.3" fill="#f27b7b"/>
<line x1="492" y1="503.7" x2="493.2" y2="503.7" stroke="#fff" stroke-width="0.8"/>
<rect x="493.8" y="415.9" width="1" height="87.8" fill="#979797"/>
<rect x="493.8" y="503.7" width="1" height="43.3" fill="#f27b7b"/>
<line x1="493.8" y1="503.7" x2="494.8" y2="503.7" stroke="#fff" stroke-width="0.8"/>
<rect x="500.6" y="415.9" width="8.1" height="93.7" fill="#979797"/>
<rect x="500.6" y="509.6" width="8.1" height="37.4" fill="#f27b7b"/>
<line x1="383.8" y1="509.6" x2="500.6" y2="509.6" stroke="#333" stroke-width="0.7"/>
<line x1="383.3" y1="415.5" x2="383.3" y2="547.5" stroke="#666" stroke-width="0.5"/>
<line x1="381.5" y1="547" x2="383.5" y2="547" stroke="#333" stroke-width="0.6"/>
<text x="380" y="549.1" font-size="6.0" text-anchor="end" fill="#333">0</text>
<line x1="381.5" y1="514.2" x2="383.5" y2="514.2" stroke="#333" stroke-width="0.6"/>
<text x="380" y="516.3" font-size="6.0" text-anchor="end" fill="#333">25</text>
<line x1="381.5" y1="481.4" x2="383.5" y2="481.4" stroke="#333" stroke-width="0.6"/>
<text x="380" y="483.6" font-size="6.0" text-anchor="end" fill="#333">50</text>
<line x1="381.5" y1="448.7" x2="383.5" y2="448.7" stroke="#333" stroke-width="0.6"/>
<text x="380" y="450.8" font-size="6.0" text-anchor="end" fill="#333">75</text>
<line x1="381.5" y1="415.9" x2="383.5" y2="415.9" stroke="#333" stroke-width="0.6"/>
<text x="380" y="418" font-size="6.0" text-anchor="end" fill="#333">100</text>
<text x="398.9" y="552.6" font-size="6.0" text-anchor="middle" fill="#333">0</text>
<text x="427" y="552.6" font-size="6.0" text-anchor="middle" fill="#333">1</text>
<text x="450.2" y="552.6" font-size="6.0" text-anchor="middle" fill="#333">2</text>
<text x="468.6" y="552.6" font-size="6.0" text-anchor="middle" fill="#333">3</text>
<text x="484" y="552.6" font-size="6.0" text-anchor="middle" fill="#333">4</text>
<text x="493.5" y="552.6" font-size="6.0" text-anchor="middle" fill="#333">56</text>
<text x="504.6" y="552.6" font-size="6.0" text-anchor="middle" fill="#333">All</text>
<text x="443.8" y="561" font-size="6.8" text-anchor="middle" fill="#333">Cluster</text>
<text transform="translate(366.6,484.4) rotate(-90)" font-size="7.0" text-anchor="middle" fill="#333">Fraction of cells expressing <tspan font-style="italic">p57</tspan> mRNA (%)</text>
<text transform="translate(507.4,464.3) rotate(-90)" font-size="7.4" text-anchor="middle" fill="#333">Negative</text>
<text transform="translate(507.4,529) rotate(-90)" font-size="7.2" text-anchor="middle" fill="#333">Positive</text>
<defs><filter id="blr" x="-20%" y="-20%" width="140%" height="140%"><feGaussianBlur stdDeviation="1.8"/></filter><filter id="blr1" x="-20%" y="-20%" width="140%" height="140%"><feGaussianBlur stdDeviation="0.8"/></filter><filter id="blr2"><feGaussianBlur stdDeviation="0.5"/></filter><filter id="nz" x="0" y="0" width="100%" height="100%"><feTurbulence type="fractalNoise" baseFrequency="0.22" numOctaves="2" seed="5"/><feColorMatrix type="matrix" values="0 0 0 0 0  0 0 0 0 0  0 0 0 0 0  0 0 0 4 -1.7"/></filter></defs><clipPath id="cjm"><rect x="24.8" y="574.8" width="116.3" height="117.2"/></clipPath>
<g clip-path="url(#cjm)">
<rect x="24.8" y="574.8" width="116.3" height="117.2" fill="#020206"/>
<g filter="url(#blr)" fill="none" stroke-linecap="round" stroke-linejoin="round">
<path d="M27 574 L28 630 L28 692" stroke="#2020a0" stroke-width="7" opacity="0.5"/>
<path d="M30 640 L36 660 L36 675" stroke="#3030b0" stroke-width="14" opacity="0.55"/>
<path d="M32 620 L40 635 L46 648" stroke="#3a30b0" stroke-width="14" opacity="0.55"/>
<path d="M48 600 L52 640 L56 692" stroke="#4030b8" stroke-width="11" opacity="0.6"/>
<path d="M62 574 L66 620 L68 660 L68 692" stroke="#4a30b8" stroke-width="7" opacity="0.6"/>
<path d="M71 583 L75 610 L77 634 L77 692" stroke="#6a2a98" stroke-width="14" opacity="0.65"/>
<path d="M72 583 L76 610 L79 634 L82 692" stroke="#c02050" stroke-width="6" opacity="0.55"/>
<path d="M70 640 L77 692" stroke="#5030a0" stroke-width="20" opacity="0.5"/>
<path d="M80 574 L86 610 L88 640" stroke="#4a30b8" stroke-width="8" opacity="0.6"/>
<path d="M90 574 L95 605" stroke="#5a2aa0" stroke-width="6" opacity="0.6"/>
<path d="M101 574 L106 612" stroke="#4030b0" stroke-width="6" opacity="0.6"/>
<path d="M102 620 L106 655 L109 692" stroke="#7a2a90" stroke-width="15" opacity="0.65"/>
<path d="M103 622 L106 655 L108 692" stroke="#c82048" stroke-width="8" opacity="0.6"/>
<path d="M116 600 L120 630 L124 660" stroke="#3a30c0" stroke-width="9" opacity="0.6"/>
<path d="M119 574 L128 600 L132 612" stroke="#3a30c0" stroke-width="12" opacity="0.6"/>
<path d="M134 574 L138 612" stroke="#6030b0" stroke-width="8" opacity="0.6"/>
<path d="M131 603 L137 612" stroke="#c02060" stroke-width="5" opacity="0.7"/>
</g>
<g stroke-linecap="round" stroke-width="1.6" opacity="0.8">
<path d="M28 626.6l-0.9 1.6M27.1 633.1l0.7 1.7M25.8 647.6l0.8 1.4M25.4 584.1l-0.3 1.3M25.3 689l-0.4 1.9M30.4 591.8l0 1.4M28.5 595.7l1 1.5M25.8 625l0 1.9M26.9 632.2l0.1 1.6M25.3 690.8l-0.8 1.8M29.2 610.5l0.4 1.3M29 663.6l-0.7 1.5M25.4 686.4l0.9 1.3M28.7 680.7l-0.9 1.4M26.6 581.9l-0.5 1.5M28.8 583.4l-1.1 1.7M28.5 587.3l0.7 1.2M30.1 667.2l-0.1 1.8M25.5 595.7l0.9 1.7M27.5 587l0.6 1.5M25.8 687.5l0.5 2.1M28.5 598l-0.8 1.8M23.8 585.2l0.6 1.5M28.9 664.5l0.3 1.4M26.4 583.7l0.6 1.8M28.5 617.1l-0.9 1.5M25.4 641.1l0.6 1.4M25.8 680.5l0.5 1.4M24.8 660.2l0.8 2.1M27.3 677.4l0.1 1.4M23.8 577.7l0.7 1.9M25.6 603.6l-0.2 1.6M25.6 594.1l0.8 1.3M25.9 639.2l-0.2 1.6M29.4 681.6l0.9 1.3M30.4 625.8l0.7 1.5M30.1 640.4l0.4 2.1M27.2 688.8l-0.4 1.8M29.6 589.6l1.3 1.8M24.6 655.9l1.1 1.6M26.3 629.8l0.5 2.2M27.2 581.8l-0.6 2.1M27.1 659.9l-0.8 2.1M27.1 614.6l-1 1.9M26.4 622.4l-0.8 1.7M28.8 646.8l-0.2 1.9M26.9 582.6l-1.2 1.8M29 659l-0.5 1.8M25.3 625.1l1 1.8M26.4 576.8l0.1 1.5M28.2 655.3l-0.3 2.2M30.4 603.2l0.5 1.9M30 597l-0.9 1.7M25.2 625.2l0.4 1.9M28.2 596.4l-0.8 2.1M28.8 677.1l-0.2 1.6M27.7 589.1l-0.8 2M25 657.2l0.4 1.4M29.1 626.3l0.6 1.6M27.8 646.8l0.5 2.1M28 689.3l0.7 1.2M31.1 676.1l-0.5 1.8M25.4 609.9l0.8 1.2M31.2 626.9l-0.6 1.4M30.3 589.7l-0.2 1.7M27.4 647.3l-0.8 2.1M39.8 662.9l0 1.5M30.4 639.5l0 1.5M34.6 647.9l0.1 1.8M32.6 660.1l0.3 2.1M41.7 670.8l-1 1.7M31.7 643.2l0.3 2.2M33.2 652.2l-0.4 2.1M36.6 672.3l-0.3 1.5M32.2 664l-0.3 2M27.7 647.7l-0.7 2.2M31.5 658.5l1.1 1.9M37.5 669.1l0.9 1.5M32.2 659.2l0.4 1.3M41.8 667.5l-0.5 1.4M29.5 652l1 1.1M32.8 657.6l-0.2 2M36.5 672.5l-0.7 1.2M31.4 646.8l1.1 1.7M36.1 661.2l-0.8 1.7M34.8 649.2l-0.3 2.2M28.2 647.5l-0.5 1.8M39.3 657.7l0.4 1.8M42.4 660.1l-1 1.5M30.3 654l0.4 1.8M41.5 663.1l-0.1 1.7M30.4 672.6l0.5 1.7M32.2 643l-0.2 2.2M36.5 655l1.2 1.5M40.9 671.7l-0.5 1.3M35.2 644.9l0.1 1.6M31.5 651.9l1.4 1.4M30.7 643.6l0.9 1.3M35.9 657.2l0.7 1.6M39 656.2l1.2 1.5M36 661.2l-0.8 1.7M39.7 668.9l-0.6 2" stroke="#3e4cec"/>
<path d="M46.2 643.4l1.4 1.7M29.7 628.3l0 1.5M32.5 627.5l1 1M44.6 642.1l0.1 1.4M35.2 631.9l1.3 0.7M37.2 640.4l-0.2 1.4M36.1 634.6l0.9 1.8M39 622.3l1.1 0.8M39.7 634.6l0.5 1.4M37.9 622.2l0.2 2.3M48.8 643.2l1.8 1.3M35.3 633.7l1.1 1.4M40.1 633.2l0.5 1.3M37.5 640.7l1.3 1.2M43.1 639.6l1.1 1M44.9 630.2l0 2.1M37.8 640.7l0.5 1.7M40.9 635.6l-0.3 2.1M31 628.6l0.4 2M44.7 641.1l-0.1 2.2M38.8 639.9l0.2 1.7M46.8 637.1l1 1.4M33.5 618.5l0.6 1.8M30.2 628.3l0.5 1.6M40.4 637.9l0.6 1.6M44.2 647.7l0.4 2M50.9 643.9l0.6 1.9M36.2 626.1l1.3 0.8M41.2 627.2l1.6 1.5M40.1 634.3l-0.3 1.9M44.3 647.9l0.1 1.4M49.9 654.2l1.3 1.8M49.3 613.9l0.9 1.6M58 655.1l-0.8 1.5M51.5 647.7l0.4 1.6M52.6 659.3l0.7 1.9M55.2 626.1l0.5 1.3M46.7 613.6l0.5 2.1M59.2 667.5l-1.1 1.9M44.5 606.3l0.3 1.8M58.3 688.2l0.1 2.2M54.9 665.5l-1 1.8M57.1 654.3l-0.1 1.8M54.2 617.6l0.1 1.4M50.3 640l0.2 1.6M54.1 652.6l-0.5 1.8M51.7 691.4l-0.3 1.5M45.4 609.9l-0.5 1.9M53.7 631.9l-0.2 1.9M52 653.8l-0.3 1.5M46 622.4l-0.9 2M52.4 602.4l0.6 1.6M57.2 656.3l0 1.4M47 607.2l0.1 1.9M51.3 633.5l0.7 1.5M50.4 668.2l0.8 1.2M53.6 673.8l-0.4 1.5M54.5 638l-0.5 1.6M48.5 659.6l0.5 1.8M49.9 668.1l0.3 1.7M44.8 608.7l0.8 1.2M53.2 651.1l-0.2 1.6M58.2 670.1l0.8 1.8M50.9 606.3l-0.3 2M53.8 624.7l0.5 1.9M55.3 632.4l-0.3 1.8M51.4 684l-0.7 1.6M56.3 672.9l0.5 1.6M51.3 685.5l0.6 1.6M52.5 632.6l0.4 1.7M49.4 617.1l-0.5 1.8M53.8 676.1l0.9 1.8M56.8 680.1l1.1 1.4M52.6 649.2l-0.9 1.7M58.9 672.6l0 2.1M53.1 606.2l-0.4 2.1M46.9 607l1 1.8M55.6 658.5l0.8 1.9M49.8 647.3l0.3 1.6M54 688.3l0.2 1.8M52.3 665.7l-0.7 1.6M53.5 675.1l-0.7 2M51.4 676.1l-0.9 1.7M50.8 647.5l-0.5 1.7M55.6 637.2l-0.4 2.2M54.3 633.4l0.8 1.6M45.6 626.6l1 1.3M47.8 610l-0.4 1.5M49 604.6l0 2.2M51.8 602.3l0.7 1.4M48 621.1l0 1.5M51.4 615.9l1 1.8M50.6 627.8l-0.5 1.7M46.9 623.6l-0.7 1.5M48.2 649.9l0.2 1.5M44.3 604.2l-0.4 1.6M52.1 647.4l0.8 2.1M55.6 659.6l1.1 1.4M48.6 633.5l-0.3 1.9M52.6 613.4l0.5 1.5M55 678.8l-0.2 2.3M49.6 623.6l1 1.8M45.2 599.4l-0.7 2M51.1 606.6l-0.2 1.4M53.1 643.3l-0.9 1.7M57.2 677.9l-0.5 1.7M59.7 683.3l-0.5 1.4M52 649l1 1.9M52.3 627.8l0.9 1.3M49.9 642.1l0.5 1.9M49.8 608.5l0.3 2.2M52.7 675.8l1.1 1.3M56.5 664.2l0 1.8M59.2 574.8l-0.4 1.5M68.5 645.7l0.4 1.8M65.9 608.1l0.4 1.9M66.7 603.2l-0.3 1.6M67.8 684.7l-0.4 1.6M70.3 670.9l0.6 1.3M66 653.2l0.7 1.5M67 672l0.7 1.4M65.8 591.6l0.3 1.4M68.5 681.6l0 1.9M65.9 663.6l0.2 1.6M69 621.4l0.3 2M66.4 688.9l-0.4 1.9M63 575.2l0.5 1.9M63.8 585.4l0.2 2.1M66.9 670.4l0.8 1.9M67.5 679.6l0.3 1.8M62.6 590l-0.9 1.6M65.4 657.4l0.9 2M68.9 647.2l0.8 1.3M65.6 640.9l0.6 2.1M65.3 615.6l1.2 1.9M60.8 589.3l0.1 1.9M69 639l-1 2M66.9 669.5l0.9 1.9M62.1 607.3l0.7 1.7M70 671.3l-0.1 1.4M64.9 576.6l-1.1 1.9M69 650.6l-0.3 2M65.5 618.4l-0.4 1.3M63.8 596.7l0.8 1.5M69.1 640.2l0 1.6M68.2 640.2l-0.2 1.4M70.4 652.2l-0.9 1.7M67.1 628.4l-0.2 2M66.4 662.3l0 2.3M65.7 672l0.2 1.7M64.5 639.9l0 1.8M63.5 624.4l0.4 1.3M65.7 658.8l-0.4 1.8M69.3 662l-0.2 1.4M63.5 587.8l0.1 1.7M61.3 579.4l0.1 1.6M65.5 609.4l0.6 1.3M65.3 680.5l-0.4 2.1M63.9 622.8l0.8 1.9M64 640l1.1 1.8M63.3 588l-0.6 1.2M65.6 602l0.4 1.3M65.9 678.8l0.2 1.7M69.4 642l1.3 1.8M65.6 609.2l-1 2M68 628.5l0.7 2.1M70.3 679l-0.7 1.5M69 628.5l-0.9 2.1M62.8 596.9l1 1.9M65.1 578.9l-0.3 1.6M65.9 679.5l-0.4 1.4M65 655.5l0.2 1.4M65.6 599.4l-0.3 1.5M65.6 594.1l-0.2 2.1M65.2 617.1l-0.7 1.8M66 600l-0.8 1.8M63.3 605.7l1.3 1.9M66.1 625.2l0 1.4M68.2 643.6l0.7 2M64.4 583.4l-0.3 1.5M83.9 613.8l-0.7 1.8M84.4 606.4l1.3 1.7M87.1 618.5l-0.2 1.7M86.1 598l0.1 1.9M89 606.4l0 1.8M85.8 612.4l-0.7 1.3M81.7 604.5l-0.2 1.6M83.1 621.7l0.4 2.1M77.8 582.1l0.3 1.5M86.7 628.5l-1 1.9M87.4 626l-0.7 1.2M85.5 630.5l0.8 2M84.9 603.1l-0.4 1.5M81.5 591.8l1.2 1.4M86.7 624.9l0.8 1.9M85.4 629.4l0 2.2M89.4 625.6l0.3 1.4M81.8 575.2l-0.6 2M83.2 580.3l0.6 2M82.8 613.8l1.3 1.9M81.6 586.8l-0.6 1.9M80.8 586.5l0.3 1.3M85 595.3l0 1.6M84.5 613.1l0.6 1.3M86.5 619l0.7 1.3M86.8 635.4l0.4 1.5M86.8 638.9l-0.4 1.6M83.5 593.5l1.1 1.6M82.1 601.4l0.5 1.7M82.1 606.8l0.7 1.9M81.6 588.5l0.9 2M80.7 592.3l-0.1 1.8M88.7 634.6l-0.4 1.9M87.8 602.2l0.4 1.5M81.2 602.6l0.8 1.8M88.3 617.4l0.3 1.4M89.2 632.1l0.3 1.6M84.7 627.3l-0.1 1.8M77.8 580.3l1 1.3M82.5 598l-0.1 1.7M83.7 632.7l1.2 1.5M85.9 603.8l0.3 1.6M86.3 617.2l-1.1 2M104.2 594.5l-0.4 1.4M107.5 605.2l-0.8 1.7M102.8 588.5l-0.7 2.1M105.1 588.5l1.1 1.8M103.1 601.3l1 1.6M102.8 573.8l0.8 2.1M101.8 598l1.1 1.3M102 575.9l1.3 1.8M102.8 585.4l-0.1 2.2M105.2 608.9l0.3 2.2M104.2 588.1l-0.3 1.6M103.1 587.1l0.3 1.6M102.7 589.5l1.3 1.6M101.1 575.5l0.1 1.7M104 581.4l0.5 1.6M105 591.3l-0.3 1.8M119.8 609.4l0.8 1.6M123.2 646l0.9 1.8M117.4 614.7l0.9 2M119.3 610l0.6 1.5M120.6 642.9l-0.4 1.8M114.2 604.3l0.7 1.4M115.1 624.6l0.5 1.6M119.2 654.5l0.4 1.4M119.7 646.7l0.7 2M120.7 621.5l0 2M116.7 628.2l1.2 1.3M122.8 621.7l-0.5 1.4M115.1 611.7l-0.9 2M114.7 620.1l1.1 1.7M125.5 655.6l1.1 1.7M121.6 652.4l-0.7 1.6M121.6 620.9l0.9 2M118.9 603.3l0.4 1.3M120.5 617.3l1 1.5M119.9 631.6l-0.3 1.8M126.6 655.8l0.6 1.3M116.7 618l-0.7 1.7M118.6 608.6l0.1 1.6M118.4 647.1l0.3 1.9M122.5 649.8l1.1 1.9M127.8 657.3l-0.3 1.7M118.6 601.9l1 1.7M121.1 611.3l1 1.9M118.6 629.4l0.3 1.5M117.2 600.1l1 1.2M121.8 636l0.3 1.9M120 618l-0.6 1.8M118.9 624.3l0.3 1.6M125.9 653.6l-0.8 2M125.6 651.4l0.3 2.2M121.1 616.2l-0.2 1.5M123.7 633.9l-0.6 1.5M115 605.1l0.6 1.8M116.5 629.4l0.2 1.7M115.7 599.2l0.8 1.7M120.8 637.1l1.1 1.5M119.1 628.3l-0.7 1.4M123.1 625.4l-0.4 1.5M119.8 649.1l0.9 2M126.1 591.8l0.6 2.2M125 591.6l1.2 1.8M126.7 592l1 1.2M127.1 605.7l-0.6 2.1M124.9 600l0.1 2.1M132.8 602.5l-0.1 1.6M117.2 584.2l1.4 1.1M120.3 587l0.4 2.2M128.9 609.3l1.5 1.3M115.6 579l-0.2 1.6M119.4 580.6l0 2.3M131 595.6l0.1 1.4M127.6 606.8l-0.1 2.2M121.8 596.3l0.3 1.8M125 587.6l1.2 0.9M132 602.3l0.3 2M127.5 599.7l0.8 1.4M119.8 580.5l0.2 2.2M119.1 587.3l-0.3 1.6M130.4 609.6l-0.5 2M125.4 585l0.5 1.7M115.5 575.8l0.5 1.7M130.7 600.7l1.2 1.5M123.4 582.1l1 0.9M123.6 586.6l-0.4 1.9M124.9 588.7l1.1 1.4M135 608.2l0.8 1.8M128.3 602l0.3 2.2M133 606.3l0.6 2.2M129.1 592.2l0 1.4M119.9 579.1l1.2 1.6M130.4 600l0 1.9M128.4 600l0.6 1.3M120.7 592.9l-0.2 1.4M122.2 575l0.2 1.7M121.2 577.6l0.5 2M122.7 588.9l0.2 1.9M117 576l1 1M129.5 589.7l1.3 1.1M139.2 590.5l-0.9 1.9M135 591.5l0.7 2.1M135.4 577.4l0.9 1.9M136.4 592.2l0.5 2.1M133.1 583.1l-0.3 1.7M135.8 587l0.3 1.6M136.8 596.7l0.7 1.9M136.3 590.5l-0.6 1.6M133.1 587.7l-1 1.8M134.5 588.6l-0.3 1.6M133.8 600.9l-0.2 2M134.2 589.7l0.9 1.9M132.4 593.9l0.6 1.9M134.8 573.8l-0.3 1.5M138.2 596l0.5 2.2M131.3 581l1.1 1.5M134.6 604.5l0.4 1.8M135.2 600.3l-0.4 1.8M133.5 582.8l0.1 1.8M140.7 610.4l-0.4 1.6M133.3 601.1l0.7 1.7M135.7 593.2l0.9 1.7" stroke="#5c4ce0"/>
<path d="M74.2 612.3l1 1.9M82.8 689.6l0.1 2M70.8 624.4l0.1 1.5M75 642.5l0.3 1.9M76.8 667.2l0 2.1M77.1 656.8l-0.8 1.3M81.3 667.1l-0.2 1.5M73.6 630.1l-0.5 2M74.5 607.7l0.9 1.7M83 636.2l-0.2 2M72 644.6l0.6 1.4M71.1 584.1l0.4 1.7M70.7 610.9l1.2 1.8M76.7 644.1l-0.5 1.5M75.2 597.9l1.1 1.2M76.4 649.7l0.5 1.8M68 592.5l0.8 1.3M71.4 599.6l-0.5 2M72.9 588.7l0.5 1.5M82.8 687.8l0 2.1M81.4 689.5l0.1 2M75.1 586.1l-0.5 1.4M78.7 624.7l0.2 1.4M65.5 586.6l-0.4 2M77.7 606.6l0.1 1.6M71.3 632.8l0.4 1.6M75.1 689.2l0.9 1.4M82.4 652.7l0.4 2M76.3 676.4l-0.8 1.6M71.8 625l0.5 2M75.9 605.2l0.9 1.6M76.9 599.4l0.8 1.6M76.7 615.5l-1 1.7M80.6 676.3l0.2 1.4M78.5 657.6l0.4 1.3M76.6 601.2l0.6 2.1M79.8 660.1l0.2 1.5M79.1 684.1l-0.6 1.9M82.9 681l0.4 1.7M67.2 591.7l0.7 1.9M82.5 638.7l0.2 1.5M76 586.1l0 1.4M76.5 616l0 1.5M80.3 659l-0.5 1.9M76.6 597.5l0.8 1.8M78.1 626.1l-0.5 1.4M77 613.9l0.6 1.2M69.7 584.8l0.1 2.1M79.8 688.3l-0.5 2.2M72.2 605.6l-0.1 2.2M80.5 676.9l-0.2 1.4M77.5 628.6l1 1.4M75.5 617.9l0.5 1.4M76.2 625.8l0.9 1.7M79.6 607.4l0.6 1.6M72.5 598.5l-0.2 1.8M82.9 658.4l0.2 1.7M72.6 588.9l1.1 1.4M77.2 645.9l0.3 1.5M73.6 584.4l-0.6 1.8M72.6 610.7l0.8 1.6M71.1 649l0.3 1.9M73.7 684.7l-0.3 1.9M77.2 626.5l0.7 2M78.8 678.2l-0.7 1.2M72.8 596.9l0.6 1.6M81.1 688.8l0.6 1.4M79.8 656.3l1.1 1.5M71.7 651l0.5 1.5M78.4 640.9l-0.6 1.5M76 642.2l0.3 2.3M64.7 650.5l0.3 1.7M76.9 681l1.2 1.4M72 673.4l0.9 2M67 685.1l0.4 2.1M80.4 676.4l1 1.1M78.1 644.2l0.6 2M71.4 655.6l1 1.1M85.3 687.7l0.2 2.1M71.1 680.8l0.5 2M71.3 683l-0.6 1.3M78.5 688.4l-0.2 1.6M84.8 685.4l0.1 1.5M75.1 658.8l-0.1 2.1M69.8 658.5l0.5 1.5M79 686l1 1.3M80.5 677l-0.3 1.8M80.1 674l0.8 1.2M73.1 657.4l1.2 1.3M75.9 659.4l0.2 2.2M64.3 650.6l0.7 1.9M61.8 645.7l0.5 2.2M73.3 650.5l-0.2 1.5M69.1 653.9l-0.7 1.5M74.2 648.5l-0.7 1.3M76.6 671.9l-0.1 1.5M103.6 619.9l-0.6 1.2M100.2 662.3l0.5 1.8M107.7 645.3l0 1.9M104.5 641.6l0.2 2M107.6 622.5l0.6 1.5M109.1 676.4l-0.6 1.6M101.3 639.9l1.3 1.8M110 678.7l0.6 2M105.2 676.1l1.2 1.7M100.7 622.5l0.1 2.2M113.8 664.5l-0.9 1.8M113.4 660.3l-0.4 1.7M100.9 668.8l-0.6 1.3M108.7 675.3l-0.4 1.6M106.1 651.4l0.9 1.4M112.7 671.5l1.1 1.8M106 667.4l0.8 1.2M98.4 641.9l0.1 2.2M104.8 634l0.1 2.1M97.9 628.8l0.2 1.3M107.3 649.8l-0.2 2.2M103.3 654.7l0.4 2M99.1 627.1l0.9 1.6M105.3 633.6l0.8 1.4M106.1 661.6l0.4 1.8M110 679.6l0 1.8M111.3 689.6l-0.2 1.5M101 638.3l0 1.6M97.9 624.1l0.5 1.9M103.9 650.2l0.1 2.3M109 684.7l0.2 1.5M112.6 672.7l0.7 2M99.6 621.9l0.1 1.9M109.8 642.5l-0.9 1.9M113.5 676.8l-0.4 1.5M103.2 633.7l0 1.4M107 674.1l-0.9 2M109.5 668.5l-0.9 1.8M99.7 640.7l-0.3 1.6M110.4 636.4l0.1 1.6M107.2 639.9l1 1.5M106.8 638.4l0.7 1.7M113.2 681.5l-0.8 2" stroke="#6a58e0"/>
<path d="M79.2 624.6l0.3 1.9M78.8 641.5l0 2.1M82.5 687.5l0.5 2.1M75.8 616.1l-0.2 2M79.6 687.3l0.9 1.7M78.6 635.5l0.3 1.6M80.1 663.8l0.6 1.5M78.7 617.3l0.2 1.4M74.7 588.7l1.2 1.6M74.2 594.3l-0.3 1.8M72.9 600.2l-0.4 1.3M76.2 609.7l-0.4 1.7M81.9 660.1l-0.3 1.6M76.1 618.4l-0.6 2M80.2 643.7l-0.4 1.9M79 672.9l0.8 1.5M81.3 655.1l0.6 1.2M77.6 646.1l-0.7 1.3M80.8 656.9l-0.2 1.7M78.4 684l1.1 1.7M75.9 594.5l0.8 1.9M83.8 690.5l0.3 1.3M79.3 641.2l0.3 1.6M78.8 669.5l0.5 1.6M78.8 649.5l-0.9 1.5M80.2 657.8l-0.5 1.4M77.2 600.9l-0.6 1.5M81 635.3l0.4 1.3M81.5 643.6l-0.2 1.6M106.4 663.7l-0.4 1.8M103.9 667.6l-0.4 1.5M99.9 625.1l0.5 2M104.6 637.3l0.5 2M107.8 687.2l0 1.7M100.7 637.6l1.2 1.9M110.1 667.2l-0.6 1.3M109.5 660.7l-0.8 1.4M110.8 682.2l-0.2 1.4M103.2 623.3l-0.9 1.7M105.4 681.3l0 1.4M108.5 657.9l0 1.7M108.4 655.9l-0.3 1.7M109 654.9l0.1 1.9M107.1 689.4l0.8 1.4M104.2 644.6l-1 2M105.2 687.6l-0.8 2.1M103.2 622.4l0 2M106 664.3l-0.6 1.3M102.5 657.9l0.8 1.2M103.8 682.5l0.8 1.1M106 679.2l0.1 1.9M104.4 674.6l0.9 1.1M104.1 677l-0.6 1.6M105.6 644.6l1.3 1.6M104 639.6l0.1 1.6M106.7 668.2l0.8 2" stroke="#e02858"/>
<path d="M95.8 603.7l-0.5 1.9M90.3 595.5l1.1 1.4M90.6 585.6l1.1 2M91.3 579.7l1 1.4M95.4 595.8l1 1.6M91.4 592.6l0.9 1.9M91.7 596.2l1 1.4M88.6 573.8l-0.8 2M90.8 573.7l0.2 1.8M88.7 576.9l0.7 1.7M89.9 577.3l0.8 1.2M93.8 588.9l-0.3 1.5M94 585.7l0.9 1.5M135 610.8l1.6 1.4M134.5 605.1l0.8 1.6" stroke="#c02a90"/>
<path d="M86.5 690.1l-0.1 1.6M65.6 663.2l0.5 1.1M105.5 655.1l-0.4 1.2M56.6 616.3l0 1M68.1 651.3l0.4 1.1M126.1 683.7l0.3 1.1M38.7 584.1l-0.5 1.4M55.7 631.6l-0.2 1M119.8 674.8l0.4 1.4M106.3 613.8l-0.4 1M79.9 610.8l0.1 1.5M91.4 645.7l-0.6 1M50.4 646.7l0.6 1.5M64.4 625.6l0.1 1.6M131 653.6l0.4 1.2M107.3 599.4l-0.6 1.5M50.9 616.8l0.4 1.4M29.9 655.6l0.7 1.4M87.8 642.7l0.4 0.9M65.9 689.4l-0.2 1.6M31.7 586.1l0.7 1.3M45.4 606l-0.3 1.4M62.1 628.9l0.3 1.3M66 616.4l0.3 1.1M55 576l0.3 1.4M56.3 587.4l-0.5 1.2M84.6 610.7l-0.6 1.4M97.3 651.4l-0.3 1.3M72.9 619.9l0 1.3M86.6 636.5l-0.5 1.5M50.7 576.9l0.2 1M117.3 647l0.2 1.1M126 672.1l-0.3 1.4M111.3 627.4l0.1 1.4M127.5 690.3l-0.7 1.4M33.8 603.1l-0.6 1.2M84.9 610.5l-0.5 1.2M140.2 583.2l-0.5 0.9M42.1 619.9l-0.2 1M90.2 684.1l0.1 1.5M93.4 642.4l0.4 1.2M129.3 653.2l0.4 1.2M88.1 613.6l-0.1 1.4M27 600l-0.2 1.1M33.1 663.3l0.3 1.6M89.9 586.1l-0.2 1.2M119.7 659.2l-0.3 1M28.6 667.8l0.4 1M28.3 593.1l0 1.7M62.4 604.7l-0.4 1M98.9 646.4l-0.4 0.9M90.5 619.1l-0.4 1.1M107.9 595.7l0 1.7M53 606.8l-0.6 1.3M32.3 596.1l0.3 1.1M123.4 656.3l-0.7 1.3M98 619.1l-0.3 1.3M31.6 631.8l0.2 1.3M30.8 577.5l-0.6 1.1M63.3 591.4l-0.2 1.6M45.8 632.7l0 1.5M90.3 602.1l0.5 1.4M33.6 675.7l0.5 1M79.3 673l-0.2 1.5M113 658.8l0.7 1.4M41.7 593.4l0.5 0.9M126.6 619l0.4 0.9M123.4 644.8l-0.4 0.9M37.7 607.9l0.3 1M47.9 649.3l0.4 1M86.8 618.2l0.5 1.3M83.9 619.8l0 1M96.2 597l0.2 1M128 643l0.2 1.4M134 589.5l0.2 1.5M68.3 657.2l-0.4 0.9M58.1 608.4l-0.4 1.5M105.9 682.6l0.4 1.2M123.7 663.8l0.7 1.5M110.8 675.6l0.2 1.4M136.4 679.2l-0.1 1.6M141.1 672.3l-0.3 1.6M41.6 621.6l-0.1 1.1M115.7 581.5l-0.2 1.2M62.1 645.3l0.4 1.2M124.3 689.9l0.3 1.2M105.7 596.5l-0.4 1M89.3 614.2l0.5 0.8M24.8 612.5l0.4 1.6M99.1 581.9l-0.3 1.1M81.1 658.7l-0.6 1.5M73.7 611.4l0.1 1.2M111.2 628.5l-0.2 1.1M115.6 687.4l0.4 1.3M43.6 578.4l0.1 1.1M109.9 641.1l-0.3 1.6M31.3 585.8l0.6 1.2M120.7 654.2l-0.1 1.6M68.2 587.5l-0.1 1M51.3 577.8l0.4 1M86.7 589l-0.2 1.5M65 588.2l-0.3 1.5M127.7 639l-0.1 1.6M103.4 688.3l0.3 1.5M98.1 629.1l0.6 1.1M55.4 644.6l0 1.3M31.7 589.5l-0.2 1.4M139.9 667.1l0.3 1.3M83.5 668.2l0.2 1.6M81.1 620.8l0 1.2M141 579.7l0.1 1M103.4 591.9l0.5 1.2M94.8 663.7l0.1 1.2M67.4 678.4l0.3 0.9M127.6 630.9l0.4 1M128 661.9l0.6 1.3M49.7 626.6l-0.1 1M133.3 613.4l0.6 1.4M37.6 578.5l-0.2 1.3M129.4 667l0.3 1" stroke="#2c2cb0"/>
<path d="M131.7 669l0.3 1.6M124.4 676.3l0.7 1.5M137.9 675.2l0.3 1.5M137 682.8l0.6 1.2M123.9 672.2l-0.7 1.4M125.4 672.6l0.2 1.1M134.3 681.3l0.2 1.3M133.5 680l0 1.1M122.9 656.5l-0.4 1.3M132.5 664.8l0.2 1.1M138.3 674.8l0.6 1.4M132 675.1l-0.4 1.4M136.7 690l0.1 1.4M127.6 666.5l0.2 1.4M127.6 664.1l-0.5 1.4M133.1 684.7l0.2 1.4M125.2 662.5l0.6 1.4M137.5 662.2l0.1 1.1M123.8 676.3l-0.4 1M125.4 681.1l0.5 1.5M127.2 669.3l0.4 1.1M128.8 661.2l-0.2 1M132.4 683.2l0.2 1.1M123.4 652.6l-0.4 1.3M121.3 668.4l-0.1 1.2" stroke="#3434c0"/>
</g>
<rect x="24.8" y="574.8" width="116.3" height="117.2" fill="#000" filter="url(#nz)" opacity="0.5"/>
<g fill="none" stroke="#010104" stroke-linecap="round" filter="url(#blr1)">
<path d="M99 574 L95 620 L92 692" stroke-width="4.5"/>
<path d="M110 585 L116 640 L121 692" stroke-width="4.5"/>
<path d="M139 600 L140.5 692" stroke-width="2.5"/>
<path d="M40 574 L42 630" stroke-width="6"/>
</g>
<rect x="51.7" y="585.5" width="32.8" height="32.9" fill="none" stroke="#fff" stroke-width="1.3" stroke-dasharray="5 3"/><rect x="101.6" y="686" width="20.5" height="1.8" fill="#fff"/><text x="28" y="667.3" font-size="10.2" fill="#5cb040">p57</text><text x="26.6" y="677.4" font-size="10.6" fill="#e82030">Lgr5-tdTomato</text><text x="27.6" y="686.6" font-size="10.2" fill="#4a60e0">DAPI</text>
</g><clipPath id="cj1"><rect x="143.5" y="575.1" width="56.8" height="56.7"/></clipPath>
<g clip-path="url(#cj1)">
<rect x="143.5" y="575.1" width="56.8" height="56.7" fill="#020206"/>
<g filter="url(#blr)" fill="none" stroke-linecap="round" stroke-linejoin="round">
<path d="M149.5 576 L149.5 631" stroke="#2020a0" stroke-width="5" opacity="0.4"/>
<path d="M162 575 L166 600 L170 632" stroke="#5030c0" stroke-width="15" opacity="0.7"/>
<path d="M165 585 L168 605 L170 625" stroke="#c82048" stroke-width="9" opacity="0.75"/>
<path d="M177 575 L184 600 L193 632" stroke="#4a34c8" stroke-width="14" opacity="0.7"/>
<path d="M177 598 L183 615 L186 628" stroke="#c02050" stroke-width="4" opacity="0.7"/>
<path d="M197 575 L198 632" stroke="#3030b8" stroke-width="7" opacity="0.6"/>
</g>
<g stroke-linecap="round" stroke-width="1.6" opacity="0.8">
<path d="M149.7 576.8l0.4 2.2M148 594.9l-0.8 1.7M147.7 582.1l0.9 1.6M151.3 580.6l0.2 1.5M149.7 629.6l-1 2M148.8 616.7l0.1 2.1M151.1 612l-0.1 1.7M148.8 603.4l-0.4 1.8M147.7 618.7l0.7 1.3M151.5 577.9l-0.9 1.4M149.7 599.3l-0.1 1.6M150.7 617.9l-0.9 1.9M148.8 575.1l1 1.9M150.9 578.9l-0.6 1.8M149.9 611.9l0 1.5M150.7 600.7l-0.3 1.4M150.9 582.6l-0.1 1.9M147.6 575.4l-0.7 1.6M148.4 584.1l-0.8 1.3M195.5 610.9l-0.4 1.5M197.8 575.5l0.2 2.1M197.5 605.3l-0.2 1.8M197.4 612.9l-0.1 1.6M198 581l-1 2M196.8 590.8l0 1.8M195 584.5l0.8 1.3M198.9 590.2l0.5 1.3M199.7 603.9l-0.3 1.9M197.8 609.8l-0.2 1.6M195.9 600.5l0.7 1.9M194.7 607.5l-0.2 1.8M199 617.9l0.3 1.7M195.9 615.9l0.9 2.1M198.5 630.2l-1.1 1.6M199.4 596.1l1.1 1.6M197.3 615.1l-0.6 1.7M197.2 616.4l-0.3 1.8M196.8 612.2l1 1.7M198.6 614.3l-0.9 1.5M197 583.8l0.3 1.5M200.1 624.9l-0.4 1.4M193.9 603.6l1.1 1.9M194.4 574.6l-0.8 1.6M197.5 610.6l0.7 1.5M194.7 599.4l0.9 1.6M197.5 601l-0.6 1.8M194.5 592.7l-0.2 1.6" stroke="#3e4cec"/>
<path d="M164.3 617.9l-0.6 1.4M167.1 580.2l1 1.9M169.3 626.1l0.9 1.4M162.3 588l-0.2 2.1M166.4 598.9l0.3 1.6M163.7 600.4l-0.2 1.6M171.1 606l1.1 1.3M171 593.7l1.1 1.4M164.5 628.6l1 1.2M167.3 594.8l1.1 1.6M170.1 622l0.7 1.2M158.1 575.5l0.9 1.8M173.7 618.6l0.8 1.4M164.9 618.4l0.6 1.6M165.8 594.4l-0.3 1.5M163 620.8l0 2.2M174.3 627.2l-0.7 1.4M173.4 619.4l0.6 1.6M165.9 622.2l1 1.9M168.4 623.7l1 1.3M166.1 590.6l-0.7 1.8M174 620.1l0.9 1.8M168.3 593.2l0.9 1.1M164.9 597.6l0.5 1.8M171.1 589.7l-0.1 1.6M167.7 602.1l0.5 1.3M167 590.9l0.8 1.1M173 600.7l-0.6 1.6M165.2 599.7l0.9 1.1M167.6 619l0.2 1.6M168.4 616.8l-0.5 2.1M166.3 625.4l-0.2 1.8M165.5 604.4l0.2 2.1M175.2 622.2l-0.3 1.9M161.1 609l1.1 1.4M158.9 596.5l1 1.6M159.8 582.7l0.3 2M159.2 592.7l1.1 1.1M163.2 616.6l-0.3 1.6M160 579.4l-0.2 1.4M168.6 627.6l1.1 1.4M170.7 592.3l-0.7 2.1M163.4 581l0.8 1.8M165 580l0.5 1.7M165.1 598.9l-0.8 2.1M164.6 626.6l0.7 1.4M164.2 600.5l0 1.7M172 630.7l0.9 1.1M161 586.7l-0.3 1.3M167.8 586.9l-0.4 2.1M170.1 588.1l-0.9 2.1M168.5 614.8l-0.4 2M169.5 602.6l0.2 2M162.5 592.8l1.3 1.9M168 585.4l-0.9 2.1M165.2 627.3l-0.6 2M172.8 605.5l-0.3 2.1M174.3 621.2l1.2 1.6M161.5 602.6l-0.8 1.6M165.6 612.9l-0.2 1.7M173.6 609.7l-0.7 1.9M168.7 619.9l0.8 1.6M166.7 613.3l0.8 1.1M168.7 596.4l0.7 1.4M163.5 598.1l-0.7 1.9M157.3 575.9l0.1 2M169 609l0.4 1.3M173.7 611l-0.2 2.2M166.5 612.1l-0.6 2.2M185 610.1l1.5 1.7M188.2 602.5l-0.5 1.6M175.7 578.9l0.8 1.3M180.1 591.7l0.9 1.7M185.7 627.2l-0.4 2.2M176.5 589.9l1.3 1.3M183.3 577.2l-0.4 1.4M187.3 615.3l1.6 1.3M173.4 578.9l-0.2 1.8M189.8 598.1l0 1.4M180.2 605.7l0.1 1.4M185.6 615.9l1 1.8M187.1 606.9l0.4 1.5M176.4 591.8l0.9 1.9M185.7 594.1l1.7 1.4M183.1 618.8l0.2 1.4M184.9 581.8l0.3 1.9M194.3 628.1l0.9 1.3M184.8 581l0.5 1.7M176.9 596.6l1 1.9M189.6 603.4l1.4 1.3M196.4 622.5l0 1.6M183.9 614.5l0 1.6M174.1 584.4l-0.5 2.1M190.6 603.3l0.9 2M179.8 577.4l1.6 1.5M187.4 593.1l0.7 1.4M182.5 599.4l0.1 1.4M190.6 603l0.7 2M176.8 590.3l0.9 1.4M195.5 617.6l0.4 1.8M183 616.5l0.1 1.5M179.9 585.5l1 1.6M175.8 580.1l0.5 1.3M173.8 582.3l-0.3 2.1M176.7 598.1l1.3 1.6M195 627.2l1.1 0.9M174.5 579.9l0.3 1.8M176.6 581.5l1 1.1M184.8 608.3l-0.2 2.1M181 581.5l1.2 1.4M172.9 576.8l0.1 2.1M179.9 603.2l-0.3 2.1M193 619.4l0.6 1.2M189.8 617.7l-0.5 1.5M179.7 599.8l-0.6 2M185.5 625.9l1 1.6M176.1 578.4l-0.5 1.7M177.9 582.9l1.3 1.2M179.4 578.3l-0.2 2M190.9 622.9l0.5 1.3M188.5 619.5l0.6 1.4M189.1 599.1l0.9 1M188.3 597l-0.2 1.9M189.7 624l1 1.2M189.3 622.2l0.2 1.9M181 575.7l0.7 2M190.6 628.5l0.7 1.2M187.2 605.8l-0.4 1.5M185.4 584.3l1.6 1.4M194.4 622.9l1.4 1.2M179.8 588.4l-0.5 2M179.7 590.4l1 1.8M176.6 589.9l0.1 2.2M176.9 595.5l0.3 1.6M189.2 610.7l0.9 1M189.2 608.2l1.4 1.5" stroke="#5c4ce0"/>
<path d="M165.2 617.2l0.2 1.3M167.7 608.7l-0.6 1.8M171.4 598l-0.5 1.9M169.5 623.5l-0.7 2M170.6 623.8l-0.6 1.6M166.1 584.2l0.7 2.1M169.2 599.8l-0.1 1.4M167.1 596.3l1.1 1.6M164.7 601.2l0.8 2.1M165.6 592.2l0.6 1.2M163.3 596.7l0.7 1.6M169.9 605l0.1 1.4M169.1 597.7l-0.5 2M168.4 612.1l-0.7 1.9M168.5 585.7l-0.3 2.1M167.3 624l0.9 1.6" stroke="#d83070"/>
<path d="M177.1 601.8l1 1.4M184.6 625.1l-0.4 2.2M181.6 615.3l0.1 1.9M180.6 606.7l0.4 1.5" stroke="#c02a90"/>
<path d="M174.3 623.6l0.7 1.3M171 590.9l0.4 1.1M168.4 598.4l-0.1 1.2M179 601.2l-0.5 1.5M157 629.9l-0.1 1.2M157.9 614.8l0.1 1.5M157.8 623.1l0.4 1.5M168.5 597.2l-0.1 1.3M175 606.2l-0.7 1.3M148.5 630.7l0.5 0.9M189.7 590.2l0.5 1M171.4 622.5l0.5 1M144.1 577.5l0.3 1.3M198.8 611.2l-0.5 1.3M195 612.7l0.3 1.2M171 580.7l-0.6 1.2M155.1 602.4l-0.4 1.1M176.7 579.8l0.3 1.1M172 613.4l0.4 1.4M177.1 617.1l-0.6 1.1M200.1 600.4l0 1.1M148.1 611.2l0.4 0.9M148.1 605.3l0.4 1.1M186.8 599.7l0.5 1.4M200 609.7l0.1 1.4" stroke="#3030b8"/>
</g>
<rect x="143.5" y="575.1" width="56.8" height="56.7" fill="#000" filter="url(#nz)" opacity="0.5"/>
<g fill="none" stroke="#010104" stroke-linecap="round" filter="url(#blr1)">
<path d="M169.7 575 L180 622 L182 632" stroke-width="2.2"/>
<path d="M188.5 575 L195.5 632" stroke-width="1.8"/>
</g>

</g><clipPath id="cj2"><rect x="143.5" y="634.3" width="56.8" height="57.7"/></clipPath>
<g clip-path="url(#cj2)">
<rect x="143.5" y="634.3" width="56.8" height="57.7" fill="#020206"/>
<g filter="url(#blr)" fill="none" stroke-linecap="round" stroke-linejoin="round">
<path d="M149.5 634 L149.5 692" stroke="#2020a0" stroke-width="5" opacity="0.4"/>
<path d="M160 634 L164 660 L168 692" stroke="#3434c8" stroke-width="14" opacity="0.7"/>
<path d="M176 640 L184 665 L192 690" stroke="#3434c8" stroke-width="16" opacity="0.7"/>
<path d="M195 634 L197 668" stroke="#3030b8" stroke-width="8" opacity="0.6"/>
</g>
<g stroke-linecap="round" stroke-width="1.6" opacity="0.8">
<path d="M148.2 674l-0.5 1.5M150.9 678.4l0.8 1.6M148.9 643.6l0.6 2.1M148.5 658.4l-0.9 1.5M149.4 677.9l0.2 1.4M147.8 671.4l-0.4 1.6M150 663.4l0.3 2M149.6 633.7l0 1.5M150.5 675.7l0.2 1.6M150 667.8l-0.4 1.7M148.9 678.7l0.8 1.6M150.9 647.9l-0.9 1.5M151.2 676.1l-0.2 1.4M150.6 645.9l1.2 1.8M149.5 689.1l1.1 1.7M151.8 671.8l-0.4 1.3M148.5 646.8l-0.5 1.5M148.3 662.6l-0.2 1.8M151.1 643.9l0.7 1.7M149.8 667.6l-0.3 1.8M193.4 656.7l-0.1 2M196.2 652l-0.7 1.4M195.1 639.5l0.6 1.9M199.5 654.5l0.8 1.8M194.4 646.8l0.1 1.4M192.5 656.8l1 1.6M195.4 654l0.1 1.8M194.2 666.8l0.3 2.1M194.5 656.2l-0.7 1.2M197.7 640.1l-0.7 2.1M196 640.8l-0.8 1.8M193.7 653.5l-0.6 1.3M198.5 665.7l-0.2 2M197.4 643l-0.9 1.9M200 666l-0.2 2M195.1 665.9l0.5 1.4M197.1 639l0 1.6M198.4 637.8l-0.4 2.1M195.6 637.5l-0.8 1.4" stroke="#3e4cec"/>
<path d="M166.8 670.4l-0.5 1.8M161.3 684.8l-0.6 2M164.8 673.4l0.6 1.3M168.7 671l0 1.9M165.7 668.3l0.7 1.5M160.7 674.2l0.6 1.5M164.9 658.8l0 2M162.6 677.9l-0.3 2.2M164.7 659l-0.1 1.6M167.7 681l0.1 1.8M169 653.3l0.7 1.6M172.6 687.5l-0.8 2.1M168.5 678.7l1.4 1.6M163.5 636.7l-0.7 1.8M162.1 681.5l0.9 1.6M162.2 638.2l0.3 2.1M160.1 650.4l0.9 1.3M159.5 636.5l0.1 2M158.4 658.2l-0.2 1.9M170.7 683.3l0.7 1.7M159.5 668.8l-0.1 1.4M167.5 687.8l1 1.8M160.8 670.2l0.1 1.6M164.3 660.3l0.6 1.8M164 641.6l0.8 1.1M161.3 663.7l0.5 2.1M162.8 668.5l0.8 2M158.3 653.8l1 2M169.8 672.4l-0.2 1.5M164.7 655.3l0.6 1.6M162 642.3l1.3 1.7M160.2 653.8l0.5 2.2M164.9 684.3l-0.6 2.1M168.6 687.1l0 1.4M165.4 654.1l0 1.3M171.3 676.2l0.4 1.7M164.7 682.2l1 1.7M160.3 646.7l0.6 2.2M166.4 658.5l0.8 2.1M166.2 652.7l0.2 2M172.5 686.9l0.7 1.9M162 662.3l-0.1 1.4M164.2 635.6l0.6 1.4M166.7 649.2l1.2 1.4M169.9 676.6l1.2 1.6M165.1 637.1l0.3 1.6M166.3 678.7l0.2 1.7M156 635.2l0.6 2M161.7 639.3l0.2 1.5M155.7 638.1l-0.9 2.1M161.8 665l0 1.8M159.5 643.3l0.4 1.9M162.3 635.2l1.2 1.7M167.1 660.5l-0.4 1.8M163.4 650.1l1 1M154.9 636.1l-0.6 1.8M167.1 687.9l-0.1 1.4M162.2 658.5l0.5 1.9M160.7 653.4l0.9 1.6M163 658.2l1 1.2M169.9 673.8l0.3 2.2M162.5 668.6l-0.5 2.2M164.9 655.6l-0.2 1.3M166.9 659.8l0.1 2M167 683.2l-0.2 1.4M160.2 672l0 1.8M165.2 662.8l0.7 1.3M165.7 679.4l1.2 1.5M164.3 681.4l1.1 1.9M161.4 643.8l0.3 1.5M184.1 651.5l0.9 1M183.4 672.1l1.3 1.8M183.6 660l-0.4 1.9M180.1 663.6l0 1.6M173.9 643.6l0 1.9M173.8 646.1l1.4 1.6M183.5 671.1l1.2 1.1M192.4 674.4l1.3 1.1M187.4 682.6l0.8 1.1M184.6 682.6l0.1 1.5M194.2 674.8l1.1 1.2M197 685l1.3 1.5M190.6 676.4l1.6 1.4M185.8 689.6l0.3 1.4M185.9 676.6l-0.2 2M177.2 666.4l0.6 1.6M182 672l0.4 2.2M175 654.5l-0.3 1.6M174.9 640.8l0.4 2.2M181.9 668.1l0 1.5M187 672.4l1 1.3M178.4 658.4l0.4 1.6M172.9 643l0 2.1M194.1 676.7l1 1.5M175.9 655.7l0.8 1.1M188.6 660l1.5 1.2M184.4 669.8l1.4 1.3M186.6 664.7l0.9 1.2M185.4 662.6l0.4 1.9M178.4 653.4l1.2 1.7M177.9 649.6l0 2.1M179.1 667.3l-0.6 2M184.8 656.2l0.2 1.4M184.3 646.2l0.2 1.7M186.3 686.6l0.4 1.6M186.5 653.3l1.5 1.5M187.7 651.9l-0.5 1.6M189.2 677.8l-0.4 1.4M180.7 663.6l1.7 1.4M178.5 657.2l1 1M173.7 644.5l-0.5 2.1M190.1 663.8l-0.1 1.8M186.5 679l0.3 1.5M183.7 644.6l0.6 1.5M197.5 685l0 1.4M171.3 646.3l1.2 1.5M186.4 668.2l0.7 1.3M188.7 673.2l0.4 2.1M177.7 642.5l1 2M189.9 669.1l0.5 1.3M189.5 663.2l1.2 1.3M188.4 664.8l0.3 1.6M193.5 672.3l-0.2 1.7M181.5 647l0.2 1.4M194.1 683.8l0.6 1.3M176.5 664.3l1 1.2M182.3 667.4l1 1.1M188.5 668.4l1.5 1.3M185.8 684l-0.2 1.5M179.4 655l0.3 1.9M188.1 665.9l0.8 1.1M175 642.5l1.6 1.5M196.4 685.5l-0.5 1.9M177.3 639.1l0.7 1.4M179.9 641.7l1.4 1.1M187.6 661.8l-0.4 2.1M179.4 665.4l1 1.8M190.5 677.4l0 1.7M179.2 647.6l1.4 1.4M180.1 651.6l-0.1 1.9M187.4 685.4l0.2 2" stroke="#4c5af6"/>
<path d="M173.5 680.4l0.8 1.4M187.4 676.1l0.2 1.3M196.6 637.2l0.6 1.3M197.4 642.3l0.4 1.2M188.4 666.3l-0.2 1M154.9 667.6l-0.2 1M148.6 651.8l0.1 1.2M153.3 637.8l-0.2 1.6M179.2 686.7l0.5 1.3M164.3 682.5l-0.1 1.4M195.2 688.8l0.5 1.2M148.1 665.9l0.4 1.4M163.9 634.3l-0.4 1M158.4 663.6l0.7 1.4M184.3 640.5l-0.1 1.1M173.5 639.1l0.3 1.3M174.7 671.5l-0.5 1.1M163.5 645.8l-0.3 1.2M155.5 644.6l0.1 1.6M168.4 680.6l0 1.4M158.1 657.4l-0.2 1M169.2 648.3l0.3 1.2M154.5 667l0.5 1M158.7 644.1l-0.5 1.4M193.7 641.4l0.4 1.1" stroke="#3030b8"/>
</g>
<rect x="143.5" y="634.3" width="56.8" height="57.7" fill="#000" filter="url(#nz)" opacity="0.5"/>
<g fill="none" stroke="#010104" stroke-linecap="round" filter="url(#blr1)">
<path d="M167.4 634 L180 684 L181 692" stroke-width="2.6"/>
</g>
<ellipse cx="168" cy="683" rx="3.2" ry="1.1" fill="#40e0e8" opacity="0.85"/><ellipse cx="168.5" cy="655.5" rx="2" ry="1.6" fill="#50b0f0" opacity="0.6"/>
</g><clipPath id="cjr"><rect x="207.8" y="575.5" width="114.9" height="116.5"/></clipPath>
<g clip-path="url(#cjr)">
<rect x="207.8" y="575.5" width="114.9" height="116.5" fill="#020206"/>
<g filter="url(#blr)" fill="none" stroke-linecap="round" stroke-linejoin="round">
<path d="M209 575 L211 592" stroke="#2434c8" stroke-width="8" opacity="0.45"/>
<path d="M262 576 L268 602" stroke="#2434c8" stroke-width="14" opacity="0.6"/>
<path d="M300 576 L310 612" stroke="#2434c8" stroke-width="18" opacity="0.6"/>
<path d="M247 578 L250 630 L254 692" stroke="#2434c8" stroke-width="10" opacity="0.7"/>
<path d="M222 632 L232 660 L238 692" stroke="#2434c8" stroke-width="16" opacity="0.6"/>
<path d="M211 650 L214 692" stroke="#2434c8" stroke-width="9" opacity="0.5"/>
<path d="M262 590 L268 620 L270 660 L270 692" stroke="#2434c8" stroke-width="10" opacity="0.65"/>
<path d="M288 600 L293 650 L295 692" stroke="#2434c8" stroke-width="14" opacity="0.7"/>
<path d="M313 615 L315 692" stroke="#1a2090" stroke-width="12" opacity="0.5"/>
</g>
<g stroke-linecap="round" stroke-width="1.6" opacity="0.8">
<path d="M207.9 582.9l-0.6 2.1M212.1 574.1l0.5 1.7M209.5 574.1l1.2 1.8M210.2 577.5l1.1 1.9M209.3 576.2l0.7 1.4M209.6 591.3l-0.3 1.6M207.7 591.2l-0.1 1.5M208.6 574.8l0.3 2.1M208.3 591.2l0.9 2.1M309.6 600.2l0 1.7M312 595.9l0.9 1.6M306 597.2l1.4 1.2M311.7 605.4l1.1 1.6M307.8 582l1.4 1.4M304.4 607.9l0.3 2.1M311.6 604.5l0.9 2.1M307.1 609.7l0.2 1.6M303 577.7l1.1 1.6M304.7 599.5l-0.3 1.3M307.8 580.7l0.9 2M299.5 593.5l1 1.3M311.2 602.9l0 1.9M313.4 596.5l1 2M307.5 587.7l-0.6 1.8M307.1 600.1l0.2 1.7M305.4 584.2l1.1 1.6M306.6 576.4l0.6 2.2M305.2 604.1l0 1.5M312.5 591.6l0.3 1.3M306.7 577.7l0.8 1.6M308 581.2l1.5 1.7M302.9 612.7l1 1.1M315.7 604.8l1.3 1.5M303.1 611.8l-0.2 1.6M300.8 603.2l-0.5 2.2M303.1 603.8l0 1.7M298.9 597.8l0.2 1.3M298.7 592.8l0 1.8M304.8 609.9l1.1 1.6M316.6 604.3l-0.5 1.7M315.7 603.7l0.8 1.4M299.8 583.5l-0.2 1.9M314.7 606.3l0.9 1.5M304.6 604.6l-0.7 2M301.7 595.2l-0.2 1.8M301.4 601.3l-0.2 1.5M297.2 577.2l-0.2 1.5M304 607.2l0.9 1.1M304 599.4l1.4 1.7M297.1 584.5l-0.4 1.4M306.4 600.6l-0.4 1.7M308.4 588.9l-0.2 1.6M316.5 606.1l-0.3 1.3M299.8 603.2l0.9 1.7M311.1 588.1l-0.3 1.8M314.8 602.2l1 1.2M315 602.8l1.3 1.1M298.6 590.7l-0.3 1.5M309.7 601.1l-0.1 2M300.9 577.6l0.6 1.7M302.2 596l0.7 1.7M305 606l0.9 1.2M295.2 586.7l0.9 2M227.8 636.8l0.1 1.4M223.7 655.5l0.6 1.3M236.3 669.4l-0.3 1.7M230.9 681.6l1 1.5M236.6 655.5l-0.3 1.6M240.2 666l-0.8 2.1M239.6 670.8l0 1.8M235 657.6l1.5 1.5M230.1 667.6l-0.2 1.7M235.6 663l0 1.7M238.2 677.6l0.5 1.3M226 632.4l1.4 1M223.9 655.4l1.8 1.4M219.1 638.5l0.8 1.4M235.1 667.3l1 1M231.5 672.2l-0.6 1.4M237.4 676.7l0.3 1.6M224.5 657.5l1 1.4M237.8 685.4l-0.4 1.8M226.2 652.7l0.3 1.7M244 689.8l-0.5 2M235.1 673.5l-0.2 1.4M228.7 671.8l0.6 1.9M234.6 672.5l-0.3 1.8M224.2 638.4l0.1 1.5M226.3 660.1l1.7 1.3M231.1 651l0.2 1.9M232.2 646.2l0.9 2M234.9 691.3l-0.1 2M241.2 685l1.2 1.7M221.6 632.3l1 2M237 667.6l1.2 1.3M233.3 663.8l0.1 1.4M224.6 654.1l0.9 1.2M219.9 643.7l-0.2 1.7M230.8 649.6l-0.3 2.2M232.4 689.3l0 1.4M242.1 686.7l-0.2 1.7M220 634l1.3 1.7M223.2 642.8l0.6 1.3M230.5 646.6l0 2.1M241.6 686.4l0.9 1.4M232.7 648.7l0 1.3M237.6 662l0.6 1.5M225.7 660.4l0.1 1.7M240.9 689.9l1 1.6M232 677.5l0.4 2M222.8 652.6l0.1 2.1M226.6 663.8l0.5 2.2M224.7 659.4l1 1.5M232.5 664.2l-0.5 2.1M222.8 642.8l0.5 1.6M219.1 639.8l-0.5 2M238.7 663.9l0.6 1.5M225.1 635.7l0.8 1.5M228.6 633.4l-0.4 1.8M227.1 644.6l0.9 1.6M222.6 642.6l-0.4 1.9M233 689.5l0.3 1.8M235.8 672l1.1 1.3M232.7 680.5l1.4 1.6M222.2 634.2l1.1 1.2M225.2 645l0.2 2.2M238.1 660.1l1 1M228.7 637.3l0.8 1.2M238.1 681.5l0.4 2M225.1 642l1.4 1.1M235.8 686.9l0.8 1.8M232.3 660.5l0 2M230.4 685.6l-0.8 2M229.7 672.7l0.8 1.3M236.4 681.5l1.4 1.5M228 638l-0.3 1.5M239.5 679.9l-0.3 1.7M230.4 664.9l-0.1 1.5M238.5 670.1l1 1.8M225.7 639.9l1.4 1.3M227.8 640.8l-0.4 1.7M238.6 659.6l0.7 1.3M238.1 667.2l0.8 1.2M211.7 680.4l0.5 1.5M211.5 660.9l0 1.5M210.1 655.6l0.7 1.8M214.2 656.3l1.2 1.8M216.3 671.3l0.5 1.9M208.4 658.7l1.1 1.4M215.7 673.2l-0.9 1.6M208.7 654.9l1.2 1.6M212 684.6l0.8 1.1M210.3 684l0.8 2.1M216.9 683.3l-0.5 1.2M214 662.6l0.7 1.6M207 651.3l0.8 1.8M208.7 664.1l0 1.8M212.7 681.2l0.2 1.5M212.2 682.5l0.3 2.3M210.1 668.9l0.8 1.5M215.4 675.4l-1.2 2M210.8 676.3l0.7 1.9M213.9 685.1l0 2M215 659.4l0.8 1.6M209.8 676.3l0.5 1.4M214.7 666.6l0.6 1.7M215.8 677.7l0.8 1.6M215.3 670.8l-0.2 1.9M210.3 690l-0.1 1.4M214.2 671.1l0.5 1.3M312.1 667.2l-0.1 1.5M315.9 656.1l1.1 1.5M315.6 689.1l-0.6 1.8M313.1 617.1l-1.1 1.6M309.4 636.9l-0.4 2.2M313.7 679.4l0.1 1.8M309.3 638.7l1.1 2M314.4 640.3l-0.2 1.6M319.3 661l-0.6 1.3M311.2 681.4l-0.7 1.9M312.1 628.5l1.1 1.7M317.6 674.9l0.1 1.4M311.7 665.6l1 1.6M318.6 681.9l-0.7 1.4M317.7 615.4l-0.4 1.5M314.9 680.3l1.1 1.8M317.2 639.5l1 1.3M314 649.8l-0.1 1.4M308.7 614.3l0.2 2M314 683.2l-0.4 1.5M313.9 630.4l-1.2 1.9M311.8 632.1l0.5 1.6M308.1 635.9l0.3 1.7M308.9 620.8l1.1 1.8M315.9 632.7l0.9 1.4M316.2 687.6l0.5 2M311.2 631.9l-1.1 1.8M310.4 617.2l-0.7 2M318.6 658.5l-0.4 1.8M310.7 651.7l0.7 1.5M310.6 662.9l-1.2 1.8M314.4 634.3l0 1.8M315 620.3l-0.8 1.5M310.5 681.7l0 2.2M320.3 688.9l-0.2 2.2M314.6 637.9l0.9 2M313.2 657.3l-0.2 2.2M313.4 654l0.1 1.6M313.3 689l0 1.4M319.2 663.3l0.1 1.5M316.5 644.3l0.6 1.6M316.1 623.5l-0.3 1.4M315.3 679.2l0.8 1.9M314.7 643.3l0.9 1.2M314.8 686.2l0.2 1.9M317.3 620.9l-0.8 1.8M309.5 638.8l0.5 1.7M310.4 674.5l0.7 2.2M315.9 630.2l0 1.9" stroke="#4a5cf4"/>
<path d="M270.7 589.7l1.2 1.9M263.8 596.7l0 1.4M270.2 598.9l-0.2 1.8M264.9 587.7l-0.6 2M259.6 586.6l1 1.3M269.3 582.4l0.5 1.3M263.7 601.4l0.3 1.3M259.9 583l0.7 1.3M263.1 586.7l1.1 1.3M262 590.1l0.8 2.1M259.7 582.5l1.5 1.6M269.5 588.2l-0.3 2.1M258.4 579.7l-0.5 1.6M263.9 596.3l0.2 1.7M260.1 583.9l-0.3 2.2M261.6 577.2l0 1.5M257.4 576.7l-0.2 2M264.9 583.8l-0.2 1.4M263.5 594.3l0.6 2.2M260.6 592.8l1 1.4M263.9 582.5l-0.2 2.3M263.5 599.7l-0.7 1.9M271.1 593.2l0.6 1.7M257.4 579.1l0.6 1.4M261.6 577.2l0.9 2M266.3 591.7l0.8 1.1M264.5 593.3l0.4 1.8M258.9 587.3l1.1 1.1M268.7 595.3l0.7 1.6M260 583.7l1.2 1.4M251.7 687.1l0.5 2M246.2 634.5l0.1 1.9M250.1 655.3l0.8 1.7M248.4 626.2l-0.4 1.5M252.1 619.3l-0.9 1.6M246.1 628.5l-0.6 2.1M253.5 634.5l0.3 1.4M250 622.5l0.2 2.3M253.1 637.7l0.9 1.8M251.2 635.9l0.1 1.7M250.3 654.6l1 1.5M247.8 605.5l0.2 2M251.6 687.2l-0.1 1.8M245.3 590.3l0.7 1.5M253.4 643.6l-0.7 1.7M258 687.8l0.2 1.6M249.6 642.5l-0.1 2.2M251.3 627.3l-0.5 1.8M244.7 608.2l0.5 1.3M247.3 638.6l-0.8 2M250.8 646.9l0.5 1.4M246.9 627.5l0 2.3M252.2 668.4l-0.1 1.7M249.8 680.6l1 2M253.1 654.3l-0.4 1.7M251.8 656l-0.2 2.2M253.2 678.5l0.4 2M255.1 653l0.1 1.6M254.2 650.9l0.5 1.5M248.6 609.1l-0.7 1.8M248.9 651l0.3 1.7M254.3 651l-0.5 2.1M257.4 677.5l-0.7 1.4M246.6 592.2l0.4 1.5M250.8 646.4l0 1.8M248.9 647.5l-0.4 2M253.1 671.6l-0.2 1.4M248.1 586.5l-0.3 1.5M255.5 686.4l0.1 1.8M256.5 687.6l0.7 1.8M250.3 618.3l1.1 1.9M248.8 627.4l0.8 2.1M245.4 589.4l1 1.5M244.9 614.2l0.3 2.1M250 580.5l-0.9 1.4M249.2 581.4l0.4 1.8M251.2 620.5l0.2 1.8M248.1 597.9l-0.1 1.9M252.1 661.3l0.9 2M249.4 590.5l0.3 1.7M244.9 601.3l0.5 1.8M254.3 646.5l0.2 1.4M249 638.9l-0.8 2.1M248.2 590.1l-0.2 1.7M253.9 685l-0.5 1.3M248.1 621.6l-0.6 1.7M250.5 675l0.3 2M254.4 635.7l-0.9 1.9M255.8 678.9l-0.4 1.3M252 634l0.1 1.7M251.5 639.7l-0.5 1.9M251.2 608.8l0.6 1.5M250.1 625.3l-0.6 2.2M250.5 607l0 1.3M255.5 649.2l-0.1 1.9M244.9 621.3l0.4 1.3M250.3 589.1l-0.5 2M245.5 617.9l0.7 1.4M250.8 642.4l-0.5 1.6M252.2 679.9l-0.3 1.8M248.1 601.6l-0.6 1.2M250.5 614.6l0.7 1.9M254.9 650.6l-0.4 2.1M251.8 584.1l-0.1 2.2M250.5 639.8l0.3 1.8M252.7 681.2l-0.4 1.7M250.7 678.1l0.1 1.6M244.8 611.8l-0.2 1.4M251.2 636.5l-0.1 1.6M253.7 680.4l-0.5 1.5M252.8 678.3l0 1.7M253 684.6l0 1.7M252 629.2l0.2 1.6M248.1 585.9l1.2 1.6M243.8 588.3l0.4 1.5M252.7 639.8l-0.3 1.6M256.9 681.9l1.2 1.8M253.9 655.5l-0.2 1.7M252.4 634.8l0 1.9M255.1 673.4l0 1.9M253.7 676.6l-0.8 2.1M251 623.7l-0.9 1.6M248.1 637.8l-0.1 1.8M253.5 652.2l0.3 1.3M249.3 659.3l-0.5 2.2M255.4 662.9l0.6 2.1M244.5 589.8l-0.4 1.4M246.4 601.3l-0.2 1.3M253.7 637.4l-0.7 1.7M247.4 578.6l1.3 1.7M250.5 678.4l1.4 1.7M247.6 607.3l-0.5 1.8M268.4 659.6l0.4 1.5M269.7 690.5l-0.4 1.5M268 685.4l0 1.4M272.6 633l0.8 1.9M266.4 599.6l0.9 2.1M265.9 605.7l0.2 1.4M273 646.2l0.4 1.6M270.4 690.9l0.4 1.6M270.8 619.1l0.5 1.9M270.1 624.6l1.2 1.7M270.5 618.9l-0.8 2.1M273.5 644.7l-0.7 1.9M264.4 590.5l-0.4 1.7M260.9 608l0.8 1.3M265.8 660l-0.3 1.3M264.9 590.4l0 2.2M262.8 601.2l0 1.4M271.5 681l0.3 2.1M267.6 644.4l1.1 1.6M262.3 604.6l-0.3 1.9M265.8 654.8l-0.7 1.9M273.1 625.5l-0.7 1.2M262.4 593.7l-0.7 1.6M270 609.5l1 1.4M270.8 624.1l-0.9 2.1M272.9 689.1l-0.4 1.4M268.6 635.8l0.6 2M263.9 611.7l-0.2 1.9M267.1 595.9l-0.4 2.2M265.5 613.3l-0.3 2.1M266.7 602.4l1.3 1.5M266.1 625.4l0.9 1.7M267.9 616.2l0.2 2.2M262.8 609.2l1 1.1M274.2 659.9l-0.9 2M264.6 611.3l0 2.3M270.5 639.4l-0.6 1.5M271.1 682l0.2 2.1M273.1 665.9l-0.4 2.2M268.1 629.5l-0.3 2M269.1 628.6l0.8 1.7M265 622.6l1.2 1.7M262.1 606l-0.3 1.6M266 598.5l1.2 1.9M273.8 671.4l1.1 1.5M268.7 635.1l-0.8 2M260.4 603.5l0.4 1.7M266.9 604.1l0.9 1.3M271.2 644.4l0.5 1.4M259.5 596.8l0.5 1.7M259.6 603.3l1.5 1.5M264.6 593.1l0.4 1.7M269.5 661l-0.3 1.4M269.7 618.3l0.4 1.7M267 599.7l0.9 1M265.7 655.2l-0.1 1.5M269.3 651.1l0.6 2M268.5 615.5l1.1 1.1M270.4 683.2l-0.5 1.7M268.5 615.7l0.3 1.6M273.2 641.3l0.3 1.4M269.1 637.5l-0.9 1.9M270.2 680l0.5 2.1M264.8 601l1.4 1.6M265.8 664.9l0.8 2M269.5 659.9l0.1 2.1M265.3 637.4l-0.8 1.5M270.3 643.7l-0.9 1.9M269.5 629.5l0.5 1.9M268.8 656.7l0 2M262.4 589.6l-0.1 2M273 672l-1.1 2M266.5 652.5l0.6 1.4M266.3 611.1l-0.5 1.6M266.7 684.6l0.7 1.2M270.4 690.8l-0.7 2M272.8 619.3l-0.9 2M266.4 629.6l1.3 1.8M265.5 651.5l-0.3 1.6M265.7 607.2l-0.5 1.8M271.4 643.9l0.7 1.4M268.7 619.9l-0.7 1.4M264.7 612.7l-0.5 1.5M268.4 619.4l0.8 1.2M271.2 644.9l0.8 1.9M268.5 637.8l-0.3 2M265.3 683l0.9 1.8M265.5 591.2l0.7 1.3M267.6 603.8l-0.4 2M268.8 640l-0.5 1.8M263.4 596.9l0.9 1.5M272.5 688.8l0.4 1.8M295.8 659.6l0.3 1.8M300.7 684.4l-0.8 1.7M296.1 683.5l-0.2 1.3M287.9 619.7l0.6 1.7M294.3 689.5l-0.3 1.8M284.1 623.1l0.3 1.3M292.6 638.2l0.8 1.6M283.1 606.4l0.1 1.6M291.7 649.3l0.4 2.1M287.1 641.4l-0.4 1.9M287.4 614.3l-1 1.9M290.5 603l1.3 1.5M292.3 680.7l-0.3 1.8M293.5 666.4l-0.5 1.4M290.2 642.6l1.1 1.5M300.1 683l-0.5 2M288.8 681.2l-0.2 1.9M293.1 642.7l0 1.7M293.4 672.6l0.2 1.8M289.8 664.4l-0.7 1.9M296.1 621.2l0.8 1.2M297.8 645l0.3 2M287.1 640.1l0.5 1.7M295.1 623.1l0 1.4M292.2 612.2l-0.4 2.2M293.7 618.8l-0.9 1.7M287.9 672.8l-0.2 1.5M289.3 689.7l1.4 1.8M296.8 658.6l0.1 1.6M294.7 670.3l1.1 1.8M295.2 629.3l-0.2 1.4M293.4 654.6l1.1 2M299.7 662.6l-0.8 1.8M290.4 675.1l0.7 1.5M286.1 615.4l-0.8 1.7M287.5 660.6l0 1.7M284.1 625.8l0.8 1.3M299.9 677.2l0.7 1.7M291 620.8l1.2 1.5M290.8 605.8l1.1 1.7M288.7 619.3l1.2 1.5M285.7 631.2l0.7 1.4M299.9 678.7l0.1 1.8M294.8 625.6l0.1 1.4M290.6 599.8l0.4 1.5M294.9 664.3l-0.2 1.9M288.3 664.6l-0.1 2M298.7 650l-0.6 1.7M285.2 602.8l0.2 2.2M292.6 637.2l-0.8 2.1M294.6 669.8l0.3 2M295.3 681.6l-0.4 1.8M296.4 649.7l0.5 1.5M300.6 689.5l0.6 1.4M291.8 674.4l0.4 1.4M290.6 661l-0.3 2M299.5 653.6l-0.7 2.1M291.5 614.2l-1.1 2M289.4 674.4l1 1.9M298.5 674.5l-0.9 1.9M289.2 683.9l0.8 1.3M298 672.9l0.5 2M295.4 675.3l0.3 2M293.2 690.9l0.4 1.5M288.5 616.6l-0.3 1.5M292.6 667.5l-0.1 1.8M297.8 636.2l0.1 2M288.7 681.2l-0.2 1.5M296 678l-1.1 1.9M293.8 606.9l1.2 1.6M290.7 644.4l0.6 1.8M292.7 607.6l-0.3 1.5M287.7 609.7l-1 2M291.3 680.6l0.9 1.2M293 652.9l-0.5 1.3M298.9 656.5l-0.4 1.4M289.6 644.1l-1 1.8M296.7 670.9l-0.2 1.8M291.2 644.7l0.3 1.7M292.7 669.3l-1.1 1.9M299 672.5l0.1 1.8M288.6 672.3l0.5 1.2M288.2 679.4l0.5 1.8M293.1 634.2l-0.1 2M296.2 681.9l0.1 1.8M295.2 689.7l-1 2M284.4 602.2l1 1.5M298.7 656.6l-0.1 2M290.5 631.3l0.3 1.4M284.9 623.1l-0.1 1.8M290.1 673.4l-0.4 1.7M294.5 648.5l1.3 1.8M290.6 606.4l-0.5 1.5M300.2 682.8l0.8 1.6M290.2 657.6l-0.9 1.9M283 616.9l1.1 1.4M296.7 630.4l1 2M297.4 688.3l-1.1 1.7M286.7 602.4l0.7 1.4M297.3 665.1l0.3 1.3M293 628.7l0.8 1.2M297.3 636.1l-0.7 1.4M297.1 632.5l-0.4 1.5M290.8 605.8l-0.9 2M290.6 642.1l1.3 1.8M297.4 668.5l-0.5 1.4M295.1 643.3l0 1.6M295.6 649.1l0.9 1.1M294.7 671.5l0.1 2M294 622.1l0.4 2M294.4 666.5l-0.1 1.6M293.3 686.5l-0.5 1.6M290.5 652.3l0 2.1M286.6 624.5l0.6 1.7M290.8 612.4l-0.5 1.3M289.3 616.4l-0.2 2" stroke="#5a6cff"/>
<path d="M270 629.4l-0.3 1.1M258 653.7l-0.5 1.1M248.4 629.6l0.3 1.3M316.1 601.9l-0.5 1.5M263.7 615.8l0.5 1.3M304.6 619.2l0.4 1.5M226.1 640.5l-0.4 1.3M241.3 644.5l0.2 1.4M299.4 668.4l-0.3 1M238.9 652.5l-0.2 1.6M258.2 582.1l0.4 0.9M269.3 612.5l0.8 1.4M215.5 615.4l-0.4 1.4M232.9 686.8l0.1 1.6M256.5 650.4l-0.5 0.9M273.4 643.7l-0.7 1.2M237.9 591.1l-0.1 1.1M247.9 686.7l0.4 1.1M285 633.6l-0.5 1.1M295.3 623.1l-0.8 1.4M230.1 618.1l0 1.3M275.5 655.3l0.5 1.3M302.3 622.8l0.3 1.1M277.4 589l0.4 1.1M287 661.5l0 1.1M248.8 582l-0.6 1.1M304 603.7l0.3 1.1M252.4 654.8l-0.1 1.2M222.7 606.7l-0.3 1.1M321.6 672.6l0.3 0.9M302.6 579.9l-0.2 1.3M254.8 642.6l0.7 1.3M304.2 579.1l0.4 1.5M230.6 591.6l-0.5 1.6M321.1 597.6l0.4 0.9M221.7 613.1l-0.7 1.3M228.6 621.2l-0.1 1.1M214.3 597.3l0.2 1M319.8 688.3l0 1.3M271.3 671.9l0.2 1.6M317.8 607l-0.1 1.6M242.7 690.3l0 1.4M218.9 621l-0.2 1.1M319.4 621l-0.1 1.5M243.9 656.5l-0.4 1.5M244.4 614.4l-0.1 1.3M262.2 641l-0.3 1M232.2 589.6l0 1.1M314.7 598.7l0.1 1.5M240.1 584.1l0.4 1.4M247.7 685.1l0.4 1.1M264.5 613.9l0.2 1M265.8 661.9l0.2 1.7M279.2 617.1l0.2 1.2M218.8 629.7l-0.1 1.5M217 578.4l-0.5 1.1M291 677.2l0.3 1.1M297.5 610.3l0 1M274.6 626.3l0.3 1.1M314.2 679.6l0.2 1.2M246.7 614.9l0.2 1.6M209.7 617.1l-0.1 1.4M246 659l0.1 1.1M312.6 598.8l-0.3 1.6M227.5 663l-0.4 1.2M313.1 590.8l0 1.7M268.1 676.8l0.1 1.4M263.8 657.5l-0.4 1.4M295.2 599.6l-0.2 1.5M293.6 595.8l-0.1 1M319.2 650.3l0.4 1.4M244 639.7l-0.5 1.5M320.7 651.6l-0.1 1.3M225.5 578.6l-0.7 1.5M303.2 596.9l-0.1 1.1M245.1 667.2l-0.4 0.9M297.5 657.7l-0.2 1.1M247.9 661.8l0.3 1M262.6 594.8l0.3 1.1M232.1 586.8l0.1 1.2M223.8 595.7l0.1 1M242 580.2l-0.3 1M261.9 590.6l-0.3 1.6M288.6 585l0.3 1M309.7 584.5l-0.4 1.5M303.6 624.5l0.1 1.2M282.9 631.2l-0.3 1.3M304.5 644.7l0.3 1.2M234.2 681.7l0.6 1.1M256.8 645.5l0.6 1.3" stroke="#2a36b8"/>
</g>
<rect x="207.8" y="575.5" width="114.9" height="116.5" fill="#000" filter="url(#nz)" opacity="0.5"/>
<g fill="none" stroke="#010104" stroke-linecap="round" filter="url(#blr1)">
<path d="M280 606 L280 692" stroke-width="7"/>
<path d="M304.5 625 L304.5 692" stroke-width="4.5"/>
<path d="M241 633 L244 660 L246 690" stroke-width="3"/>
</g>
<circle cx="245.6" cy="605.6" r="1.8" fill="#f4f4ff" filter="url(#blr2)"/><circle cx="254.7" cy="600.5" r="2.1" fill="#f4f4ff" filter="url(#blr2)"/><circle cx="274.2" cy="610.2" r="2.0" fill="#f4f4ff" filter="url(#blr2)"/><circle cx="272.5" cy="618.1" r="1.8" fill="#f4f4ff" filter="url(#blr2)"/><circle cx="278.8" cy="622.7" r="2.1" fill="#f4f4ff" filter="url(#blr2)"/><circle cx="266.3" cy="627.2" r="1.7" fill="#f4f4ff" filter="url(#blr2)"/><circle cx="295.8" cy="648.9" r="2.0" fill="#f4f4ff" filter="url(#blr2)"/><circle cx="294.6" cy="655.7" r="1.6" fill="#f4f4ff" filter="url(#blr2)"/><circle cx="288.4" cy="663.6" r="1.5" fill="#f4f4ff" filter="url(#blr2)"/><circle cx="307" cy="635.3" r="1.6" fill="#f4f4ff" filter="url(#blr2)"/><circle cx="266.8" cy="638.1" r="1.4" fill="#f4f4ff" filter="url(#blr2)"/><circle cx="267.4" cy="675.6" r="1.4" fill="#f4f4ff" filter="url(#blr2)"/><circle cx="262" cy="628" r="1.3" fill="#f4f4ff" filter="url(#blr2)"/><text x="209.2" y="666.6" font-size="10" fill="#5cb040">p57</text><text x="209.2" y="676.7" font-size="10" fill="#ffffff">Ki67</text><text x="209.2" y="686.4" font-size="10" fill="#4a60e0">DAPI</text>
</g>
<line x1="381.6" y1="591.5" x2="381.6" y2="681" stroke="#333" stroke-width="0.7"/>
<line x1="381.6" y1="680.8" x2="426.3" y2="680.8" stroke="#333" stroke-width="0.8"/>
<line x1="380" y1="680.5" x2="381.6" y2="680.5" stroke="#333" stroke-width="0.5"/>
<text x="379.6" y="682.5" font-size="5.7" text-anchor="end" fill="#333">0</text>
<line x1="380" y1="671.6" x2="381.6" y2="671.6" stroke="#333" stroke-width="0.5"/>
<text x="379.6" y="673.6" font-size="5.7" text-anchor="end" fill="#333">10</text>
<line x1="380" y1="662.8" x2="381.6" y2="662.8" stroke="#333" stroke-width="0.5"/>
<text x="379.6" y="664.8" font-size="5.7" text-anchor="end" fill="#333">20</text>
<line x1="380" y1="653.9" x2="381.6" y2="653.9" stroke="#333" stroke-width="0.5"/>
<text x="379.6" y="655.9" font-size="5.7" text-anchor="end" fill="#333">30</text>
<line x1="380" y1="645.1" x2="381.6" y2="645.1" stroke="#333" stroke-width="0.5"/>
<text x="379.6" y="647.1" font-size="5.7" text-anchor="end" fill="#333">40</text>
<line x1="380" y1="636.2" x2="381.6" y2="636.2" stroke="#333" stroke-width="0.5"/>
<text x="379.6" y="638.2" font-size="5.7" text-anchor="end" fill="#333">50</text>
<line x1="380" y1="627.3" x2="381.6" y2="627.3" stroke="#333" stroke-width="0.5"/>
<text x="379.6" y="629.3" font-size="5.7" text-anchor="end" fill="#333">60</text>
<line x1="380" y1="618.5" x2="381.6" y2="618.5" stroke="#333" stroke-width="0.5"/>
<text x="379.6" y="620.5" font-size="5.7" text-anchor="end" fill="#333">70</text>
<line x1="380" y1="609.6" x2="381.6" y2="609.6" stroke="#333" stroke-width="0.5"/>
<text x="379.6" y="611.6" font-size="5.7" text-anchor="end" fill="#333">80</text>
<line x1="380" y1="600.8" x2="381.6" y2="600.8" stroke="#333" stroke-width="0.5"/>
<text x="379.6" y="602.8" font-size="5.7" text-anchor="end" fill="#333">90</text>
<line x1="380" y1="591.9" x2="381.6" y2="591.9" stroke="#333" stroke-width="0.5"/>
<text x="379.6" y="593.9" font-size="5.7" text-anchor="end" fill="#333">100</text>
<rect x="390.7" y="601.2" width="10.1" height="79.3" fill="#353535"/>
<path d="M395.8 601.2 V595.6 M394.3 595.6 H397.3" stroke="#333" stroke-width="0.6" fill="none"/>
<circle cx="395.8" cy="592.2" r="1.2" fill="#fff" stroke="#555" stroke-width="0.5"/>
<circle cx="395.8" cy="615.7" r="1.1" fill="#555" stroke="#444" stroke-width="0.4"/>
<rect x="406.4" y="671.5" width="9.9" height="9" fill="#fff" stroke="#333" stroke-width="0.6"/>
<path d="M411.3 671.5 V664.4 M409.8 664.4 H412.8" stroke="#333" stroke-width="0.6" fill="none"/>
<circle cx="411.3" cy="657.3" r="1.1" fill="#fff" stroke="#555" stroke-width="0.5"/>
<circle cx="411.3" cy="676" r="1.1" fill="#fff" stroke="#555" stroke-width="0.5"/>
<rect x="436.7" y="649.4" width="35.9" height="25.9" fill="#fff" stroke="#333" stroke-width="0.8"/>
<rect x="440.8" y="653" width="7" height="6.7" fill="#3a3a3a" stroke="#222" stroke-width="0.5"/>
<rect x="440.8" y="666.2" width="7" height="6.5" fill="#fff" stroke="#333" stroke-width="0.6"/>
<text x="450.5" y="658.5" font-size="6.7" fill="#222">Lgr5<tspan font-size="4.2" dy="-2.5">+</tspan></text>
<text x="450.5" y="671.8" font-size="6.7" fill="#222">Lgr5<tspan font-size="4.2" dy="-2.5">−</tspan></text>
<text transform="translate(356.1,639) rotate(-90)" font-size="6.7" text-anchor="middle" fill="#333">Fraction of Lgr5<tspan font-size="4.6" dy="-2.3">+</tspan><tspan dy="2.3"> or Lgr5</tspan><tspan font-size="4.6" dy="-2.3">−</tspan><tspan dy="2.3"> cells</tspan></text>
<text transform="translate(365.3,633) rotate(-90)" font-size="6.9" text-anchor="middle" fill="#333">among p57<tspan font-size="4.6" dy="-2.3">+</tspan><tspan dy="2.3"> cells (%)</tspan></text>
</svg></body></html>
